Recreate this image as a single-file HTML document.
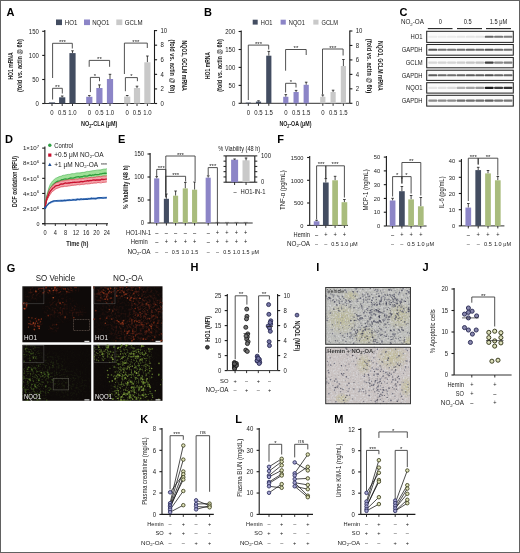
<!DOCTYPE html>
<html><head><meta charset="utf-8"><style>
html,body{margin:0;padding:0;background:#fff;}
body{width:520px;height:553px;overflow:hidden;}
svg{display:block;font-family:"Liberation Sans", sans-serif;will-change:transform;}
</style></head><body>
<svg width="520" height="553" viewBox="0 0 520 553" font-family='"Liberation Sans", sans-serif' fill="#1a1a1a">
<defs><filter id="bl1" x="-20%" y="-100%" width="140%" height="300%"><feGaussianBlur stdDeviation="0.35"/></filter><radialGradient id="rg"><stop offset="0" stop-color="#fff"/><stop offset="0.5" stop-color="#fff" stop-opacity="0.7"/><stop offset="1" stop-color="#fff" stop-opacity="0"/></radialGradient><filter id="f_tl" x="0" y="0" width="100%" height="100%" filterUnits="objectBoundingBox" color-interpolation-filters="sRGB"><feTurbulence type="fractalNoise" baseFrequency="0.5" numOctaves="2" seed="3"/><feColorMatrix type="matrix" values="0 0 0 0 0.55  0 0 0 0 0.17  0 0 0 0 0.1  3.4 0 0 0 -1.55"/></filter><mask id="m_tl" maskUnits="userSpaceOnUse" x="22.4" y="286.3" width="68.8" height="56"><rect x="22.4" y="286.3" width="68.8" height="56" fill="rgb(0,0,0)"/><ellipse cx="53.36" cy="289.66" rx="28.9" ry="5.6" fill="url(#rg)" opacity="0.8"/><ellipse cx="24.46" cy="305.9" rx="4.13" ry="4.48" fill="url(#rg)" opacity="1"/><ellipse cx="34.78" cy="323.26" rx="8.26" ry="6.72" fill="url(#rg)" opacity="1"/><ellipse cx="60.24" cy="308.7" rx="19.26" ry="15.68" fill="url(#rg)" opacity="0.35"/><ellipse cx="32.72" cy="294.7" rx="10.32" ry="8.4" fill="url(#rg)" opacity="0.3"/><ellipse cx="53.36" cy="328.3" rx="6.88" ry="5.6" fill="url(#rg)" opacity="0.4"/><ellipse cx="77.44" cy="311.5" rx="10.32" ry="8.4" fill="url(#rg)" opacity="0.3"/></mask><filter id="f_tr" x="0" y="0" width="100%" height="100%" filterUnits="objectBoundingBox" color-interpolation-filters="sRGB"><feTurbulence type="fractalNoise" baseFrequency="0.45" numOctaves="2" seed="5"/><feColorMatrix type="matrix" values="0 0 0 0 0.42  0 0 0 0 0.15  0 0 0 0 0.1  3.0 0 0 0 -1.3"/></filter><mask id="m_tr" maskUnits="userSpaceOnUse" x="93.5" y="286.3" width="69" height="56"><rect x="93.5" y="286.3" width="69" height="56" fill="rgb(30,30,30)"/><ellipse cx="103.85" cy="294.7" rx="11.73" ry="9.52" fill="url(#rg)" opacity="0.9"/><ellipse cx="128" cy="291.9" rx="20.7" ry="8.4" fill="url(#rg)" opacity="0.8"/><ellipse cx="145.25" cy="314.3" rx="20.7" ry="30.8" fill="url(#rg)" opacity="0.75"/><ellipse cx="128" cy="331.1" rx="20.7" ry="14" fill="url(#rg)" opacity="0.6"/><ellipse cx="159.05" cy="305.9" rx="5.52" ry="8.4" fill="url(#rg)" opacity="1"/><ellipse cx="114.2" cy="314.3" rx="13.8" ry="16.8" fill="url(#rg)" opacity="0.25"/></mask><filter id="f_bl" x="0" y="0" width="100%" height="100%" filterUnits="objectBoundingBox" color-interpolation-filters="sRGB"><feTurbulence type="fractalNoise" baseFrequency="0.55" numOctaves="2" seed="8"/><feColorMatrix type="matrix" values="0 0 0 0 0.26  0 0 0 0 0.37  0 0 0 0 0.13  3.4 0 0 0 -1.6"/></filter><mask id="m_bl" maskUnits="userSpaceOnUse" x="22.4" y="344.8" width="68.8" height="56"><rect x="22.4" y="344.8" width="68.8" height="56" fill="rgb(12,12,12)"/><ellipse cx="32.72" cy="384" rx="19.26" ry="25.2" fill="url(#rg)" opacity="0.9"/><ellipse cx="32.03" cy="352.64" rx="11.01" ry="8.96" fill="url(#rg)" opacity="0.7"/><ellipse cx="49.92" cy="372.8" rx="20.64" ry="22.4" fill="url(#rg)" opacity="0.35"/><ellipse cx="70.56" cy="384" rx="20.64" ry="16.8" fill="url(#rg)" opacity="0.2"/></mask><filter id="f_br" x="0" y="0" width="100%" height="100%" filterUnits="objectBoundingBox" color-interpolation-filters="sRGB"><feTurbulence type="fractalNoise" baseFrequency="0.55" numOctaves="2" seed="17"/><feColorMatrix type="matrix" values="0 0 0 0 0.4  0 0 0 0 0.52  0 0 0 0 0.19  3.3 0 0 0 -1.6"/></filter><mask id="m_br" maskUnits="userSpaceOnUse" x="93.5" y="344.8" width="69" height="56"><rect x="93.5" y="344.8" width="69" height="56" fill="rgb(10,10,10)"/><ellipse cx="132.83" cy="372.8" rx="20.7" ry="39.2" fill="url(#rg)" opacity="0.9"/><ellipse cx="124.55" cy="392.4" rx="17.25" ry="14" fill="url(#rg)" opacity="0.8"/><ellipse cx="102.47" cy="352.64" rx="12.42" ry="10.08" fill="url(#rg)" opacity="1"/><ellipse cx="141.8" cy="356" rx="12.42" ry="14" fill="url(#rg)" opacity="0.7"/><ellipse cx="121.1" cy="361.6" rx="10.35" ry="16.8" fill="url(#rg)" opacity="0.6"/></mask><radialGradient id="yg"><stop offset="0" stop-color="#bdb98a" stop-opacity="0.7"/><stop offset="0.6" stop-color="#bdb98a" stop-opacity="0.35"/><stop offset="1" stop-color="#c9c08a" stop-opacity="0"/></radialGradient><clipPath id="clip_a"><rect x="325.2" y="287" width="85.8" height="57.8"/></clipPath><filter id="fl_a" x="0" y="0" width="100%" height="100%" filterUnits="objectBoundingBox" color-interpolation-filters="sRGB"><feTurbulence type="fractalNoise" baseFrequency="0.6" numOctaves="1" seed="4"/><feColorMatrix type="matrix" values="0 0 0 0 0.86  0 0 0 0 0.86  0 0 0 0 0.87  2.6 0 0 0 -1.2"/></filter><filter id="fd_a" x="0" y="0" width="100%" height="100%" filterUnits="objectBoundingBox" color-interpolation-filters="sRGB"><feTurbulence type="fractalNoise" baseFrequency="0.6" numOctaves="2" seed="11"/><feColorMatrix type="matrix" values="0 0 0 0 0.56  0 0 0 0 0.56  0 0 0 0 0.58  2.2 0 0 0 -1.3"/></filter><clipPath id="clip_b"><rect x="325.2" y="346.8" width="85.8" height="57.4"/></clipPath><filter id="fl_b" x="0" y="0" width="100%" height="100%" filterUnits="objectBoundingBox" color-interpolation-filters="sRGB"><feTurbulence type="fractalNoise" baseFrequency="0.6" numOctaves="1" seed="12"/><feColorMatrix type="matrix" values="0 0 0 0 0.86  0 0 0 0 0.86  0 0 0 0 0.87  2.6 0 0 0 -1.2"/></filter><filter id="fd_b" x="0" y="0" width="100%" height="100%" filterUnits="objectBoundingBox" color-interpolation-filters="sRGB"><feTurbulence type="fractalNoise" baseFrequency="0.6" numOctaves="2" seed="13"/><feColorMatrix type="matrix" values="0 0 0 0 0.56  0 0 0 0 0.56  0 0 0 0 0.58  2.2 0 0 0 -1.35"/></filter></defs>
<rect x="0.5" y="0.5" width="519" height="552" fill="none" stroke="#616161" stroke-width="1"/>
<text x="6.6" y="16.2" font-size="11" font-weight="bold" fill="#000">A</text>
<rect x="56" y="19.5" width="6" height="5.6" fill="#434d61"/>
<text x="64.8" y="25" font-size="6.8" textLength="12.58" lengthAdjust="spacingAndGlyphs">HO1</text>
<rect x="84" y="19.5" width="6" height="5.6" fill="#8c85c7"/>
<text x="92.2" y="25" font-size="6.8" textLength="17.34" lengthAdjust="spacingAndGlyphs">NQO1</text>
<rect x="116.3" y="19.5" width="6" height="5.6" fill="#c9c9c9"/>
<text x="124.8" y="25" font-size="6.8" textLength="17.68" lengthAdjust="spacingAndGlyphs">GCLM</text>
<line x1="44.8" y1="30" x2="44.8" y2="103.5" stroke="#1a1a1a" stroke-width="1.1"/>
<line x1="42.2" y1="31.3" x2="44.8" y2="31.3" stroke="#1a1a1a" stroke-width="1.1"/>
<text x="38.9" y="33.5" font-size="6.4" text-anchor="end" textLength="10.04" lengthAdjust="spacingAndGlyphs">150</text>
<line x1="42.2" y1="55.4" x2="44.8" y2="55.4" stroke="#1a1a1a" stroke-width="1.1"/>
<text x="38.9" y="57.6" font-size="6.4" text-anchor="end" textLength="10.04" lengthAdjust="spacingAndGlyphs">100</text>
<line x1="42.2" y1="79.5" x2="44.8" y2="79.5" stroke="#1a1a1a" stroke-width="1.1"/>
<text x="38.9" y="81.7" font-size="6.4" text-anchor="end" textLength="6.69" lengthAdjust="spacingAndGlyphs">50</text>
<line x1="42.2" y1="103.5" x2="44.8" y2="103.5" stroke="#1a1a1a" stroke-width="1.1"/>
<text x="38.9" y="105.7" font-size="6.4" text-anchor="end" textLength="3.35" lengthAdjust="spacingAndGlyphs">0</text>
<line x1="154.5" y1="30" x2="154.5" y2="103.5" stroke="#1a1a1a" stroke-width="1.1"/>
<line x1="154.5" y1="30.6" x2="157.1" y2="30.6" stroke="#1a1a1a" stroke-width="1.1"/>
<text x="160.4" y="32.8" font-size="6.4" textLength="6.69" lengthAdjust="spacingAndGlyphs">10</text>
<line x1="154.5" y1="45.18" x2="157.1" y2="45.18" stroke="#1a1a1a" stroke-width="1.1"/>
<text x="160.4" y="47.38" font-size="6.4" textLength="3.35" lengthAdjust="spacingAndGlyphs">8</text>
<line x1="154.5" y1="59.76" x2="157.1" y2="59.76" stroke="#1a1a1a" stroke-width="1.1"/>
<text x="160.4" y="61.96" font-size="6.4" textLength="3.35" lengthAdjust="spacingAndGlyphs">6</text>
<line x1="154.5" y1="74.34" x2="157.1" y2="74.34" stroke="#1a1a1a" stroke-width="1.1"/>
<text x="160.4" y="76.54" font-size="6.4" textLength="3.35" lengthAdjust="spacingAndGlyphs">4</text>
<line x1="154.5" y1="88.92" x2="157.1" y2="88.92" stroke="#1a1a1a" stroke-width="1.1"/>
<text x="160.4" y="91.12" font-size="6.4" textLength="3.35" lengthAdjust="spacingAndGlyphs">2</text>
<line x1="154.5" y1="103.5" x2="157.1" y2="103.5" stroke="#1a1a1a" stroke-width="1.1"/>
<text x="160.4" y="105.7" font-size="6.4" textLength="3.35" lengthAdjust="spacingAndGlyphs">0</text>
<line x1="44.8" y1="103.5" x2="154.5" y2="103.5" stroke="#1a1a1a" stroke-width="0.9"/>
<line x1="52" y1="103.5" x2="52" y2="106" stroke="#1a1a1a" stroke-width="0.9"/>
<line x1="62.2" y1="103.5" x2="62.2" y2="106" stroke="#1a1a1a" stroke-width="0.9"/>
<line x1="72.5" y1="103.5" x2="72.5" y2="106" stroke="#1a1a1a" stroke-width="0.9"/>
<line x1="89.3" y1="103.5" x2="89.3" y2="106" stroke="#1a1a1a" stroke-width="0.9"/>
<line x1="99.4" y1="103.5" x2="99.4" y2="106" stroke="#1a1a1a" stroke-width="0.9"/>
<line x1="110" y1="103.5" x2="110" y2="106" stroke="#1a1a1a" stroke-width="0.9"/>
<line x1="127.2" y1="103.5" x2="127.2" y2="106" stroke="#1a1a1a" stroke-width="0.9"/>
<line x1="137" y1="103.5" x2="137" y2="106" stroke="#1a1a1a" stroke-width="0.9"/>
<line x1="147.4" y1="103.5" x2="147.4" y2="106" stroke="#1a1a1a" stroke-width="0.9"/>
<rect x="48.9" y="102.4" width="6.2" height="1.1" fill="#434d61"/>
<line x1="62.2" y1="96" x2="62.2" y2="97.3" stroke="#1a1a1a" stroke-width="0.8"/>
<line x1="60.9" y1="96" x2="63.5" y2="96" stroke="#1a1a1a" stroke-width="0.8"/>
<rect x="59.1" y="97.3" width="6.2" height="6.2" fill="#434d61"/>
<line x1="72.5" y1="50.8" x2="72.5" y2="53.1" stroke="#1a1a1a" stroke-width="0.8"/>
<line x1="71.2" y1="50.8" x2="73.8" y2="50.8" stroke="#1a1a1a" stroke-width="0.8"/>
<rect x="69.4" y="53.1" width="6.2" height="50.4" fill="#434d61"/>
<line x1="89.3" y1="95.6" x2="89.3" y2="96.8" stroke="#1a1a1a" stroke-width="0.8"/>
<line x1="88" y1="95.6" x2="90.6" y2="95.6" stroke="#1a1a1a" stroke-width="0.8"/>
<rect x="86.2" y="96.8" width="6.2" height="6.7" fill="#8c85c7"/>
<line x1="99.4" y1="84.9" x2="99.4" y2="88" stroke="#1a1a1a" stroke-width="0.8"/>
<line x1="98.1" y1="84.9" x2="100.7" y2="84.9" stroke="#1a1a1a" stroke-width="0.8"/>
<rect x="96.3" y="88" width="6.2" height="15.5" fill="#8c85c7"/>
<line x1="110" y1="74.3" x2="110" y2="79" stroke="#1a1a1a" stroke-width="0.8"/>
<line x1="108.7" y1="74.3" x2="111.3" y2="74.3" stroke="#1a1a1a" stroke-width="0.8"/>
<rect x="106.9" y="79" width="6.2" height="24.5" fill="#8c85c7"/>
<line x1="127.2" y1="95.5" x2="127.2" y2="96.6" stroke="#1a1a1a" stroke-width="0.8"/>
<line x1="125.9" y1="95.5" x2="128.5" y2="95.5" stroke="#1a1a1a" stroke-width="0.8"/>
<rect x="124.1" y="96.6" width="6.2" height="6.9" fill="#c9c9c9"/>
<line x1="137" y1="86.2" x2="137" y2="88" stroke="#1a1a1a" stroke-width="0.8"/>
<line x1="135.7" y1="86.2" x2="138.3" y2="86.2" stroke="#1a1a1a" stroke-width="0.8"/>
<rect x="133.9" y="88" width="6.2" height="15.5" fill="#c9c9c9"/>
<line x1="147.4" y1="56" x2="147.4" y2="62.3" stroke="#1a1a1a" stroke-width="0.8"/>
<line x1="146.1" y1="56" x2="148.7" y2="56" stroke="#1a1a1a" stroke-width="0.8"/>
<rect x="144.3" y="62.3" width="6.2" height="41.2" fill="#c9c9c9"/>
<polyline points="52.6,99.5 52.6,88.3 62.3,88.3 62.3,93.5" fill="none" stroke="#333" stroke-width="0.85"/>
<text x="57.45" y="88.9" font-size="6" text-anchor="middle">**</text>
<polyline points="52.6,78 52.6,43.3 72.3,43.3 72.3,48.5" fill="none" stroke="#333" stroke-width="0.85"/>
<text x="62.45" y="43.9" font-size="6" text-anchor="middle">***</text>
<polyline points="89.2,66.8 89.2,60.4 109.6,60.4 109.6,66.8" fill="none" stroke="#333" stroke-width="0.85"/>
<text x="99.4" y="61" font-size="6" text-anchor="middle">**</text>
<polyline points="90.4,92.1 90.4,77.4 99.5,77.4 99.5,81.2" fill="none" stroke="#333" stroke-width="0.85"/>
<text x="94.95" y="78" font-size="6" text-anchor="middle">*</text>
<polyline points="125.4,91.2 125.4,77.6 137.4,77.6 137.4,81.2" fill="none" stroke="#333" stroke-width="0.85"/>
<text x="131.4" y="78.2" font-size="6" text-anchor="middle">*</text>
<polyline points="124.4,74 124.4,43.1 147.3,43.1 147.3,48" fill="none" stroke="#333" stroke-width="0.85"/>
<text x="135.85" y="43.7" font-size="6" text-anchor="middle">***</text>
<text x="52" y="114.8" font-size="6.4" text-anchor="middle" textLength="3.35" lengthAdjust="spacingAndGlyphs">0</text>
<text x="62.2" y="114.8" font-size="6.4" text-anchor="middle" textLength="8.36" lengthAdjust="spacingAndGlyphs">0.5</text>
<text x="72.5" y="114.8" font-size="6.4" text-anchor="middle" textLength="8.36" lengthAdjust="spacingAndGlyphs">1.0</text>
<text x="89.3" y="114.8" font-size="6.4" text-anchor="middle" textLength="3.35" lengthAdjust="spacingAndGlyphs">0</text>
<text x="99.4" y="114.8" font-size="6.4" text-anchor="middle" textLength="8.36" lengthAdjust="spacingAndGlyphs">0.5</text>
<text x="110" y="114.8" font-size="6.4" text-anchor="middle" textLength="8.36" lengthAdjust="spacingAndGlyphs">1.0</text>
<text x="127.2" y="114.8" font-size="6.4" text-anchor="middle" textLength="3.35" lengthAdjust="spacingAndGlyphs">0</text>
<text x="137" y="114.8" font-size="6.4" text-anchor="middle" textLength="8.36" lengthAdjust="spacingAndGlyphs">0.5</text>
<text x="147.4" y="114.8" font-size="6.4" text-anchor="middle" textLength="8.36" lengthAdjust="spacingAndGlyphs">1.0</text>
<text x="99.2" y="126.3" font-size="7.3" text-anchor="middle" font-weight="bold" textLength="36.3" lengthAdjust="spacingAndGlyphs">NO<tspan font-size="5" dy="1.3">2</tspan><tspan dy="-1.3">-CLA (μM)</tspan></text>
<text x="13.2" y="66" font-size="7.3" text-anchor="middle" font-weight="bold" textLength="27.2" lengthAdjust="spacingAndGlyphs" transform="rotate(-90 13.2 66)">HO1 mRNA</text>
<text x="22.2" y="65.6" font-size="7.3" text-anchor="middle" font-weight="bold" textLength="52.7" lengthAdjust="spacingAndGlyphs" transform="rotate(-90 22.2 65.6)">(fold vs. actin @ 6h)</text>
<text x="182.3" y="65.6" font-size="7.3" text-anchor="middle" font-weight="bold" textLength="50.4" lengthAdjust="spacingAndGlyphs" transform="rotate(90 182.3 65.6)">NQO1, GCLM mRNA</text>
<text x="170.2" y="66.4" font-size="7.3" text-anchor="middle" font-weight="bold" textLength="53.8" lengthAdjust="spacingAndGlyphs" transform="rotate(90 170.2 66.4)">(fold vs. actin @ 6h)</text>
<text x="204" y="16.3" font-size="11" font-weight="bold" fill="#000">B</text>
<rect x="252.7" y="19.7" width="5" height="4.9" fill="#434d61"/>
<text x="260.8" y="24.6" font-size="6.3" textLength="11.66" lengthAdjust="spacingAndGlyphs">HO1</text>
<rect x="280.6" y="19.7" width="5.2" height="4.9" fill="#8c85c7"/>
<text x="288.8" y="24.6" font-size="6.3" textLength="16.07" lengthAdjust="spacingAndGlyphs">NQO1</text>
<rect x="313.3" y="19.7" width="5.2" height="4.9" fill="#c9c9c9"/>
<text x="321.5" y="24.6" font-size="6.3" textLength="16.38" lengthAdjust="spacingAndGlyphs">GCLM</text>
<line x1="241.2" y1="30.5" x2="241.2" y2="103.3" stroke="#1a1a1a" stroke-width="1.1"/>
<line x1="238.6" y1="31.5" x2="241.2" y2="31.5" stroke="#1a1a1a" stroke-width="1.1"/>
<text x="235.3" y="33.7" font-size="6.4" text-anchor="end" textLength="10.04" lengthAdjust="spacingAndGlyphs">200</text>
<line x1="238.6" y1="49.5" x2="241.2" y2="49.5" stroke="#1a1a1a" stroke-width="1.1"/>
<text x="235.3" y="51.7" font-size="6.4" text-anchor="end" textLength="10.04" lengthAdjust="spacingAndGlyphs">150</text>
<line x1="238.6" y1="67.4" x2="241.2" y2="67.4" stroke="#1a1a1a" stroke-width="1.1"/>
<text x="235.3" y="69.6" font-size="6.4" text-anchor="end" textLength="10.04" lengthAdjust="spacingAndGlyphs">100</text>
<line x1="238.6" y1="85.4" x2="241.2" y2="85.4" stroke="#1a1a1a" stroke-width="1.1"/>
<text x="235.3" y="87.6" font-size="6.4" text-anchor="end" textLength="6.69" lengthAdjust="spacingAndGlyphs">50</text>
<line x1="238.6" y1="103.3" x2="241.2" y2="103.3" stroke="#1a1a1a" stroke-width="1.1"/>
<text x="235.3" y="105.5" font-size="6.4" text-anchor="end" textLength="3.35" lengthAdjust="spacingAndGlyphs">0</text>
<line x1="349.8" y1="30.5" x2="349.8" y2="103.3" stroke="#1a1a1a" stroke-width="1.1"/>
<line x1="349.8" y1="31" x2="352.4" y2="31" stroke="#1a1a1a" stroke-width="1.1"/>
<text x="355.7" y="33.2" font-size="6.4" textLength="6.69" lengthAdjust="spacingAndGlyphs">10</text>
<line x1="349.8" y1="45.46" x2="352.4" y2="45.46" stroke="#1a1a1a" stroke-width="1.1"/>
<text x="355.7" y="47.66" font-size="6.4" textLength="3.35" lengthAdjust="spacingAndGlyphs">8</text>
<line x1="349.8" y1="59.92" x2="352.4" y2="59.92" stroke="#1a1a1a" stroke-width="1.1"/>
<text x="355.7" y="62.12" font-size="6.4" textLength="3.35" lengthAdjust="spacingAndGlyphs">6</text>
<line x1="349.8" y1="74.38" x2="352.4" y2="74.38" stroke="#1a1a1a" stroke-width="1.1"/>
<text x="355.7" y="76.58" font-size="6.4" textLength="3.35" lengthAdjust="spacingAndGlyphs">4</text>
<line x1="349.8" y1="88.84" x2="352.4" y2="88.84" stroke="#1a1a1a" stroke-width="1.1"/>
<text x="355.7" y="91.04" font-size="6.4" textLength="3.35" lengthAdjust="spacingAndGlyphs">2</text>
<line x1="349.8" y1="103.3" x2="352.4" y2="103.3" stroke="#1a1a1a" stroke-width="1.1"/>
<text x="355.7" y="105.5" font-size="6.4" textLength="3.35" lengthAdjust="spacingAndGlyphs">0</text>
<line x1="241.2" y1="103.3" x2="349.8" y2="103.3" stroke="#1a1a1a" stroke-width="0.9"/>
<line x1="248.3" y1="103.3" x2="248.3" y2="105.8" stroke="#1a1a1a" stroke-width="0.9"/>
<line x1="258.5" y1="103.3" x2="258.5" y2="105.8" stroke="#1a1a1a" stroke-width="0.9"/>
<line x1="268.8" y1="103.3" x2="268.8" y2="105.8" stroke="#1a1a1a" stroke-width="0.9"/>
<line x1="285.8" y1="103.3" x2="285.8" y2="105.8" stroke="#1a1a1a" stroke-width="0.9"/>
<line x1="296.1" y1="103.3" x2="296.1" y2="105.8" stroke="#1a1a1a" stroke-width="0.9"/>
<line x1="306.2" y1="103.3" x2="306.2" y2="105.8" stroke="#1a1a1a" stroke-width="0.9"/>
<line x1="322.8" y1="103.3" x2="322.8" y2="105.8" stroke="#1a1a1a" stroke-width="0.9"/>
<line x1="333.1" y1="103.3" x2="333.1" y2="105.8" stroke="#1a1a1a" stroke-width="0.9"/>
<line x1="343.4" y1="103.3" x2="343.4" y2="105.8" stroke="#1a1a1a" stroke-width="0.9"/>
<rect x="245.7" y="102.6" width="5.2" height="0.7" fill="#434d61"/>
<line x1="258.5" y1="100.8" x2="258.5" y2="101.6" stroke="#1a1a1a" stroke-width="0.8"/>
<line x1="257.2" y1="100.8" x2="259.8" y2="100.8" stroke="#1a1a1a" stroke-width="0.8"/>
<rect x="255.9" y="101.6" width="5.2" height="1.7" fill="#434d61"/>
<line x1="268.8" y1="51.4" x2="268.8" y2="55.7" stroke="#1a1a1a" stroke-width="0.8"/>
<line x1="267.5" y1="51.4" x2="270.1" y2="51.4" stroke="#1a1a1a" stroke-width="0.8"/>
<rect x="266.2" y="55.7" width="5.2" height="47.6" fill="#434d61"/>
<line x1="285.8" y1="94.6" x2="285.8" y2="96.8" stroke="#1a1a1a" stroke-width="0.8"/>
<line x1="284.5" y1="94.6" x2="287.1" y2="94.6" stroke="#1a1a1a" stroke-width="0.8"/>
<rect x="283.2" y="96.8" width="5.2" height="6.5" fill="#8c85c7"/>
<line x1="296.1" y1="90.4" x2="296.1" y2="92" stroke="#1a1a1a" stroke-width="0.8"/>
<line x1="294.8" y1="90.4" x2="297.4" y2="90.4" stroke="#1a1a1a" stroke-width="0.8"/>
<rect x="293.5" y="92" width="5.2" height="11.3" fill="#8c85c7"/>
<line x1="306.2" y1="82.2" x2="306.2" y2="84.8" stroke="#1a1a1a" stroke-width="0.8"/>
<line x1="304.9" y1="82.2" x2="307.5" y2="82.2" stroke="#1a1a1a" stroke-width="0.8"/>
<rect x="303.6" y="84.8" width="5.2" height="18.5" fill="#8c85c7"/>
<line x1="322.8" y1="95" x2="322.8" y2="96.8" stroke="#1a1a1a" stroke-width="0.8"/>
<line x1="321.5" y1="95" x2="324.1" y2="95" stroke="#1a1a1a" stroke-width="0.8"/>
<rect x="320.2" y="96.8" width="5.2" height="6.5" fill="#c9c9c9"/>
<line x1="333.1" y1="90.2" x2="333.1" y2="92" stroke="#1a1a1a" stroke-width="0.8"/>
<line x1="331.8" y1="90.2" x2="334.4" y2="90.2" stroke="#1a1a1a" stroke-width="0.8"/>
<rect x="330.5" y="92" width="5.2" height="11.3" fill="#c9c9c9"/>
<line x1="343.4" y1="59.5" x2="343.4" y2="66" stroke="#1a1a1a" stroke-width="0.8"/>
<line x1="342.1" y1="59.5" x2="344.7" y2="59.5" stroke="#1a1a1a" stroke-width="0.8"/>
<rect x="340.8" y="66" width="5.2" height="37.3" fill="#c9c9c9"/>
<polyline points="248.3,100 248.3,45.1 268.7,45.1 268.7,49.5" fill="none" stroke="#333" stroke-width="0.85"/>
<text x="258.5" y="45.7" font-size="6" text-anchor="middle">***</text>
<polyline points="285.6,70.7 285.6,49.5 306.2,49.5 306.2,55" fill="none" stroke="#333" stroke-width="0.85"/>
<text x="295.9" y="50.1" font-size="6" text-anchor="middle">**</text>
<polyline points="285.6,92.5 285.6,83.3 296,83.3 296,87.5" fill="none" stroke="#333" stroke-width="0.85"/>
<text x="290.8" y="83.9" font-size="6" text-anchor="middle">*</text>
<polyline points="322.5,94.6 322.5,49 343.1,49 343.1,55.5" fill="none" stroke="#333" stroke-width="0.85"/>
<text x="332.8" y="49.6" font-size="6" text-anchor="middle">***</text>
<text x="248.3" y="115.2" font-size="6.4" text-anchor="middle" textLength="3.35" lengthAdjust="spacingAndGlyphs">0</text>
<text x="258.5" y="115.2" font-size="6.4" text-anchor="middle" textLength="8.36" lengthAdjust="spacingAndGlyphs">0.5</text>
<text x="268.8" y="115.2" font-size="6.4" text-anchor="middle" textLength="8.36" lengthAdjust="spacingAndGlyphs">1.5</text>
<text x="285.8" y="115.2" font-size="6.4" text-anchor="middle" textLength="3.35" lengthAdjust="spacingAndGlyphs">0</text>
<text x="296.1" y="115.2" font-size="6.4" text-anchor="middle" textLength="8.36" lengthAdjust="spacingAndGlyphs">0.5</text>
<text x="306.2" y="115.2" font-size="6.4" text-anchor="middle" textLength="8.36" lengthAdjust="spacingAndGlyphs">1.5</text>
<text x="322.8" y="115.2" font-size="6.4" text-anchor="middle" textLength="3.35" lengthAdjust="spacingAndGlyphs">0</text>
<text x="333.1" y="115.2" font-size="6.4" text-anchor="middle" textLength="8.36" lengthAdjust="spacingAndGlyphs">0.5</text>
<text x="343.4" y="115.2" font-size="6.4" text-anchor="middle" textLength="8.36" lengthAdjust="spacingAndGlyphs">1.5</text>
<text x="295.4" y="126.3" font-size="7.3" text-anchor="middle" font-weight="bold" textLength="32" lengthAdjust="spacingAndGlyphs">NO<tspan font-size="5" dy="1.3">2</tspan><tspan dy="-1.3">-OA (μM)</tspan></text>
<text x="210.2" y="65.5" font-size="7.3" text-anchor="middle" font-weight="bold" textLength="27" lengthAdjust="spacingAndGlyphs" transform="rotate(-90 210.2 65.5)">HO1 mRNA</text>
<text x="222.2" y="65.5" font-size="7.3" text-anchor="middle" font-weight="bold" textLength="52.5" lengthAdjust="spacingAndGlyphs" transform="rotate(-90 222.2 65.5)">(fold vs. actin @ 6h)</text>
<text x="377.9" y="65.8" font-size="7.3" text-anchor="middle" font-weight="bold" textLength="49.7" lengthAdjust="spacingAndGlyphs" transform="rotate(90 377.9 65.8)">NQO1, GCLM mRNA</text>
<text x="367.4" y="66" font-size="7.3" text-anchor="middle" font-weight="bold" textLength="54.5" lengthAdjust="spacingAndGlyphs" transform="rotate(90 367.4 66)">(fold vs. actin @ 6h)</text>
<text x="399.5" y="15.8" font-size="11" font-weight="bold" fill="#000">C</text>
<text x="400.9" y="24.4" font-size="6.3">NO<tspan font-size="4.3" dy="1.2">2</tspan><tspan dy="-1.2">-OA</tspan></text>
<text x="440.2" y="24.4" font-size="6.3" text-anchor="middle" textLength="3.15" lengthAdjust="spacingAndGlyphs">0</text>
<text x="467.7" y="24.4" font-size="6.3" text-anchor="middle" textLength="7.88" lengthAdjust="spacingAndGlyphs">0.5</text>
<text x="498.5" y="24.4" font-size="6.3" text-anchor="middle" textLength="17.45" lengthAdjust="spacingAndGlyphs">1.5 μM</text>
<line x1="427.8" y1="28.6" x2="452.5" y2="28.6" stroke="#222" stroke-width="1.1"/>
<line x1="457" y1="28.6" x2="482" y2="28.6" stroke="#222" stroke-width="1.1"/>
<line x1="486" y1="28.6" x2="511" y2="28.6" stroke="#222" stroke-width="1.1"/>
<rect x="426.7" y="31.3" width="86.6" height="11.1" fill="#fbfbfb" stroke="#262626" stroke-width="1.05"/>
<text x="422.6" y="39.15" font-size="6.5" text-anchor="end" textLength="12.03" lengthAdjust="spacingAndGlyphs">HO1</text>
<rect x="428.3" y="35.75" width="9.0" height="2.1" rx="0.9" fill="rgb(237,237,237)" filter="url(#bl1)"/>
<rect x="437.7" y="35.75" width="9.0" height="2.1" rx="0.9" fill="rgb(237,237,237)" filter="url(#bl1)"/>
<rect x="447.1" y="35.75" width="9.0" height="2.1" rx="0.9" fill="rgb(235,235,235)" filter="url(#bl1)"/>
<rect x="456.5" y="35.75" width="9.0" height="2.1" rx="0.9" fill="rgb(230,230,230)" filter="url(#bl1)"/>
<rect x="465.9" y="35.75" width="9.0" height="2.1" rx="0.9" fill="rgb(228,228,228)" filter="url(#bl1)"/>
<rect x="475.3" y="35.75" width="9.0" height="2.1" rx="0.9" fill="rgb(226,226,226)" filter="url(#bl1)"/>
<rect x="484.7" y="35.75" width="9.0" height="2.1" rx="0.9" fill="rgb(102,102,102)" filter="url(#bl1)"/>
<rect x="494.1" y="35.75" width="9.0" height="2.1" rx="0.9" fill="rgb(118,118,118)" filter="url(#bl1)"/>
<rect x="503.5" y="35.75" width="9.0" height="2.1" rx="0.9" fill="rgb(125,125,125)" filter="url(#bl1)"/>
<rect x="426.7" y="44.5" width="86.6" height="10.7" fill="#fbfbfb" stroke="#262626" stroke-width="1.05"/>
<text x="422.6" y="52.15" font-size="6.5" text-anchor="end" textLength="20.8" lengthAdjust="spacingAndGlyphs">GAPDH</text>
<rect x="428.3" y="48.75" width="9.0" height="2.1" rx="0.9" fill="rgb(89,89,89)" filter="url(#bl1)"/>
<rect x="437.7" y="48.75" width="9.0" height="2.1" rx="0.9" fill="rgb(118,118,118)" filter="url(#bl1)"/>
<rect x="447.1" y="48.75" width="9.0" height="2.1" rx="0.9" fill="rgb(118,118,118)" filter="url(#bl1)"/>
<rect x="456.5" y="48.75" width="9.0" height="2.1" rx="0.9" fill="rgb(111,111,111)" filter="url(#bl1)"/>
<rect x="465.9" y="48.75" width="9.0" height="2.1" rx="0.9" fill="rgb(102,102,102)" filter="url(#bl1)"/>
<rect x="475.3" y="48.75" width="9.0" height="2.1" rx="0.9" fill="rgb(107,107,107)" filter="url(#bl1)"/>
<rect x="484.7" y="48.75" width="9.0" height="2.1" rx="0.9" fill="rgb(84,84,84)" filter="url(#bl1)"/>
<rect x="494.1" y="48.75" width="9.0" height="2.1" rx="0.9" fill="rgb(107,107,107)" filter="url(#bl1)"/>
<rect x="503.5" y="48.75" width="9.0" height="2.1" rx="0.9" fill="rgb(111,111,111)" filter="url(#bl1)"/>
<rect x="426.7" y="57.5" width="86.6" height="10.3" fill="#fbfbfb" stroke="#262626" stroke-width="1.05"/>
<text x="422.6" y="64.95" font-size="6.5" text-anchor="end" textLength="16.9" lengthAdjust="spacingAndGlyphs">GCLM</text>
<rect x="428.3" y="61.55" width="9.0" height="2.1" rx="0.9" fill="rgb(215,215,215)" filter="url(#bl1)"/>
<rect x="437.7" y="61.55" width="9.0" height="2.1" rx="0.9" fill="rgb(212,212,212)" filter="url(#bl1)"/>
<rect x="447.1" y="61.55" width="9.0" height="2.1" rx="0.9" fill="rgb(212,212,212)" filter="url(#bl1)"/>
<rect x="456.5" y="61.55" width="9.0" height="2.1" rx="0.9" fill="rgb(206,206,206)" filter="url(#bl1)"/>
<rect x="465.9" y="61.55" width="9.0" height="2.1" rx="0.9" fill="rgb(197,197,197)" filter="url(#bl1)"/>
<rect x="475.3" y="61.55" width="9.0" height="2.1" rx="0.9" fill="rgb(192,192,192)" filter="url(#bl1)"/>
<rect x="484.7" y="61.55" width="9.0" height="2.1" rx="0.9" fill="rgb(66,66,66)" filter="url(#bl1)"/>
<rect x="494.1" y="61.55" width="9.0" height="2.1" rx="0.9" fill="rgb(140,140,140)" filter="url(#bl1)"/>
<rect x="503.5" y="61.55" width="9.0" height="2.1" rx="0.9" fill="rgb(129,129,129)" filter="url(#bl1)"/>
<rect x="426.7" y="70.2" width="86.6" height="10.2" fill="#fbfbfb" stroke="#262626" stroke-width="1.05"/>
<text x="422.6" y="77.6" font-size="6.5" text-anchor="end" textLength="20.8" lengthAdjust="spacingAndGlyphs">GAPDH</text>
<rect x="428.3" y="74.2" width="9.0" height="2.1" rx="0.9" fill="rgb(93,93,93)" filter="url(#bl1)"/>
<rect x="437.7" y="74.2" width="9.0" height="2.1" rx="0.9" fill="rgb(107,107,107)" filter="url(#bl1)"/>
<rect x="447.1" y="74.2" width="9.0" height="2.1" rx="0.9" fill="rgb(111,111,111)" filter="url(#bl1)"/>
<rect x="456.5" y="74.2" width="9.0" height="2.1" rx="0.9" fill="rgb(102,102,102)" filter="url(#bl1)"/>
<rect x="465.9" y="74.2" width="9.0" height="2.1" rx="0.9" fill="rgb(93,93,93)" filter="url(#bl1)"/>
<rect x="475.3" y="74.2" width="9.0" height="2.1" rx="0.9" fill="rgb(95,95,95)" filter="url(#bl1)"/>
<rect x="484.7" y="74.2" width="9.0" height="2.1" rx="0.9" fill="rgb(80,80,80)" filter="url(#bl1)"/>
<rect x="494.1" y="74.2" width="9.0" height="2.1" rx="0.9" fill="rgb(102,102,102)" filter="url(#bl1)"/>
<rect x="503.5" y="74.2" width="9.0" height="2.1" rx="0.9" fill="rgb(102,102,102)" filter="url(#bl1)"/>
<rect x="426.7" y="82.7" width="86.6" height="10.4" fill="#fbfbfb" stroke="#262626" stroke-width="1.05"/>
<text x="422.6" y="90.2" font-size="6.5" text-anchor="end" textLength="16.58" lengthAdjust="spacingAndGlyphs">NQO1</text>
<rect x="428.3" y="86.8" width="9.0" height="2.1" rx="0.9" fill="rgb(228,228,228)" filter="url(#bl1)"/>
<rect x="437.7" y="86.8" width="9.0" height="2.1" rx="0.9" fill="rgb(224,224,224)" filter="url(#bl1)"/>
<rect x="447.1" y="86.8" width="9.0" height="2.1" rx="0.9" fill="rgb(219,219,219)" filter="url(#bl1)"/>
<rect x="456.5" y="86.8" width="9.0" height="2.1" rx="0.9" fill="rgb(174,174,174)" filter="url(#bl1)"/>
<rect x="465.9" y="86.8" width="9.0" height="2.1" rx="0.9" fill="rgb(163,163,163)" filter="url(#bl1)"/>
<rect x="475.3" y="86.8" width="9.0" height="2.1" rx="0.9" fill="rgb(152,152,152)" filter="url(#bl1)"/>
<rect x="484.7" y="86.8" width="9.0" height="2.1" rx="0.9" fill="rgb(28,28,28)" filter="url(#bl1)"/>
<rect x="494.1" y="86.8" width="9.0" height="2.1" rx="0.9" fill="rgb(62,62,62)" filter="url(#bl1)"/>
<rect x="503.5" y="86.8" width="9.0" height="2.1" rx="0.9" fill="rgb(50,50,50)" filter="url(#bl1)"/>
<rect x="426.7" y="95.3" width="86.6" height="10.8" fill="#fbfbfb" stroke="#262626" stroke-width="1.05"/>
<text x="422.6" y="103" font-size="6.5" text-anchor="end" textLength="20.8" lengthAdjust="spacingAndGlyphs">GAPDH</text>
<rect x="428.3" y="99.6" width="9.0" height="2.1" rx="0.9" fill="rgb(140,140,140)" filter="url(#bl1)"/>
<rect x="437.7" y="99.6" width="9.0" height="2.1" rx="0.9" fill="rgb(140,140,140)" filter="url(#bl1)"/>
<rect x="447.1" y="99.6" width="9.0" height="2.1" rx="0.9" fill="rgb(140,140,140)" filter="url(#bl1)"/>
<rect x="456.5" y="99.6" width="9.0" height="2.1" rx="0.9" fill="rgb(111,111,111)" filter="url(#bl1)"/>
<rect x="465.9" y="99.6" width="9.0" height="2.1" rx="0.9" fill="rgb(111,111,111)" filter="url(#bl1)"/>
<rect x="475.3" y="99.6" width="9.0" height="2.1" rx="0.9" fill="rgb(111,111,111)" filter="url(#bl1)"/>
<rect x="484.7" y="99.6" width="9.0" height="2.1" rx="0.9" fill="rgb(95,95,95)" filter="url(#bl1)"/>
<rect x="494.1" y="99.6" width="9.0" height="2.1" rx="0.9" fill="rgb(118,118,118)" filter="url(#bl1)"/>
<rect x="503.5" y="99.6" width="9.0" height="2.1" rx="0.9" fill="rgb(118,118,118)" filter="url(#bl1)"/>
<text x="5" y="143" font-size="11" font-weight="bold" fill="#000">D</text>
<line x1="44.9" y1="146.5" x2="44.9" y2="223.7" stroke="#1a1a1a" stroke-width="1.1"/>
<line x1="42.2" y1="148.1" x2="44.9" y2="148.1" stroke="#1a1a1a" stroke-width="1.1"/>
<text x="39.2" y="150.3" font-size="5.7" text-anchor="end" textLength="16.3" lengthAdjust="spacingAndGlyphs">1×10<tspan font-size="4" dy="-2.2">7</tspan></text>
<line x1="42.2" y1="163.22" x2="44.9" y2="163.22" stroke="#1a1a1a" stroke-width="1.1"/>
<text x="39.2" y="165.42" font-size="5.7" text-anchor="end" textLength="16.3" lengthAdjust="spacingAndGlyphs">8×10<tspan font-size="4" dy="-2.2">6</tspan></text>
<line x1="42.2" y1="178.34" x2="44.9" y2="178.34" stroke="#1a1a1a" stroke-width="1.1"/>
<text x="39.2" y="180.54" font-size="5.7" text-anchor="end" textLength="16.3" lengthAdjust="spacingAndGlyphs">6×10<tspan font-size="4" dy="-2.2">6</tspan></text>
<line x1="42.2" y1="193.46" x2="44.9" y2="193.46" stroke="#1a1a1a" stroke-width="1.1"/>
<text x="39.2" y="195.66" font-size="5.7" text-anchor="end" textLength="16.3" lengthAdjust="spacingAndGlyphs">4×10<tspan font-size="4" dy="-2.2">6</tspan></text>
<line x1="42.2" y1="208.58" x2="44.9" y2="208.58" stroke="#1a1a1a" stroke-width="1.1"/>
<text x="39.2" y="210.78" font-size="5.7" text-anchor="end" textLength="16.3" lengthAdjust="spacingAndGlyphs">2×10<tspan font-size="4" dy="-2.2">6</tspan></text>
<line x1="42.2" y1="223.7" x2="44.9" y2="223.7" stroke="#1a1a1a" stroke-width="1.1"/>
<text x="39.4" y="225.9" font-size="6" text-anchor="end" textLength="3" lengthAdjust="spacingAndGlyphs">0</text>
<line x1="42" y1="223.7" x2="108" y2="223.7" stroke="#1a1a1a" stroke-width="1.1"/>
<line x1="45" y1="223.7" x2="45" y2="226" stroke="#1a1a1a" stroke-width="0.9"/>
<text x="45" y="235" font-size="6.3" text-anchor="middle" textLength="3.15" lengthAdjust="spacingAndGlyphs">0</text>
<line x1="55.3" y1="223.7" x2="55.3" y2="226" stroke="#1a1a1a" stroke-width="0.9"/>
<text x="55.3" y="235" font-size="6.3" text-anchor="middle" textLength="3.15" lengthAdjust="spacingAndGlyphs">4</text>
<line x1="65.6" y1="223.7" x2="65.6" y2="226" stroke="#1a1a1a" stroke-width="0.9"/>
<text x="65.6" y="235" font-size="6.3" text-anchor="middle" textLength="3.15" lengthAdjust="spacingAndGlyphs">8</text>
<line x1="75.9" y1="223.7" x2="75.9" y2="226" stroke="#1a1a1a" stroke-width="0.9"/>
<text x="75.9" y="235" font-size="6.3" text-anchor="middle" textLength="6.31" lengthAdjust="spacingAndGlyphs">12</text>
<line x1="86.2" y1="223.7" x2="86.2" y2="226" stroke="#1a1a1a" stroke-width="0.9"/>
<text x="86.2" y="235" font-size="6.3" text-anchor="middle" textLength="6.31" lengthAdjust="spacingAndGlyphs">16</text>
<line x1="96.5" y1="223.7" x2="96.5" y2="226" stroke="#1a1a1a" stroke-width="0.9"/>
<text x="96.5" y="235" font-size="6.3" text-anchor="middle" textLength="6.31" lengthAdjust="spacingAndGlyphs">20</text>
<line x1="106.8" y1="223.7" x2="106.8" y2="226" stroke="#1a1a1a" stroke-width="0.9"/>
<text x="106.8" y="235" font-size="6.3" text-anchor="middle" textLength="6.31" lengthAdjust="spacingAndGlyphs">24</text>
<text x="77.3" y="245.6" font-size="7.5" text-anchor="middle" font-weight="bold" textLength="22" lengthAdjust="spacingAndGlyphs">Time (h)</text>
<text x="17.2" y="181.5" font-size="6.8" text-anchor="middle" font-weight="bold" textLength="51" lengthAdjust="spacingAndGlyphs" transform="rotate(-90 17.2 181.5)">DCF oxidation (RFU)</text>
<path d="M45,207.75 L45.64,202.5 L46.29,197.93 L46.93,194.95 L47.58,192.28 L48.86,187.71 L50.15,184.78 L51.44,182.68 L52.73,181.04 L54.01,179.76 L55.3,178.74 L56.59,177.93 L57.88,177.27 L59.16,176.72 L60.45,176.27 L61.74,175.88 L63.03,175.54 L64.31,175.24 L65.6,174.96 L66.89,174.71 L68.17,174.48 L69.46,174.26 L70.75,174.05 L72.04,173.84 L73.33,173.65 L74.61,173.45 L75.9,173.26 L77.19,173.07 L78.47,172.88 L79.76,172.7 L81.05,172.51 L82.34,172.33 L83.62,172.15 L84.91,171.96 L86.2,171.78 L87.49,171.6 L88.78,171.42 L90.06,171.24 L91.35,171.05 L92.64,170.87 L93.93,170.69 L95.21,170.51 L96.5,170.33 L97.79,170.15 L99.08,169.96 L100.36,169.78 L101.65,169.6 L102.94,169.42 L104.22,169.24 L105.51,169.06 L106.8,168.87 L106.8,177.19 L105.51,177.37 L104.22,177.55 L102.94,177.74 L101.65,177.92 L100.36,178.1 L99.08,178.28 L97.79,178.46 L96.5,178.64 L95.21,178.82 L93.93,179.01 L92.64,179.19 L91.35,179.37 L90.06,179.55 L88.78,179.73 L87.49,179.91 L86.2,180.1 L84.91,180.28 L83.62,180.46 L82.34,180.65 L81.05,180.83 L79.76,181.01 L78.47,181.2 L77.19,181.39 L75.9,181.58 L74.61,181.77 L73.33,181.96 L72.04,182.16 L70.75,182.36 L69.46,182.58 L68.17,182.8 L66.89,183.03 L65.6,183.28 L64.31,183.55 L63.03,183.85 L61.74,184.19 L60.45,184.58 L59.16,185.04 L57.88,185.58 L56.59,186.24 L55.3,187.06 L54.01,188.07 L52.73,189.36 L51.44,191 L50.15,193.1 L48.86,195.61 L47.58,198.1 L46.93,199.73 L46.29,201.67 L45.64,205.21 L45,209.41Z" fill="#9fe098"/>
<polyline points="45,207.78 45.64,202.63 46.29,197.8 46.93,194.96 47.58,192.52 48.86,187.95 50.15,184.56 51.44,182.5 52.73,180.77 54.01,179.72 55.3,178.46 56.59,177.9 57.88,177.36 59.16,176.59 60.45,176.37 61.74,175.93 63.03,175.25 64.31,175.27 65.6,174.82 66.89,174.66 68.17,174.35 69.46,174.38 70.75,174.01 72.04,173.64 73.33,173.67 74.61,173.62 75.9,173.14 77.19,172.9 78.47,172.82 79.76,172.96 81.05,172.8 82.34,172.43 83.62,172.39 84.91,172.17 86.2,171.71 87.49,171.35 88.78,171.51 90.06,171.27 91.35,170.97 92.64,170.71 93.93,170.63 95.21,170.49 96.5,170.19 97.79,170.02 99.08,169.94 100.36,170 101.65,169.65 102.94,169.29 104.22,169.1 105.51,169.03 106.8,168.7" fill="none" stroke="#3fb04c" stroke-width="0.6"/>
<polyline points="45,209.23 45.64,205.21 46.29,201.42 46.93,199.72 47.58,198.02 48.86,195.74 50.15,193.25 51.44,191.11 52.73,189.47 54.01,188 55.3,187.16 56.59,186.15 57.88,185.63 59.16,184.93 60.45,184.55 61.74,183.93 63.03,183.7 64.31,183.83 65.6,183.12 66.89,183.14 68.17,182.89 69.46,182.71 70.75,182.35 72.04,182.22 73.33,181.7 74.61,181.51 75.9,181.4 77.19,181.18 78.47,180.96 79.76,180.79 81.05,180.86 82.34,180.46 83.62,180.73 84.91,180.39 86.2,180.12 87.49,180.04 88.78,179.59 90.06,179.81 91.35,179.57 92.64,179.32 93.93,178.99 95.21,179.03 96.5,178.79 97.79,178.56 99.08,178.53 100.36,178.18 101.65,177.84 102.94,177.77 104.22,177.37 105.51,177.19 106.8,177.33" fill="none" stroke="#3fb04c" stroke-width="0.6"/>
<polyline points="45,208.81 45.64,204.23 46.29,200.08 46.93,197.38 47.58,194.86 48.86,191.65 50.15,189.28 51.44,187.07 52.73,185.19 54.01,183.88 55.3,182.67 56.59,181.83 57.88,181.08 59.16,181.19 60.45,180.54 61.74,179.75 63.03,179.63 64.31,179.03 65.6,178.89 66.89,179.06 68.17,178.76 69.46,178.4 70.75,178.03 72.04,178.12 73.33,178.17 74.61,177.56 75.9,177.07 77.19,176.88 78.47,176.71 79.76,177.22 81.05,176.7 82.34,176.76 83.62,176.04 84.91,175.93 86.2,176.09 87.49,176.07 88.78,175.45 90.06,175.04 91.35,175.5 92.64,174.86 93.93,175.04 95.21,174.39 96.5,174.64 97.79,174.58 99.08,174.3 100.36,173.83 101.65,173.94 102.94,173.29 104.22,173.25 105.51,173.15 106.8,173.33" fill="none" stroke="#2c9e3c" stroke-width="1.3"/>
<path d="M45,207.98 L45.64,203.34 L46.29,199.39 L46.93,196.91 L47.58,194.69 L48.86,190.91 L50.15,188.44 L51.44,186.66 L52.73,185.27 L54.01,184.19 L55.3,183.34 L56.59,182.67 L57.88,182.13 L59.16,181.68 L60.45,181.32 L61.74,181.01 L63.03,180.75 L64.31,180.51 L65.6,180.31 L66.89,180.12 L68.17,179.95 L69.46,179.78 L70.75,179.63 L72.04,179.48 L73.33,179.34 L74.61,179.2 L75.9,179.06 L77.19,178.93 L78.47,178.79 L79.76,178.66 L81.05,178.53 L82.34,178.4 L83.62,178.27 L84.91,178.14 L86.2,178.01 L87.49,177.88 L88.78,177.75 L90.06,177.62 L91.35,177.49 L92.64,177.37 L93.93,177.24 L95.21,177.11 L96.5,176.98 L97.79,176.85 L99.08,176.72 L100.36,176.59 L101.65,176.47 L102.94,176.34 L104.22,176.21 L105.51,176.08 L106.8,175.95 L106.8,182 L105.51,182.13 L104.22,182.26 L102.94,182.38 L101.65,182.51 L100.36,182.64 L99.08,182.77 L97.79,182.9 L96.5,183.03 L95.21,183.16 L93.93,183.28 L92.64,183.41 L91.35,183.54 L90.06,183.67 L88.78,183.8 L87.49,183.93 L86.2,184.06 L84.91,184.19 L83.62,184.32 L82.34,184.45 L81.05,184.58 L79.76,184.71 L78.47,184.84 L77.19,184.98 L75.9,185.11 L74.61,185.25 L73.33,185.39 L72.04,185.53 L70.75,185.68 L69.46,185.83 L68.17,185.99 L66.89,186.17 L65.6,186.36 L64.31,186.56 L63.03,186.79 L61.74,187.06 L60.45,187.37 L59.16,187.73 L57.88,188.17 L56.59,188.72 L55.3,189.39 L54.01,190.24 L52.73,191.32 L51.44,192.7 L50.15,194.49 L48.86,196.66 L47.58,198.92 L46.93,200.38 L46.29,202.11 L45.64,205.31 L45,209.18Z" fill="#f3a2aa"/>
<polyline points="45,207.77 45.64,203.57 46.29,199.57 46.93,197.19 47.58,194.61 48.86,190.74 50.15,188.29 51.44,186.85 52.73,185.55 54.01,184.31 55.3,183.33 56.59,182.54 57.88,182.33 59.16,181.91 60.45,181.07 61.74,180.84 63.03,180.94 64.31,180.72 65.6,180.2 66.89,179.99 68.17,179.91 69.46,179.81 70.75,179.39 72.04,179.68 73.33,179.36 74.61,179.36 75.9,178.9 77.19,179.21 78.47,178.94 79.76,178.57 81.05,178.8 82.34,178.52 83.62,178.47 84.91,177.87 86.2,177.74 87.49,178.03 88.78,177.63 90.06,177.63 91.35,177.29 92.64,177.65 93.93,177.24 95.21,177.31 96.5,176.72 97.79,176.84 99.08,176.46 100.36,176.82 101.65,176.43 102.94,176.08 104.22,175.95 105.51,176.1 106.8,175.7" fill="none" stroke="#d42a3a" stroke-width="0.6"/>
<polyline points="45,209 45.64,205.27 46.29,202.11 46.93,200.43 47.58,198.99 48.86,196.58 50.15,194.56 51.44,192.5 52.73,191.19 54.01,190.42 55.3,189.18 56.59,188.55 57.88,188.02 59.16,187.72 60.45,187.07 61.74,186.78 63.03,186.77 64.31,186.36 65.6,186.46 66.89,186.35 68.17,186.04 69.46,185.95 70.75,185.61 72.04,185.26 73.33,185.35 74.61,185.17 75.9,185.17 77.19,184.76 78.47,184.68 79.76,184.9 81.05,184.44 82.34,184.39 83.62,184.58 84.91,184.05 86.2,183.85 87.49,184.05 88.78,183.84 90.06,183.74 91.35,183.27 92.64,183.36 93.93,182.99 95.21,183 96.5,183.15 97.79,182.64 99.08,182.65 100.36,182.93 101.65,182.8 102.94,182.37 104.22,182.4 105.51,182.21 106.8,181.98" fill="none" stroke="#d42a3a" stroke-width="0.6"/>
<polyline points="45,208.87 45.64,204.07 46.29,201.01 46.93,198.28 47.58,197.1 48.86,193.93 50.15,191.42 51.44,189.82 52.73,188.26 54.01,187.44 55.3,186.06 56.59,185.7 57.88,185.45 59.16,185.05 60.45,184.12 61.74,183.84 63.03,184.09 64.31,183.41 65.6,182.98 66.89,183.32 68.17,182.9 69.46,183 70.75,182.64 72.04,182.51 73.33,182.3 74.61,182.06 75.9,182.41 77.19,182.09 78.47,182.05 79.76,182 81.05,181.35 82.34,181.76 83.62,181.58 84.91,181.17 86.2,181.09 87.49,180.6 88.78,180.99 90.06,180.39 91.35,180.55 92.64,180.09 93.93,179.92 95.21,180.22 96.5,180 97.79,180.01 99.08,179.98 100.36,180 101.65,179.16 102.94,179.47 104.22,179.29 105.51,179.22 106.8,179.01" fill="none" stroke="#c8102e" stroke-width="1.3"/>
<path d="M45,208.37 L45.64,207.04 L46.29,205.89 L46.93,204.89 L47.58,204.01 L48.86,202.56 L50.15,201.65 L51.44,201.01 L52.73,200.55 L54.01,200.21 L55.3,199.96 L56.59,199.88 L57.88,199.79 L59.16,199.71 L60.45,199.62 L61.74,199.54 L63.03,199.45 L64.31,199.37 L65.6,199.28 L66.89,199.2 L68.17,199.11 L69.46,199.03 L70.75,198.94 L72.04,198.86 L73.33,198.77 L74.61,198.69 L75.9,198.6 L77.19,198.52 L78.47,198.43 L79.76,198.35 L81.05,198.26 L82.34,198.18 L83.62,198.09 L84.91,198.01 L86.2,197.92 L87.49,197.84 L88.78,197.75 L90.06,197.67 L91.35,197.58 L92.64,197.5 L93.93,197.41 L95.21,197.33 L96.5,197.24 L97.79,197.15 L99.08,197.07 L100.36,196.98 L101.65,196.9 L102.94,196.81 L104.22,196.73 L105.51,196.64 L106.8,196.56 L106.8,198.68 L105.51,198.76 L104.22,198.85 L102.94,198.93 L101.65,199.02 L100.36,199.1 L99.08,199.19 L97.79,199.27 L96.5,199.36 L95.21,199.44 L93.93,199.53 L92.64,199.61 L91.35,199.7 L90.06,199.78 L88.78,199.87 L87.49,199.95 L86.2,200.04 L84.91,200.12 L83.62,200.21 L82.34,200.29 L81.05,200.38 L79.76,200.46 L78.47,200.55 L77.19,200.63 L75.9,200.72 L74.61,200.8 L73.33,200.89 L72.04,200.97 L70.75,201.06 L69.46,201.14 L68.17,201.23 L66.89,201.31 L65.6,201.4 L64.31,201.48 L63.03,201.57 L61.74,201.65 L60.45,201.74 L59.16,201.82 L57.88,201.91 L56.59,201.99 L55.3,202.08 L54.01,202.33 L52.73,202.67 L51.44,203.13 L50.15,203.76 L48.86,204.57 L47.58,205.49 L46.93,206.11 L46.29,206.85 L45.64,207.73 L45,208.79Z" fill="#8db0e0"/>
<polyline points="45,208.63 45.64,207.68 46.29,206.33 46.93,205.53 47.58,204.91 48.86,203.24 50.15,202.65 51.44,201.75 52.73,201.32 54.01,200.87 55.3,200.79 56.59,200.71 57.88,200.86 59.16,200.82 60.45,200.94 61.74,200.58 63.03,200.82 64.31,200.34 65.6,200.54 66.89,200.3 68.17,200.27 69.46,199.9 70.75,200.35 72.04,200.13 73.33,199.55 74.61,199.77 75.9,200.06 77.19,199.21 78.47,199.33 79.76,199.6 81.05,198.95 82.34,199.43 83.62,199.21 84.91,199.25 86.2,199.02 87.49,199.25 88.78,198.69 90.06,198.78 91.35,198.28 92.64,198.6 93.93,198.4 95.21,198.77 96.5,198.65 97.79,197.92 99.08,197.76 100.36,197.74 101.65,197.71 102.94,198.05 104.22,197.82 105.51,197.73 106.8,197.59" fill="none" stroke="#1f55a0" stroke-width="1.3"/>
<circle cx="45.1" cy="207.8" r="1.2" fill="#1f55a0"/>
<circle cx="49.8" cy="145.3" r="1.7" fill="#2ea043"/>
<text x="54.3" y="147.5" font-size="6.5" textLength="18.86" lengthAdjust="spacingAndGlyphs">Control</text>
<rect x="48.2" y="153.5" width="3.2" height="3.2" fill="#c8102e"/>
<text x="54.3" y="157.2" font-size="6.5">+0.5 μM NO<tspan font-size="4.3" dy="1.2">2</tspan><tspan dy="-1.2">-OA</tspan></text>
<path d="M48,166 L49.8,162.8 L51.6,166 Z" fill="#1f4f96"/>
<text x="54.3" y="166.8" font-size="6.5">+1 μM NO<tspan font-size="4.3" dy="1.2">2</tspan><tspan dy="-1.2">-OA</tspan></text>
<text x="104" y="166.8" font-size="5.5" text-anchor="middle" textLength="5.78" lengthAdjust="spacingAndGlyphs">***</text>
<text x="118" y="142.5" font-size="11" font-weight="bold" fill="#000">E</text>
<line x1="150.1" y1="153" x2="150.1" y2="223" stroke="#1a1a1a" stroke-width="1.1"/>
<line x1="147.5" y1="154" x2="150.1" y2="154" stroke="#1a1a1a" stroke-width="1.1"/>
<text x="144.2" y="156.2" font-size="6.4" text-anchor="end" textLength="10.04" lengthAdjust="spacingAndGlyphs">150</text>
<line x1="147.5" y1="177" x2="150.1" y2="177" stroke="#1a1a1a" stroke-width="1.1"/>
<text x="144.2" y="179.2" font-size="6.4" text-anchor="end" textLength="10.04" lengthAdjust="spacingAndGlyphs">100</text>
<line x1="147.5" y1="200" x2="150.1" y2="200" stroke="#1a1a1a" stroke-width="1.1"/>
<text x="144.2" y="202.2" font-size="6.4" text-anchor="end" textLength="6.69" lengthAdjust="spacingAndGlyphs">50</text>
<line x1="147.5" y1="223" x2="150.1" y2="223" stroke="#1a1a1a" stroke-width="1.1"/>
<text x="144.2" y="225.2" font-size="6.4" text-anchor="end" textLength="3.35" lengthAdjust="spacingAndGlyphs">0</text>
<line x1="150.1" y1="223" x2="252.7" y2="223" stroke="#1a1a1a" stroke-width="0.9"/>
<line x1="156.7" y1="223" x2="156.7" y2="225.5" stroke="#1a1a1a" stroke-width="0.9"/>
<line x1="166.4" y1="223" x2="166.4" y2="225.5" stroke="#1a1a1a" stroke-width="0.9"/>
<line x1="175.6" y1="223" x2="175.6" y2="225.5" stroke="#1a1a1a" stroke-width="0.9"/>
<line x1="185.3" y1="223" x2="185.3" y2="225.5" stroke="#1a1a1a" stroke-width="0.9"/>
<line x1="194.6" y1="223" x2="194.6" y2="225.5" stroke="#1a1a1a" stroke-width="0.9"/>
<line x1="208.2" y1="223" x2="208.2" y2="225.5" stroke="#1a1a1a" stroke-width="0.9"/>
<line x1="217.5" y1="223" x2="217.5" y2="225.5" stroke="#1a1a1a" stroke-width="0.9"/>
<line x1="227" y1="223" x2="227" y2="225.5" stroke="#1a1a1a" stroke-width="0.9"/>
<line x1="236.5" y1="223" x2="236.5" y2="225.5" stroke="#1a1a1a" stroke-width="0.9"/>
<line x1="245.7" y1="223" x2="245.7" y2="225.5" stroke="#1a1a1a" stroke-width="0.9"/>
<line x1="156.7" y1="176.6" x2="156.7" y2="178.4" stroke="#1a1a1a" stroke-width="0.8"/>
<line x1="155.4" y1="176.6" x2="158" y2="176.6" stroke="#1a1a1a" stroke-width="0.8"/>
<rect x="154.15" y="178.4" width="5.1" height="44.6" fill="#8c85c7"/>
<line x1="166.4" y1="194" x2="166.4" y2="198.8" stroke="#1a1a1a" stroke-width="0.8"/>
<line x1="165.1" y1="194" x2="167.7" y2="194" stroke="#1a1a1a" stroke-width="0.8"/>
<rect x="163.85" y="198.8" width="5.1" height="24.2" fill="#434d61"/>
<line x1="175.6" y1="191" x2="175.6" y2="195.7" stroke="#1a1a1a" stroke-width="0.8"/>
<line x1="174.3" y1="191" x2="176.9" y2="191" stroke="#1a1a1a" stroke-width="0.8"/>
<rect x="173.05" y="195.7" width="5.1" height="27.3" fill="#a9bc7d"/>
<line x1="185.3" y1="182.4" x2="185.3" y2="188.4" stroke="#1a1a1a" stroke-width="0.8"/>
<line x1="184" y1="182.4" x2="186.6" y2="182.4" stroke="#1a1a1a" stroke-width="0.8"/>
<rect x="182.75" y="188.4" width="5.1" height="34.6" fill="#a9bc7d"/>
<line x1="194.6" y1="182" x2="194.6" y2="189.7" stroke="#1a1a1a" stroke-width="0.8"/>
<line x1="193.3" y1="182" x2="195.9" y2="182" stroke="#1a1a1a" stroke-width="0.8"/>
<rect x="192.05" y="189.7" width="5.1" height="33.3" fill="#a9bc7d"/>
<line x1="208.2" y1="175.8" x2="208.2" y2="177.7" stroke="#1a1a1a" stroke-width="0.8"/>
<line x1="206.9" y1="175.8" x2="209.5" y2="175.8" stroke="#1a1a1a" stroke-width="0.8"/>
<rect x="205.65" y="177.7" width="5.1" height="45.3" fill="#8c85c7"/>
<line x1="215.5" y1="222.4" x2="219.5" y2="222.4" stroke="#555" stroke-width="0.6"/>
<line x1="225" y1="222.4" x2="229" y2="222.4" stroke="#555" stroke-width="0.6"/>
<line x1="234.5" y1="222.4" x2="238.5" y2="222.4" stroke="#555" stroke-width="0.6"/>
<line x1="243.7" y1="222.4" x2="247.7" y2="222.4" stroke="#555" stroke-width="0.6"/>
<polyline points="156.7,176 156.7,169.4 165.8,169.4 165.8,197.5" fill="none" stroke="#333" stroke-width="0.85"/>
<text x="161.25" y="170" font-size="6" text-anchor="middle">***</text>
<polyline points="165.8,197 165.8,176.3 185.6,176.3 185.6,181.5" fill="none" stroke="#333" stroke-width="0.85"/>
<text x="175.7" y="176.9" font-size="6" text-anchor="middle">***</text>
<polyline points="165.8,192.5 165.8,156 195.1,156 195.1,181" fill="none" stroke="#333" stroke-width="0.85"/>
<text x="180.45" y="156.6" font-size="6" text-anchor="middle">***</text>
<polyline points="208.2,175 208.2,167.6 217.4,167.6 217.4,223" fill="none" stroke="#333" stroke-width="0.85"/>
<text x="212.8" y="168.2" font-size="6" text-anchor="middle">***</text>
<text x="138.6" y="234.5" font-size="6.3" text-anchor="middle" textLength="25.07" lengthAdjust="spacingAndGlyphs">HO1-IN-1</text>
<text x="139.3" y="244.1" font-size="6.3" text-anchor="middle" textLength="16.93" lengthAdjust="spacingAndGlyphs">Hemin</text>
<text x="139" y="253.7" font-size="6.3" text-anchor="middle">NO<tspan font-size="4.3" dy="1.2">2</tspan><tspan dy="-1.2">-OA</tspan></text>
<text x="156.7" y="234.5" font-size="6.3" text-anchor="middle" textLength="3.15" lengthAdjust="spacingAndGlyphs">–</text>
<text x="156.7" y="244.1" font-size="6.3" text-anchor="middle" textLength="3.15" lengthAdjust="spacingAndGlyphs">–</text>
<text x="156.7" y="253.7" font-size="6.0" text-anchor="middle" textLength="3" lengthAdjust="spacingAndGlyphs">–</text>
<text x="166.4" y="234.5" font-size="6.3" text-anchor="middle" textLength="3.15" lengthAdjust="spacingAndGlyphs">–</text>
<text x="166.4" y="244.1" font-size="6.3" text-anchor="middle" textLength="3.31" lengthAdjust="spacingAndGlyphs">+</text>
<text x="166.4" y="253.7" font-size="6.0" text-anchor="middle" textLength="3" lengthAdjust="spacingAndGlyphs">–</text>
<text x="175.6" y="234.5" font-size="6.3" text-anchor="middle" textLength="3.15" lengthAdjust="spacingAndGlyphs">–</text>
<text x="175.6" y="244.1" font-size="6.3" text-anchor="middle" textLength="3.31" lengthAdjust="spacingAndGlyphs">+</text>
<text x="175.6" y="253.7" font-size="6.0" text-anchor="middle" textLength="7.51" lengthAdjust="spacingAndGlyphs">0.5</text>
<text x="185.3" y="234.5" font-size="6.3" text-anchor="middle" textLength="3.15" lengthAdjust="spacingAndGlyphs">–</text>
<text x="185.3" y="244.1" font-size="6.3" text-anchor="middle" textLength="3.31" lengthAdjust="spacingAndGlyphs">+</text>
<text x="185.3" y="253.7" font-size="6.0" text-anchor="middle" textLength="7.51" lengthAdjust="spacingAndGlyphs">1.0</text>
<text x="194.6" y="234.5" font-size="6.3" text-anchor="middle" textLength="3.15" lengthAdjust="spacingAndGlyphs">–</text>
<text x="194.6" y="244.1" font-size="6.3" text-anchor="middle" textLength="3.31" lengthAdjust="spacingAndGlyphs">+</text>
<text x="194.6" y="253.7" font-size="6.0" text-anchor="middle" textLength="7.51" lengthAdjust="spacingAndGlyphs">1.5</text>
<text x="208.2" y="234.5" font-size="6.3" text-anchor="middle" textLength="3.15" lengthAdjust="spacingAndGlyphs">–</text>
<text x="208.2" y="244.1" font-size="6.3" text-anchor="middle" textLength="3.15" lengthAdjust="spacingAndGlyphs">–</text>
<text x="208.2" y="253.7" font-size="6.0" text-anchor="middle" textLength="3" lengthAdjust="spacingAndGlyphs">–</text>
<text x="217.5" y="234.5" font-size="6.3" text-anchor="middle" textLength="3.31" lengthAdjust="spacingAndGlyphs">+</text>
<text x="217.5" y="244.1" font-size="6.3" text-anchor="middle" textLength="3.31" lengthAdjust="spacingAndGlyphs">+</text>
<text x="217.5" y="253.7" font-size="6.0" text-anchor="middle" textLength="3" lengthAdjust="spacingAndGlyphs">–</text>
<text x="227" y="234.5" font-size="6.3" text-anchor="middle" textLength="3.31" lengthAdjust="spacingAndGlyphs">+</text>
<text x="227" y="244.1" font-size="6.3" text-anchor="middle" textLength="3.31" lengthAdjust="spacingAndGlyphs">+</text>
<text x="227" y="253.7" font-size="6.0" text-anchor="middle" textLength="7.51" lengthAdjust="spacingAndGlyphs">0.5</text>
<text x="236.5" y="234.5" font-size="6.3" text-anchor="middle" textLength="3.31" lengthAdjust="spacingAndGlyphs">+</text>
<text x="236.5" y="244.1" font-size="6.3" text-anchor="middle" textLength="3.31" lengthAdjust="spacingAndGlyphs">+</text>
<text x="236.5" y="253.7" font-size="6.0" text-anchor="middle" textLength="7.51" lengthAdjust="spacingAndGlyphs">1.0</text>
<text x="245.7" y="234.5" font-size="6.3" text-anchor="middle" textLength="3.31" lengthAdjust="spacingAndGlyphs">+</text>
<text x="245.7" y="244.1" font-size="6.3" text-anchor="middle" textLength="3.31" lengthAdjust="spacingAndGlyphs">+</text>
<text x="245.7" y="253.7" font-size="6.0" text-anchor="middle" textLength="7.51" lengthAdjust="spacingAndGlyphs">1.5</text>
<text x="251.5" y="253.7" font-size="6.0" textLength="7.61" lengthAdjust="spacingAndGlyphs">μM</text>
<text x="128.3" y="187.3" font-size="7.2" text-anchor="middle" font-weight="bold" textLength="44" lengthAdjust="spacingAndGlyphs" transform="rotate(-90 128.3 187.3)">% Viability (48 h)</text>
<line x1="226" y1="155.9" x2="254.8" y2="155.9" stroke="#1a1a1a" stroke-width="1.1"/>
<line x1="226" y1="155.9" x2="226" y2="182.2" stroke="#1a1a1a" stroke-width="1.1"/>
<line x1="254.8" y1="155.9" x2="254.8" y2="182.2" stroke="#1a1a1a" stroke-width="1.1"/>
<line x1="226" y1="182.2" x2="254.8" y2="182.2" stroke="#1a1a1a" stroke-width="1.1"/>
<line x1="223.5" y1="155.9" x2="226" y2="155.9" stroke="#1a1a1a" stroke-width="1.0"/>
<line x1="254.8" y1="155.9" x2="257.3" y2="155.9" stroke="#1a1a1a" stroke-width="1.0"/>
<line x1="223.5" y1="161.16" x2="226" y2="161.16" stroke="#1a1a1a" stroke-width="1.0"/>
<line x1="254.8" y1="161.16" x2="257.3" y2="161.16" stroke="#1a1a1a" stroke-width="1.0"/>
<line x1="223.5" y1="166.42" x2="226" y2="166.42" stroke="#1a1a1a" stroke-width="1.0"/>
<line x1="254.8" y1="166.42" x2="257.3" y2="166.42" stroke="#1a1a1a" stroke-width="1.0"/>
<line x1="223.5" y1="171.68" x2="226" y2="171.68" stroke="#1a1a1a" stroke-width="1.0"/>
<line x1="254.8" y1="171.68" x2="257.3" y2="171.68" stroke="#1a1a1a" stroke-width="1.0"/>
<line x1="223.5" y1="176.94" x2="226" y2="176.94" stroke="#1a1a1a" stroke-width="1.0"/>
<line x1="254.8" y1="176.94" x2="257.3" y2="176.94" stroke="#1a1a1a" stroke-width="1.0"/>
<line x1="223.5" y1="182.2" x2="226" y2="182.2" stroke="#1a1a1a" stroke-width="1.0"/>
<line x1="254.8" y1="182.2" x2="257.3" y2="182.2" stroke="#1a1a1a" stroke-width="1.0"/>
<rect x="231.1" y="159.7" width="7" height="22.5" fill="#8c85c7"/>
<line x1="234.6" y1="159" x2="234.6" y2="159.7" stroke="#1a1a1a" stroke-width="0.9"/>
<line x1="233.4" y1="159" x2="235.8" y2="159" stroke="#1a1a1a" stroke-width="0.9"/>
<rect x="242.5" y="160.3" width="7.1" height="21.9" fill="#c9c9c9"/>
<line x1="246.05" y1="158" x2="246.05" y2="160.3" stroke="#1a1a1a" stroke-width="0.9"/>
<line x1="244.8" y1="158" x2="247.3" y2="158" stroke="#1a1a1a" stroke-width="0.9"/>
<line x1="234.6" y1="182.2" x2="234.6" y2="185" stroke="#1a1a1a" stroke-width="0.9"/>
<line x1="246.05" y1="182.2" x2="246.05" y2="185" stroke="#1a1a1a" stroke-width="0.9"/>
<text x="261" y="158.1" font-size="6.4" textLength="10.04" lengthAdjust="spacingAndGlyphs">100</text>
<text x="261" y="184.4" font-size="6.4" textLength="3.2" lengthAdjust="spacingAndGlyphs">0</text>
<text x="239.2" y="151.2" font-size="6.3" text-anchor="middle" textLength="42" lengthAdjust="spacingAndGlyphs">% Viability (48 h)</text>
<text x="233.6" y="194" font-size="6.3" textLength="3.15" lengthAdjust="spacingAndGlyphs">–</text>
<text x="240.5" y="194" font-size="6.5" textLength="25" lengthAdjust="spacingAndGlyphs">HO1-IN-1</text>
<text x="277.3" y="143" font-size="11" font-weight="bold" fill="#000">F</text>
<line x1="309.7" y1="156" x2="309.7" y2="225.4" stroke="#1a1a1a" stroke-width="1.1"/>
<line x1="307.1" y1="157.5" x2="309.7" y2="157.5" stroke="#1a1a1a" stroke-width="1.1"/>
<text x="303.5" y="159.7" font-size="5.7" text-anchor="end">1500</text>
<line x1="307.1" y1="180.3" x2="309.7" y2="180.3" stroke="#1a1a1a" stroke-width="1.1"/>
<text x="303.5" y="182.5" font-size="5.7" text-anchor="end">1000</text>
<line x1="307.1" y1="203" x2="309.7" y2="203" stroke="#1a1a1a" stroke-width="1.1"/>
<text x="303.5" y="205.2" font-size="5.7" text-anchor="end">500</text>
<line x1="307.1" y1="225.4" x2="309.7" y2="225.4" stroke="#1a1a1a" stroke-width="1.1"/>
<text x="303.5" y="227.6" font-size="5.7" text-anchor="end">0</text>
<line x1="309.7" y1="225.4" x2="348" y2="225.4" stroke="#1a1a1a" stroke-width="0.9"/>
<line x1="316.6" y1="225.4" x2="316.6" y2="227.9" stroke="#1a1a1a" stroke-width="0.9"/>
<line x1="325.8" y1="225.4" x2="325.8" y2="227.9" stroke="#1a1a1a" stroke-width="0.9"/>
<line x1="335.1" y1="225.4" x2="335.1" y2="227.9" stroke="#1a1a1a" stroke-width="0.9"/>
<line x1="344.4" y1="225.4" x2="344.4" y2="227.9" stroke="#1a1a1a" stroke-width="0.9"/>
<line x1="316.6" y1="220.3" x2="316.6" y2="221.3" stroke="#1a1a1a" stroke-width="0.8"/>
<line x1="315.3" y1="220.3" x2="317.9" y2="220.3" stroke="#1a1a1a" stroke-width="0.8"/>
<rect x="313.75" y="221.3" width="5.7" height="4.1" fill="#8c85c7"/>
<line x1="325.8" y1="178.6" x2="325.8" y2="182.5" stroke="#1a1a1a" stroke-width="0.8"/>
<line x1="324.5" y1="178.6" x2="327.1" y2="178.6" stroke="#1a1a1a" stroke-width="0.8"/>
<rect x="322.95" y="182.5" width="5.7" height="42.9" fill="#434d61"/>
<line x1="335.1" y1="176.3" x2="335.1" y2="180.3" stroke="#1a1a1a" stroke-width="0.8"/>
<line x1="333.8" y1="176.3" x2="336.4" y2="176.3" stroke="#1a1a1a" stroke-width="0.8"/>
<rect x="332.25" y="180.3" width="5.7" height="45.1" fill="#a9bc7d"/>
<line x1="344.4" y1="199.5" x2="344.4" y2="202.2" stroke="#1a1a1a" stroke-width="0.8"/>
<line x1="343.1" y1="199.5" x2="345.7" y2="199.5" stroke="#1a1a1a" stroke-width="0.8"/>
<rect x="341.55" y="202.2" width="5.7" height="23.2" fill="#a9bc7d"/>
<polyline points="316.6,219.5 316.6,165.8 325.8,165.8 325.8,179" fill="none" stroke="#333" stroke-width="0.85"/>
<text x="321.2" y="166.4" font-size="6" text-anchor="middle">***</text>
<polyline points="325.8,168.5 325.8,165.8 344.4,165.8 344.4,197.5" fill="none" stroke="#333" stroke-width="0.85"/>
<text x="335.1" y="166.4" font-size="6" text-anchor="middle">***</text>
<text x="316.6" y="236.6" font-size="6.3" text-anchor="middle" textLength="3.15" lengthAdjust="spacingAndGlyphs">–</text>
<text x="325.8" y="236.6" font-size="6.3" text-anchor="middle" textLength="3.31" lengthAdjust="spacingAndGlyphs">+</text>
<text x="335.1" y="236.6" font-size="6.3" text-anchor="middle" textLength="3.31" lengthAdjust="spacingAndGlyphs">+</text>
<text x="344.4" y="236.6" font-size="6.3" text-anchor="middle" textLength="3.31" lengthAdjust="spacingAndGlyphs">+</text>
<text x="316.6" y="246.2" font-size="6.2" text-anchor="middle" textLength="3.1" lengthAdjust="spacingAndGlyphs">–</text>
<text x="325.8" y="246.2" font-size="6.2" text-anchor="middle" textLength="3.1" lengthAdjust="spacingAndGlyphs">–</text>
<text x="335.1" y="246.2" font-size="6.2" text-anchor="middle" textLength="7.76" lengthAdjust="spacingAndGlyphs">0.5</text>
<text x="344.4" y="246.2" font-size="6.2" text-anchor="middle" textLength="7.76" lengthAdjust="spacingAndGlyphs">1.0</text>
<text x="349.9" y="246.2" font-size="6.2" textLength="7.86" lengthAdjust="spacingAndGlyphs">μM</text>
<text x="285.2" y="190.2" font-size="7" text-anchor="middle" textLength="39.7" lengthAdjust="spacingAndGlyphs" transform="rotate(-90 285.2 190.2)">TNF-α (pg/mL)</text>
<line x1="325.8" y1="168.5" x2="325.8" y2="178.6" stroke="#333" stroke-width="0.8"/>
<text x="310" y="236.6" font-size="6.3" text-anchor="end" textLength="16.38" lengthAdjust="spacingAndGlyphs">Hemin</text>
<text x="310" y="246.2" font-size="6.3" text-anchor="end">NO<tspan font-size="4.3" dy="1.2">2</tspan><tspan dy="-1.2">-OA</tspan></text>
<line x1="386.4" y1="156" x2="386.4" y2="226" stroke="#1a1a1a" stroke-width="1.1"/>
<line x1="383.8" y1="157.1" x2="386.4" y2="157.1" stroke="#1a1a1a" stroke-width="1.1"/>
<text x="380.2" y="159.3" font-size="5.7" text-anchor="end">50</text>
<line x1="383.8" y1="170.88" x2="386.4" y2="170.88" stroke="#1a1a1a" stroke-width="1.1"/>
<text x="380.2" y="173.08" font-size="5.7" text-anchor="end">40</text>
<line x1="383.8" y1="184.66" x2="386.4" y2="184.66" stroke="#1a1a1a" stroke-width="1.1"/>
<text x="380.2" y="186.86" font-size="5.7" text-anchor="end">30</text>
<line x1="383.8" y1="198.44" x2="386.4" y2="198.44" stroke="#1a1a1a" stroke-width="1.1"/>
<text x="380.2" y="200.64" font-size="5.7" text-anchor="end">20</text>
<line x1="383.8" y1="212.22" x2="386.4" y2="212.22" stroke="#1a1a1a" stroke-width="1.1"/>
<text x="380.2" y="214.42" font-size="5.7" text-anchor="end">10</text>
<line x1="383.8" y1="226" x2="386.4" y2="226" stroke="#1a1a1a" stroke-width="1.1"/>
<text x="380.2" y="228.2" font-size="5.7" text-anchor="end">0</text>
<line x1="386.4" y1="226" x2="426.6" y2="226" stroke="#1a1a1a" stroke-width="0.9"/>
<line x1="392.6" y1="226" x2="392.6" y2="228.5" stroke="#1a1a1a" stroke-width="0.9"/>
<line x1="401.9" y1="226" x2="401.9" y2="228.5" stroke="#1a1a1a" stroke-width="0.9"/>
<line x1="411.1" y1="226" x2="411.1" y2="228.5" stroke="#1a1a1a" stroke-width="0.9"/>
<line x1="420.8" y1="226" x2="420.8" y2="228.5" stroke="#1a1a1a" stroke-width="0.9"/>
<line x1="392.6" y1="198.3" x2="392.6" y2="200.5" stroke="#1a1a1a" stroke-width="0.8"/>
<line x1="391.3" y1="198.3" x2="393.9" y2="198.3" stroke="#1a1a1a" stroke-width="0.8"/>
<rect x="389.75" y="200.5" width="5.7" height="25.5" fill="#8c85c7"/>
<line x1="401.9" y1="186.5" x2="401.9" y2="191.2" stroke="#1a1a1a" stroke-width="0.8"/>
<line x1="400.6" y1="186.5" x2="403.2" y2="186.5" stroke="#1a1a1a" stroke-width="0.8"/>
<rect x="399.05" y="191.2" width="5.7" height="34.8" fill="#434d61"/>
<line x1="411.1" y1="195.5" x2="411.1" y2="199.4" stroke="#1a1a1a" stroke-width="0.8"/>
<line x1="409.8" y1="195.5" x2="412.4" y2="195.5" stroke="#1a1a1a" stroke-width="0.8"/>
<rect x="408.25" y="199.4" width="5.7" height="26.6" fill="#a9bc7d"/>
<line x1="420.8" y1="197.5" x2="420.8" y2="206.3" stroke="#1a1a1a" stroke-width="0.8"/>
<line x1="419.5" y1="197.5" x2="422.1" y2="197.5" stroke="#1a1a1a" stroke-width="0.8"/>
<rect x="417.95" y="206.3" width="5.7" height="19.7" fill="#a9bc7d"/>
<polyline points="392.6,196.5 392.6,176.6 401.9,176.6 401.9,183.5" fill="none" stroke="#333" stroke-width="0.85"/>
<text x="397.25" y="177.2" font-size="6" text-anchor="middle">*</text>
<polyline points="401.9,183.5 401.9,176.6 411.1,176.6 411.1,193.5" fill="none" stroke="#333" stroke-width="0.85"/>
<text x="406.5" y="177.2" font-size="6" text-anchor="middle">*</text>
<polyline points="401.9,179 401.9,162.5 420.8,162.5 420.8,195.5" fill="none" stroke="#333" stroke-width="0.85"/>
<text x="411.35" y="163.1" font-size="6" text-anchor="middle">**</text>
<text x="392.6" y="236.6" font-size="6.3" text-anchor="middle" textLength="3.15" lengthAdjust="spacingAndGlyphs">–</text>
<text x="401.9" y="236.6" font-size="6.3" text-anchor="middle" textLength="3.31" lengthAdjust="spacingAndGlyphs">+</text>
<text x="411.1" y="236.6" font-size="6.3" text-anchor="middle" textLength="3.31" lengthAdjust="spacingAndGlyphs">+</text>
<text x="420.8" y="236.6" font-size="6.3" text-anchor="middle" textLength="3.31" lengthAdjust="spacingAndGlyphs">+</text>
<text x="392.6" y="246.2" font-size="6.2" text-anchor="middle" textLength="3.1" lengthAdjust="spacingAndGlyphs">–</text>
<text x="401.9" y="246.2" font-size="6.2" text-anchor="middle" textLength="3.1" lengthAdjust="spacingAndGlyphs">–</text>
<text x="411.1" y="246.2" font-size="6.2" text-anchor="middle" textLength="7.76" lengthAdjust="spacingAndGlyphs">0.5</text>
<text x="420.8" y="246.2" font-size="6.2" text-anchor="middle" textLength="7.76" lengthAdjust="spacingAndGlyphs">1.0</text>
<text x="426.3" y="246.2" font-size="6.2" textLength="7.86" lengthAdjust="spacingAndGlyphs">μM</text>
<text x="368.2" y="189.9" font-size="7" text-anchor="middle" textLength="41.3" lengthAdjust="spacingAndGlyphs" transform="rotate(-90 368.2 189.9)">MCP-1 (ng/mL)</text>
<line x1="461.4" y1="159" x2="461.4" y2="225.9" stroke="#1a1a1a" stroke-width="1.1"/>
<line x1="458.8" y1="161.1" x2="461.4" y2="161.1" stroke="#1a1a1a" stroke-width="1.1"/>
<text x="455.2" y="163.3" font-size="5.7" text-anchor="end">40</text>
<line x1="458.8" y1="177.3" x2="461.4" y2="177.3" stroke="#1a1a1a" stroke-width="1.1"/>
<text x="455.2" y="179.5" font-size="5.7" text-anchor="end">30</text>
<line x1="458.8" y1="193.5" x2="461.4" y2="193.5" stroke="#1a1a1a" stroke-width="1.1"/>
<text x="455.2" y="195.7" font-size="5.7" text-anchor="end">20</text>
<line x1="458.8" y1="209.7" x2="461.4" y2="209.7" stroke="#1a1a1a" stroke-width="1.1"/>
<text x="455.2" y="211.9" font-size="5.7" text-anchor="end">10</text>
<line x1="458.8" y1="225.9" x2="461.4" y2="225.9" stroke="#1a1a1a" stroke-width="1.1"/>
<text x="455.2" y="228.1" font-size="5.7" text-anchor="end">0</text>
<line x1="461.4" y1="225.9" x2="504.4" y2="225.9" stroke="#1a1a1a" stroke-width="0.9"/>
<line x1="468.3" y1="225.9" x2="468.3" y2="228.4" stroke="#1a1a1a" stroke-width="0.9"/>
<line x1="478.2" y1="225.9" x2="478.2" y2="228.4" stroke="#1a1a1a" stroke-width="0.9"/>
<line x1="488" y1="225.9" x2="488" y2="228.4" stroke="#1a1a1a" stroke-width="0.9"/>
<line x1="497.8" y1="225.9" x2="497.8" y2="228.4" stroke="#1a1a1a" stroke-width="0.9"/>
<line x1="468.3" y1="203.5" x2="468.3" y2="207.6" stroke="#1a1a1a" stroke-width="0.8"/>
<line x1="467" y1="203.5" x2="469.6" y2="203.5" stroke="#1a1a1a" stroke-width="0.8"/>
<rect x="465.45" y="207.6" width="5.7" height="18.3" fill="#8c85c7"/>
<line x1="478.2" y1="167.3" x2="478.2" y2="170.1" stroke="#1a1a1a" stroke-width="0.8"/>
<line x1="476.9" y1="167.3" x2="479.5" y2="167.3" stroke="#1a1a1a" stroke-width="0.8"/>
<rect x="475.35" y="170.1" width="5.7" height="55.8" fill="#434d61"/>
<line x1="488" y1="170.5" x2="488" y2="173.4" stroke="#1a1a1a" stroke-width="0.8"/>
<line x1="486.7" y1="170.5" x2="489.3" y2="170.5" stroke="#1a1a1a" stroke-width="0.8"/>
<rect x="485.15" y="173.4" width="5.7" height="52.5" fill="#a9bc7d"/>
<line x1="497.8" y1="176.5" x2="497.8" y2="180.3" stroke="#1a1a1a" stroke-width="0.8"/>
<line x1="496.5" y1="176.5" x2="499.1" y2="176.5" stroke="#1a1a1a" stroke-width="0.8"/>
<rect x="494.95" y="180.3" width="5.7" height="45.6" fill="#a9bc7d"/>
<polyline points="468.3,201 468.3,158.2 478.2,158.2 478.2,164.5" fill="none" stroke="#333" stroke-width="0.85"/>
<text x="473.25" y="158.8" font-size="6" text-anchor="middle">***</text>
<polyline points="478.2,164.5 478.2,158.2 497.8,158.2 497.8,175.5" fill="none" stroke="#333" stroke-width="0.85"/>
<text x="488" y="158.8" font-size="6" text-anchor="middle">**</text>
<text x="468.3" y="236.6" font-size="6.3" text-anchor="middle" textLength="3.15" lengthAdjust="spacingAndGlyphs">–</text>
<text x="478.2" y="236.6" font-size="6.3" text-anchor="middle" textLength="3.31" lengthAdjust="spacingAndGlyphs">+</text>
<text x="488" y="236.6" font-size="6.3" text-anchor="middle" textLength="3.31" lengthAdjust="spacingAndGlyphs">+</text>
<text x="497.8" y="236.6" font-size="6.3" text-anchor="middle" textLength="3.31" lengthAdjust="spacingAndGlyphs">+</text>
<text x="468.3" y="246.2" font-size="6.2" text-anchor="middle" textLength="3.1" lengthAdjust="spacingAndGlyphs">–</text>
<text x="478.2" y="246.2" font-size="6.2" text-anchor="middle" textLength="3.1" lengthAdjust="spacingAndGlyphs">–</text>
<text x="488" y="246.2" font-size="6.2" text-anchor="middle" textLength="7.76" lengthAdjust="spacingAndGlyphs">0.5</text>
<text x="497.8" y="246.2" font-size="6.2" text-anchor="middle" textLength="7.76" lengthAdjust="spacingAndGlyphs">1.0</text>
<text x="503.3" y="246.2" font-size="6.2" textLength="7.86" lengthAdjust="spacingAndGlyphs">μM</text>
<text x="443.8" y="192.4" font-size="7" text-anchor="middle" textLength="32" lengthAdjust="spacingAndGlyphs" transform="rotate(-90 443.8 192.4)">IL-6 (pg/mL)</text>
<text x="6.8" y="271.5" font-size="11" font-weight="bold" fill="#000">G</text>
<text x="55.4" y="281.2" font-size="8.2" text-anchor="middle" textLength="39.35" lengthAdjust="spacingAndGlyphs">SO Vehicle</text>
<text x="128.1" y="281.2" font-size="8.2" text-anchor="middle">NO<tspan font-size="5.6" dy="1.6">2</tspan><tspan dy="-1.6">-OA</tspan></text>
<rect x="22.4" y="286.3" width="68.8" height="56" fill="#0e0a09"/>
<rect x="22.4" y="286.3" width="68.8" height="56" filter="url(#f_tl)" mask="url(#m_tl)"/>
<circle cx="43.06" cy="292.74" r="0.86" fill="#7a2814" opacity="0.86"/><circle cx="45.89" cy="287.78" r="0.92" fill="#7a2814" opacity="0.63"/><circle cx="55.46" cy="286.9" r="0.7" fill="#a03a1c" opacity="0.7"/><circle cx="35.84" cy="291.15" r="0.95" fill="#c05028" opacity="0.63"/><circle cx="43.61" cy="292.64" r="0.66" fill="#7a2814" opacity="0.85"/><circle cx="54.97" cy="287.87" r="0.87" fill="#a03a1c" opacity="0.74"/><circle cx="76.21" cy="287.54" r="0.65" fill="#8a3018" opacity="0.74"/><circle cx="53.33" cy="290.54" r="0.81" fill="#c05028" opacity="0.69"/><circle cx="54.44" cy="286.76" r="0.59" fill="#a03a1c" opacity="0.65"/><circle cx="66.87" cy="291.39" r="0.65" fill="#a03a1c" opacity="0.79"/><circle cx="71.05" cy="288.18" r="0.58" fill="#7a2814" opacity="0.77"/><circle cx="65.19" cy="288.65" r="0.59" fill="#7a2814" opacity="0.83"/><circle cx="63.87" cy="289.04" r="0.62" fill="#7a2814" opacity="0.84"/><circle cx="56.29" cy="289.71" r="0.61" fill="#7a2814" opacity="0.95"/><circle cx="65.38" cy="288.97" r="0.72" fill="#7a2814" opacity="0.78"/><circle cx="60.01" cy="286.49" r="0.71" fill="#8a3018" opacity="0.73"/><circle cx="49.53" cy="290.74" r="0.8" fill="#a03a1c" opacity="0.96"/><circle cx="74.96" cy="287.73" r="0.64" fill="#8a3018" opacity="0.67"/><circle cx="24.62" cy="308.45" r="0.73" fill="#c05028" opacity="0.83"/><circle cx="24.82" cy="309.31" r="0.66" fill="#7a2814" opacity="0.85"/><circle cx="23.67" cy="303.17" r="0.7" fill="#c05028" opacity="0.92"/><circle cx="24.81" cy="302.62" r="0.6" fill="#7a2814" opacity="0.96"/><circle cx="26.65" cy="304.76" r="0.94" fill="#a03a1c" opacity="0.7"/><circle cx="26.83" cy="302.58" r="0.59" fill="#a03a1c" opacity="0.63"/><circle cx="31.95" cy="317.89" r="0.67" fill="#a03a1c" opacity="0.84"/><circle cx="28.85" cy="317.51" r="0.65" fill="#a03a1c" opacity="0.79"/><circle cx="34.36" cy="329.8" r="0.67" fill="#8a3018" opacity="0.63"/><circle cx="39.2" cy="328.33" r="0.84" fill="#a03a1c" opacity="0.99"/><circle cx="41.39" cy="319.01" r="0.66" fill="#a03a1c" opacity="0.88"/><circle cx="37.68" cy="325.86" r="0.91" fill="#8a3018" opacity="0.61"/><circle cx="37.66" cy="323.35" r="0.77" fill="#a03a1c" opacity="0.67"/><circle cx="28.47" cy="327.05" r="0.63" fill="#c05028" opacity="0.7"/><circle cx="38.72" cy="319.65" r="0.85" fill="#7a2814" opacity="0.95"/><circle cx="33.55" cy="323.16" r="0.89" fill="#c05028" opacity="0.74"/><circle cx="35.36" cy="323.11" r="0.58" fill="#c05028" opacity="0.91"/><circle cx="35.33" cy="318.6" r="0.68" fill="#8a3018" opacity="0.92"/><circle cx="34.29" cy="329.28" r="0.87" fill="#c05028" opacity="0.61"/><circle cx="39.1" cy="326.21" r="0.82" fill="#a03a1c" opacity="0.97"/><circle cx="29" cy="323.45" r="0.56" fill="#c05028" opacity="0.9"/><circle cx="40.59" cy="321.76" r="0.69" fill="#a03a1c" opacity="0.61"/><circle cx="60.04" cy="303.2" r="0.93" fill="#a03a1c" opacity="0.64"/><circle cx="73.79" cy="317.84" r="0.76" fill="#a03a1c" opacity="0.71"/><circle cx="60.27" cy="312.88" r="0.62" fill="#7a2814" opacity="0.93"/><circle cx="48.25" cy="315.53" r="0.87" fill="#7a2814" opacity="0.79"/><circle cx="62.87" cy="302.59" r="0.73" fill="#8a3018" opacity="0.74"/><circle cx="65.13" cy="317.12" r="0.77" fill="#c05028" opacity="0.75"/><circle cx="56.54" cy="324.62" r="0.83" fill="#7a2814" opacity="0.69"/><circle cx="53.23" cy="297.7" r="0.79" fill="#c05028" opacity="0.97"/>
<rect x="93.5" y="286.3" width="69" height="56" fill="#0e0a09"/>
<rect x="93.5" y="286.3" width="69" height="56" filter="url(#f_tr)" mask="url(#m_tr)"/>
<circle cx="111.28" cy="292.56" r="0.77" fill="#7a2a16" opacity="0.9"/><circle cx="108.65" cy="292.24" r="0.73" fill="#94341a" opacity="0.84"/><circle cx="105.85" cy="287.84" r="0.69" fill="#6a2412" opacity="0.96"/><circle cx="111.06" cy="298.22" r="0.86" fill="#94341a" opacity="0.62"/><circle cx="105.13" cy="299.17" r="0.91" fill="#7a2a16" opacity="0.99"/><circle cx="102.86" cy="292.61" r="0.55" fill="#7a2a16" opacity="0.66"/><circle cx="108.18" cy="289" r="0.87" fill="#a84222" opacity="0.97"/><circle cx="103.22" cy="290.07" r="0.75" fill="#a84222" opacity="0.7"/><circle cx="107.47" cy="299.44" r="0.83" fill="#7a2a16" opacity="0.93"/><circle cx="107.05" cy="294.71" r="0.81" fill="#6a2412" opacity="0.99"/><circle cx="103.87" cy="292.99" r="0.84" fill="#a84222" opacity="0.74"/><circle cx="110.68" cy="288.4" r="0.74" fill="#a84222" opacity="0.6"/><circle cx="102.18" cy="291.86" r="0.79" fill="#7a2a16" opacity="0.66"/><circle cx="106.72" cy="302.87" r="0.73" fill="#94341a" opacity="0.74"/><circle cx="93.81" cy="287.92" r="0.86" fill="#6a2412" opacity="0.78"/><circle cx="112.25" cy="302.28" r="0.83" fill="#6a2412" opacity="0.65"/><circle cx="103.29" cy="292.86" r="0.71" fill="#7a2a16" opacity="0.85"/><circle cx="110.72" cy="288.03" r="0.61" fill="#a84222" opacity="0.88"/><circle cx="109.57" cy="291.14" r="0.63" fill="#a84222" opacity="0.9"/><circle cx="93.75" cy="286.92" r="0.81" fill="#6a2412" opacity="0.69"/><circle cx="106.45" cy="296.96" r="0.76" fill="#94341a" opacity="0.8"/><circle cx="100.15" cy="292.73" r="0.71" fill="#7a2a16" opacity="0.83"/><circle cx="132.3" cy="290.37" r="0.71" fill="#94341a" opacity="0.61"/><circle cx="121.29" cy="290.7" r="0.59" fill="#6a2412" opacity="0.98"/><circle cx="116.8" cy="288.09" r="0.71" fill="#7a2a16" opacity="0.79"/><circle cx="129.84" cy="299.96" r="0.75" fill="#94341a" opacity="0.75"/><circle cx="122.02" cy="296.15" r="0.65" fill="#a84222" opacity="0.64"/><circle cx="125.91" cy="294.25" r="0.81" fill="#a84222" opacity="0.9"/><circle cx="130.72" cy="300.23" r="0.61" fill="#7a2a16" opacity="0.94"/><circle cx="119.74" cy="292.43" r="0.65" fill="#6a2412" opacity="0.83"/><circle cx="140.48" cy="298.44" r="0.63" fill="#a84222" opacity="0.67"/><circle cx="116.72" cy="295.9" r="0.87" fill="#a84222" opacity="0.8"/><circle cx="124.93" cy="294.4" r="0.61" fill="#7a2a16" opacity="0.82"/><circle cx="134.02" cy="298.57" r="0.63" fill="#a84222" opacity="0.99"/><circle cx="114.44" cy="288.26" r="0.64" fill="#7a2a16" opacity="0.8"/><circle cx="124.29" cy="294.82" r="0.86" fill="#6a2412" opacity="0.88"/><circle cx="131.36" cy="297.35" r="0.58" fill="#a84222" opacity="0.87"/><circle cx="133.89" cy="293.61" r="0.87" fill="#94341a" opacity="0.68"/><circle cx="139.55" cy="288.95" r="0.64" fill="#7a2a16" opacity="0.67"/><circle cx="139.55" cy="298.33" r="0.78" fill="#a84222" opacity="0.67"/><circle cx="127.42" cy="298.12" r="0.77" fill="#a84222" opacity="0.99"/><circle cx="117.98" cy="290.59" r="0.74" fill="#94341a" opacity="0.89"/><circle cx="123.92" cy="292.29" r="0.88" fill="#a84222" opacity="0.71"/><circle cx="120.23" cy="287.32" r="0.93" fill="#6a2412" opacity="0.68"/><circle cx="139.52" cy="287.47" r="0.75" fill="#7a2a16" opacity="0.95"/><circle cx="126.66" cy="287.15" r="0.73" fill="#7a2a16" opacity="0.9"/><circle cx="130.72" cy="298.14" r="0.89" fill="#7a2a16" opacity="0.91"/><circle cx="159.19" cy="334.86" r="0.7" fill="#7a2a16" opacity="0.72"/><circle cx="135.3" cy="308.44" r="0.78" fill="#7a2a16" opacity="0.95"/><circle cx="145.8" cy="339.45" r="0.63" fill="#7a2a16" opacity="0.88"/><circle cx="153.74" cy="322.8" r="0.93" fill="#6a2412" opacity="0.89"/><circle cx="139.03" cy="322.36" r="0.64" fill="#a84222" opacity="0.99"/><circle cx="157.69" cy="323.2" r="0.88" fill="#6a2412" opacity="0.8"/><circle cx="136.86" cy="321.3" r="0.87" fill="#a84222" opacity="0.73"/><circle cx="151.25" cy="332.6" r="0.86" fill="#6a2412" opacity="0.81"/><circle cx="140.23" cy="312.38" r="0.66" fill="#7a2a16" opacity="0.65"/><circle cx="146.58" cy="324.03" r="0.75" fill="#6a2412" opacity="0.83"/><circle cx="133.29" cy="336.95" r="0.66" fill="#94341a" opacity="0.98"/><circle cx="151.14" cy="326.54" r="0.89" fill="#a84222" opacity="0.84"/><circle cx="134.35" cy="303.69" r="0.62" fill="#94341a" opacity="0.7"/><circle cx="135.21" cy="315.34" r="0.74" fill="#7a2a16" opacity="0.66"/><circle cx="143.6" cy="339" r="0.71" fill="#6a2412" opacity="0.62"/><circle cx="142.71" cy="324.61" r="0.81" fill="#7a2a16" opacity="0.73"/><circle cx="158.39" cy="311.8" r="0.81" fill="#7a2a16" opacity="0.67"/><circle cx="151.38" cy="328.38" r="0.76" fill="#7a2a16" opacity="0.66"/><circle cx="157.23" cy="317.21" r="0.75" fill="#7a2a16" opacity="0.76"/><circle cx="155.73" cy="304.61" r="0.8" fill="#94341a" opacity="0.76"/><circle cx="136.55" cy="321.31" r="0.64" fill="#6a2412" opacity="0.93"/><circle cx="146.27" cy="303.95" r="0.89" fill="#a84222" opacity="0.64"/><circle cx="156.97" cy="327.24" r="0.75" fill="#6a2412" opacity="0.79"/><circle cx="134.39" cy="321.7" r="0.74" fill="#94341a" opacity="0.7"/><circle cx="148.22" cy="304.95" r="0.65" fill="#a84222" opacity="0.91"/><circle cx="143.65" cy="317.82" r="0.57" fill="#7a2a16" opacity="0.69"/><circle cx="138.22" cy="315.27" r="0.85" fill="#6a2412" opacity="0.92"/><circle cx="141.61" cy="324.49" r="0.91" fill="#7a2a16" opacity="0.84"/><circle cx="133.41" cy="301.14" r="0.7" fill="#7a2a16" opacity="0.73"/><circle cx="146.61" cy="332.86" r="0.7" fill="#7a2a16" opacity="0.67"/><circle cx="139.07" cy="320.58" r="0.68" fill="#7a2a16" opacity="0.64"/><circle cx="149.06" cy="329.99" r="0.89" fill="#7a2a16" opacity="0.91"/><circle cx="132.85" cy="331.06" r="0.89" fill="#7a2a16" opacity="0.97"/><circle cx="161.89" cy="340.36" r="0.92" fill="#7a2a16" opacity="0.67"/><circle cx="152.55" cy="339.72" r="0.8" fill="#6a2412" opacity="0.92"/><circle cx="131.85" cy="319.96" r="0.9" fill="#94341a" opacity="0.68"/><circle cx="139.83" cy="312.24" r="0.73" fill="#7a2a16" opacity="0.6"/><circle cx="146.11" cy="315.04" r="0.56" fill="#6a2412" opacity="0.79"/><circle cx="148.65" cy="329.15" r="0.78" fill="#6a2412" opacity="0.78"/><circle cx="151.44" cy="316.87" r="0.57" fill="#7a2a16" opacity="0.83"/><circle cx="149.78" cy="325.32" r="0.63" fill="#a84222" opacity="0.87"/><circle cx="153.61" cy="315.67" r="0.94" fill="#6a2412" opacity="0.84"/><circle cx="149.43" cy="318.77" r="0.61" fill="#a84222" opacity="0.94"/><circle cx="160.81" cy="340.89" r="0.93" fill="#a84222" opacity="0.69"/><circle cx="161.27" cy="323.08" r="0.55" fill="#94341a" opacity="0.73"/><circle cx="146.39" cy="331.08" r="0.81" fill="#7a2a16" opacity="0.65"/><circle cx="161.48" cy="333.78" r="0.87" fill="#7a2a16" opacity="0.71"/><circle cx="143.2" cy="338.98" r="0.84" fill="#a84222" opacity="0.87"/><circle cx="135.57" cy="335.74" r="0.67" fill="#7a2a16" opacity="0.83"/><circle cx="154.79" cy="336.92" r="0.78" fill="#94341a" opacity="0.85"/><circle cx="119.42" cy="322.1" r="0.83" fill="#6a2412" opacity="0.83"/><circle cx="123.11" cy="323.99" r="0.75" fill="#a84222" opacity="0.89"/><circle cx="132.98" cy="333.21" r="0.82" fill="#6a2412" opacity="0.78"/><circle cx="128.06" cy="331.64" r="0.58" fill="#a84222" opacity="0.96"/><circle cx="127.39" cy="333.24" r="0.86" fill="#94341a" opacity="0.93"/><circle cx="131.91" cy="340.85" r="0.79" fill="#a84222" opacity="0.81"/><circle cx="120.03" cy="323.27" r="0.64" fill="#6a2412" opacity="0.72"/><circle cx="118.42" cy="321.67" r="0.7" fill="#a84222" opacity="0.97"/><circle cx="129.61" cy="321.48" r="0.69" fill="#6a2412" opacity="0.61"/><circle cx="120.99" cy="323.82" r="0.87" fill="#7a2a16" opacity="0.99"/><circle cx="124.47" cy="330.95" r="0.57" fill="#94341a" opacity="0.97"/><circle cx="122.42" cy="322.69" r="0.93" fill="#94341a" opacity="0.97"/><circle cx="115.91" cy="340.97" r="0.63" fill="#7a2a16" opacity="0.67"/><circle cx="128.88" cy="330.66" r="0.67" fill="#6a2412" opacity="0.94"/><circle cx="132.92" cy="329.37" r="0.55" fill="#6a2412" opacity="0.68"/><circle cx="134.89" cy="320.56" r="0.66" fill="#a84222" opacity="0.65"/><circle cx="133.76" cy="326.2" r="0.65" fill="#6a2412" opacity="0.66"/><circle cx="133.82" cy="339.28" r="0.94" fill="#7a2a16" opacity="0.96"/><circle cx="123.5" cy="320.71" r="0.84" fill="#a84222" opacity="0.69"/><circle cx="117.2" cy="320.6" r="0.89" fill="#7a2a16" opacity="0.86"/><circle cx="94.11" cy="319.23" r="0.95" fill="#7a2a16" opacity="0.67"/><circle cx="95.79" cy="310.62" r="0.93" fill="#6a2412" opacity="0.89"/><circle cx="111.78" cy="319.1" r="0.61" fill="#a84222" opacity="0.95"/><circle cx="112.89" cy="310.88" r="0.75" fill="#a84222" opacity="0.71"/><circle cx="105.31" cy="323.23" r="0.74" fill="#a84222" opacity="0.84"/><circle cx="109.28" cy="309.61" r="0.66" fill="#a84222" opacity="0.88"/><circle cx="106.6" cy="318.16" r="0.92" fill="#6a2412" opacity="0.96"/><circle cx="100.11" cy="318.54" r="0.86" fill="#6a2412" opacity="0.67"/>
<rect x="22.4" y="344.8" width="68.8" height="56" fill="#0e0a09"/>
<rect x="22.4" y="344.8" width="68.8" height="56" filter="url(#f_bl)" mask="url(#m_bl)"/>
<circle cx="30.09" cy="380.78" r="0.71" fill="#5a7a2c" opacity="0.64"/><circle cx="45.65" cy="386.71" r="0.89" fill="#5a7a2c" opacity="0.61"/><circle cx="47.71" cy="372.46" r="0.94" fill="#4a6a24" opacity="0.74"/><circle cx="27.47" cy="400.19" r="0.9" fill="#5a7a2c" opacity="0.75"/><circle cx="48.12" cy="392.57" r="0.63" fill="#4a6a24" opacity="0.66"/><circle cx="28.63" cy="367.36" r="0.93" fill="#4a6a24" opacity="0.97"/><circle cx="42.91" cy="375.84" r="0.8" fill="#4a6a24" opacity="0.87"/><circle cx="38.63" cy="366.03" r="0.74" fill="#3c5a1e" opacity="0.72"/><circle cx="48.43" cy="377.6" r="0.69" fill="#4a6a24" opacity="0.63"/><circle cx="33.86" cy="368.59" r="0.61" fill="#3c5a1e" opacity="0.7"/><circle cx="31.88" cy="369.37" r="0.79" fill="#5a7a2c" opacity="0.99"/><circle cx="27.54" cy="369.22" r="0.85" fill="#4a6a24" opacity="0.77"/><circle cx="25.15" cy="391.07" r="0.71" fill="#4a6a24" opacity="0.96"/><circle cx="37.9" cy="395.33" r="0.84" fill="#3c5a1e" opacity="0.66"/><circle cx="48.54" cy="374.41" r="0.86" fill="#4a6a24" opacity="0.96"/><circle cx="52.49" cy="380.02" r="0.82" fill="#3c5a1e" opacity="0.93"/><circle cx="46.81" cy="400.24" r="0.71" fill="#5a7a2c" opacity="0.83"/><circle cx="28.09" cy="383.28" r="0.72" fill="#3c5a1e" opacity="0.77"/><circle cx="39.98" cy="399.62" r="0.77" fill="#4a6a24" opacity="0.64"/><circle cx="41.43" cy="372.67" r="0.81" fill="#5a7a2c" opacity="0.89"/><circle cx="38.82" cy="380.17" r="0.9" fill="#4a6a24" opacity="0.92"/><circle cx="48.01" cy="376.05" r="0.9" fill="#4a6a24" opacity="0.78"/><circle cx="52.83" cy="365.52" r="0.64" fill="#4a6a24" opacity="0.71"/><circle cx="32.26" cy="370.22" r="0.88" fill="#3c5a1e" opacity="0.65"/><circle cx="49.27" cy="390.21" r="0.82" fill="#3c5a1e" opacity="0.83"/><circle cx="30.57" cy="373.93" r="0.63" fill="#5a7a2c" opacity="0.88"/><circle cx="35.78" cy="368.84" r="0.8" fill="#3c5a1e" opacity="0.64"/><circle cx="29.15" cy="379.54" r="0.8" fill="#4a6a24" opacity="0.96"/><circle cx="50.8" cy="389.04" r="0.78" fill="#3c5a1e" opacity="0.79"/><circle cx="35.47" cy="386.53" r="0.84" fill="#5a7a2c" opacity="0.91"/><circle cx="35.46" cy="384.69" r="0.89" fill="#3c5a1e" opacity="0.61"/><circle cx="44.8" cy="374.19" r="0.9" fill="#3c5a1e" opacity="0.99"/><circle cx="33.67" cy="388.92" r="0.82" fill="#4a6a24" opacity="0.68"/><circle cx="30" cy="379.18" r="0.88" fill="#5a7a2c" opacity="0.73"/><circle cx="37.72" cy="400.02" r="0.81" fill="#4a6a24" opacity="0.88"/><circle cx="26.89" cy="348.58" r="0.69" fill="#4a6a24" opacity="0.76"/><circle cx="29.33" cy="351.98" r="0.89" fill="#4a6a24" opacity="0.66"/><circle cx="35.79" cy="358.11" r="0.6" fill="#5a7a2c" opacity="0.9"/><circle cx="24.24" cy="354.4" r="0.75" fill="#3c5a1e" opacity="0.66"/><circle cx="26.62" cy="345.63" r="0.6" fill="#3c5a1e" opacity="0.83"/><circle cx="25.41" cy="348.92" r="0.64" fill="#5a7a2c" opacity="0.96"/><circle cx="31.23" cy="353.66" r="0.88" fill="#3c5a1e" opacity="0.76"/><circle cx="24.13" cy="361.27" r="0.75" fill="#5a7a2c" opacity="0.67"/><circle cx="30.19" cy="360.55" r="0.79" fill="#3c5a1e" opacity="0.97"/><circle cx="33.36" cy="357.93" r="0.81" fill="#5a7a2c" opacity="0.91"/>
<rect x="93.5" y="344.8" width="69" height="56" fill="#0e0a09"/>
<rect x="93.5" y="344.8" width="69" height="56" filter="url(#f_br)" mask="url(#m_br)"/>
<circle cx="117.68" cy="388.49" r="0.59" fill="#52702a" opacity="0.78"/><circle cx="119.98" cy="387.42" r="0.69" fill="#80a03a" opacity="0.68"/><circle cx="131.44" cy="345.55" r="0.81" fill="#52702a" opacity="0.76"/><circle cx="130.55" cy="397.17" r="0.87" fill="#5e7c2a" opacity="0.71"/><circle cx="121.33" cy="384.82" r="0.74" fill="#5e7c2a" opacity="0.75"/><circle cx="150.69" cy="349.35" r="0.92" fill="#6e8c32" opacity="0.6"/><circle cx="136.11" cy="356.28" r="0.89" fill="#6e8c32" opacity="0.96"/><circle cx="150.05" cy="391.61" r="0.75" fill="#52702a" opacity="0.97"/><circle cx="145.34" cy="370.65" r="0.69" fill="#6e8c32" opacity="0.94"/><circle cx="121.26" cy="370.64" r="0.56" fill="#80a03a" opacity="0.63"/><circle cx="138.97" cy="390.01" r="0.85" fill="#52702a" opacity="0.83"/><circle cx="121.74" cy="358.31" r="0.56" fill="#90ae44" opacity="0.94"/><circle cx="123.57" cy="389.99" r="0.58" fill="#80a03a" opacity="0.72"/><circle cx="133.67" cy="354.55" r="0.93" fill="#80a03a" opacity="0.69"/><circle cx="130.78" cy="381.43" r="0.92" fill="#6e8c32" opacity="0.99"/><circle cx="120.37" cy="347.29" r="0.85" fill="#80a03a" opacity="0.78"/><circle cx="126.54" cy="345.82" r="0.93" fill="#5e7c2a" opacity="0.98"/><circle cx="122.26" cy="379.45" r="0.56" fill="#6e8c32" opacity="0.78"/><circle cx="125.18" cy="378.13" r="0.84" fill="#52702a" opacity="0.91"/><circle cx="140.29" cy="359.53" r="0.75" fill="#80a03a" opacity="0.96"/><circle cx="128.92" cy="393.08" r="0.77" fill="#6e8c32" opacity="0.97"/><circle cx="130.7" cy="395.37" r="0.81" fill="#6e8c32" opacity="0.75"/><circle cx="143.41" cy="382.28" r="0.92" fill="#90ae44" opacity="0.95"/><circle cx="152.68" cy="397.2" r="0.72" fill="#80a03a" opacity="0.78"/><circle cx="134.57" cy="392.42" r="0.94" fill="#80a03a" opacity="0.83"/><circle cx="117.34" cy="398.45" r="0.58" fill="#90ae44" opacity="0.85"/><circle cx="149.05" cy="351.18" r="0.73" fill="#5e7c2a" opacity="0.63"/><circle cx="133.43" cy="356.34" r="0.65" fill="#80a03a" opacity="0.68"/><circle cx="132.06" cy="382.48" r="0.72" fill="#80a03a" opacity="0.61"/><circle cx="122.08" cy="345.5" r="0.86" fill="#52702a" opacity="0.73"/><circle cx="117.69" cy="374.86" r="0.9" fill="#6e8c32" opacity="0.93"/><circle cx="132.65" cy="399.16" r="0.66" fill="#80a03a" opacity="1"/><circle cx="122.92" cy="369.1" r="0.8" fill="#6e8c32" opacity="0.71"/><circle cx="118.68" cy="394.73" r="0.93" fill="#6e8c32" opacity="0.86"/><circle cx="125.62" cy="345.15" r="0.57" fill="#5e7c2a" opacity="0.86"/><circle cx="125.65" cy="347.53" r="0.66" fill="#52702a" opacity="0.8"/><circle cx="123.05" cy="375.67" r="0.64" fill="#80a03a" opacity="0.62"/><circle cx="121.48" cy="382.16" r="0.6" fill="#6e8c32" opacity="0.86"/><circle cx="143.33" cy="346.15" r="0.88" fill="#5e7c2a" opacity="0.77"/><circle cx="133.07" cy="386.92" r="0.59" fill="#80a03a" opacity="0.95"/><circle cx="118.24" cy="390.79" r="0.83" fill="#6e8c32" opacity="0.98"/><circle cx="144.03" cy="355.02" r="0.75" fill="#52702a" opacity="0.78"/><circle cx="150.27" cy="387.5" r="0.86" fill="#6e8c32" opacity="0.89"/><circle cx="129.56" cy="396.82" r="0.73" fill="#5e7c2a" opacity="0.64"/><circle cx="128.75" cy="384.07" r="0.57" fill="#52702a" opacity="0.74"/><circle cx="121.9" cy="384.08" r="0.91" fill="#52702a" opacity="0.77"/><circle cx="125.4" cy="372.73" r="0.6" fill="#5e7c2a" opacity="0.85"/><circle cx="131.11" cy="390.79" r="0.73" fill="#90ae44" opacity="0.64"/><circle cx="146.41" cy="380.05" r="0.76" fill="#5e7c2a" opacity="0.95"/><circle cx="129.47" cy="394.92" r="0.9" fill="#52702a" opacity="0.91"/><circle cx="132" cy="347.52" r="0.63" fill="#52702a" opacity="0.96"/><circle cx="135.6" cy="379.29" r="0.76" fill="#52702a" opacity="0.64"/><circle cx="139.26" cy="374.97" r="0.68" fill="#80a03a" opacity="0.84"/><circle cx="142.56" cy="379.51" r="0.94" fill="#80a03a" opacity="0.95"/><circle cx="133.26" cy="353.34" r="0.62" fill="#90ae44" opacity="0.82"/><circle cx="139.9" cy="360.74" r="0.76" fill="#6e8c32" opacity="0.78"/><circle cx="123.24" cy="362.67" r="0.64" fill="#6e8c32" opacity="0.75"/><circle cx="142.19" cy="352.84" r="0.69" fill="#52702a" opacity="0.78"/><circle cx="127.19" cy="385.37" r="0.72" fill="#52702a" opacity="0.87"/><circle cx="141.53" cy="386.71" r="0.84" fill="#80a03a" opacity="0.89"/><circle cx="138.36" cy="397.7" r="0.6" fill="#80a03a" opacity="0.67"/><circle cx="129.08" cy="391.83" r="0.85" fill="#80a03a" opacity="0.99"/><circle cx="125.89" cy="378.4" r="0.76" fill="#6e8c32" opacity="0.65"/><circle cx="147.86" cy="386.3" r="0.77" fill="#6e8c32" opacity="0.83"/><circle cx="132.92" cy="356.38" r="0.62" fill="#6e8c32" opacity="0.79"/><circle cx="133.87" cy="390.12" r="0.89" fill="#5e7c2a" opacity="0.67"/><circle cx="136.51" cy="352.21" r="0.75" fill="#6e8c32" opacity="0.7"/><circle cx="127.14" cy="394.19" r="0.59" fill="#90ae44" opacity="0.86"/><circle cx="143.52" cy="390.4" r="0.79" fill="#90ae44" opacity="0.68"/><circle cx="117.78" cy="377.28" r="0.9" fill="#52702a" opacity="0.63"/><circle cx="132.6" cy="383.18" r="0.55" fill="#5e7c2a" opacity="0.97"/><circle cx="121.14" cy="346.2" r="0.74" fill="#6e8c32" opacity="0.72"/><circle cx="143.22" cy="354.16" r="0.55" fill="#5e7c2a" opacity="0.67"/><circle cx="129.62" cy="353.55" r="0.71" fill="#5e7c2a" opacity="0.78"/><circle cx="131.99" cy="381.82" r="0.67" fill="#52702a" opacity="0.89"/><circle cx="122.27" cy="378.63" r="0.81" fill="#6e8c32" opacity="0.61"/><circle cx="149.8" cy="386.13" r="0.79" fill="#90ae44" opacity="0.95"/><circle cx="130.73" cy="397.12" r="0.85" fill="#5e7c2a" opacity="0.77"/><circle cx="145.78" cy="394.39" r="0.68" fill="#80a03a" opacity="0.92"/><circle cx="152.38" cy="348.84" r="0.81" fill="#52702a" opacity="0.83"/><circle cx="117.82" cy="359.96" r="0.57" fill="#52702a" opacity="0.93"/><circle cx="143.32" cy="383.39" r="0.89" fill="#5e7c2a" opacity="0.93"/><circle cx="127.67" cy="376.23" r="0.72" fill="#90ae44" opacity="0.8"/><circle cx="145.84" cy="366.68" r="0.56" fill="#6e8c32" opacity="0.98"/><circle cx="145.35" cy="394.43" r="0.84" fill="#52702a" opacity="0.92"/><circle cx="126.49" cy="345.26" r="0.85" fill="#90ae44" opacity="0.75"/><circle cx="131.49" cy="377.35" r="0.56" fill="#52702a" opacity="0.88"/><circle cx="133.33" cy="383.86" r="0.88" fill="#6e8c32" opacity="0.91"/><circle cx="118.08" cy="364.13" r="0.82" fill="#52702a" opacity="0.64"/><circle cx="119.43" cy="372.18" r="0.56" fill="#5e7c2a" opacity="0.97"/><circle cx="131.72" cy="387.18" r="0.9" fill="#80a03a" opacity="0.76"/><circle cx="151.65" cy="368.45" r="0.74" fill="#90ae44" opacity="0.83"/><circle cx="144.73" cy="386.11" r="0.8" fill="#90ae44" opacity="0.77"/><circle cx="125.59" cy="374.33" r="0.94" fill="#6e8c32" opacity="0.83"/><circle cx="143.44" cy="395.14" r="0.71" fill="#80a03a" opacity="0.75"/><circle cx="139.62" cy="388.87" r="0.78" fill="#80a03a" opacity="0.68"/><circle cx="130.9" cy="354.04" r="0.79" fill="#90ae44" opacity="0.82"/><circle cx="125.41" cy="393.6" r="0.9" fill="#5e7c2a" opacity="0.65"/><circle cx="140.93" cy="359.54" r="0.89" fill="#5e7c2a" opacity="0.67"/><circle cx="125.89" cy="390.28" r="0.68" fill="#80a03a" opacity="0.66"/><circle cx="119.33" cy="375.26" r="0.92" fill="#80a03a" opacity="0.99"/><circle cx="139.09" cy="365.39" r="0.91" fill="#52702a" opacity="0.98"/><circle cx="151.85" cy="393.66" r="0.75" fill="#52702a" opacity="0.86"/><circle cx="138.89" cy="395.15" r="0.7" fill="#6e8c32" opacity="0.77"/><circle cx="148.08" cy="400.3" r="0.71" fill="#80a03a" opacity="0.68"/><circle cx="141.38" cy="378.13" r="0.92" fill="#90ae44" opacity="0.61"/><circle cx="129.39" cy="397.02" r="0.95" fill="#80a03a" opacity="0.66"/><circle cx="120.53" cy="354.03" r="0.66" fill="#80a03a" opacity="0.86"/><circle cx="124.26" cy="353.04" r="0.63" fill="#6e8c32" opacity="0.67"/><circle cx="123.88" cy="375.47" r="0.66" fill="#52702a" opacity="0.8"/><circle cx="145.21" cy="364.69" r="0.61" fill="#5e7c2a" opacity="0.94"/><circle cx="124.03" cy="400.08" r="0.81" fill="#80a03a" opacity="1"/><circle cx="142.87" cy="382.23" r="0.55" fill="#6e8c32" opacity="0.71"/><circle cx="134.13" cy="351.42" r="0.57" fill="#80a03a" opacity="0.94"/><circle cx="122.95" cy="364.24" r="0.89" fill="#5e7c2a" opacity="0.72"/><circle cx="140.37" cy="354.09" r="0.6" fill="#80a03a" opacity="0.78"/><circle cx="120.96" cy="369.3" r="0.73" fill="#52702a" opacity="0.62"/><circle cx="117.82" cy="348.58" r="0.75" fill="#90ae44" opacity="0.94"/><circle cx="138.22" cy="349.42" r="0.89" fill="#52702a" opacity="0.84"/><circle cx="140.61" cy="398.43" r="0.88" fill="#80a03a" opacity="0.8"/><circle cx="152.39" cy="395.35" r="0.67" fill="#80a03a" opacity="0.83"/><circle cx="136.11" cy="397.7" r="0.69" fill="#80a03a" opacity="0.87"/><circle cx="132.07" cy="374.62" r="0.63" fill="#5e7c2a" opacity="0.78"/><circle cx="118.8" cy="367.96" r="0.74" fill="#6e8c32" opacity="0.8"/><circle cx="120.39" cy="375.62" r="0.77" fill="#6e8c32" opacity="0.63"/><circle cx="116.45" cy="393.03" r="0.91" fill="#80a03a" opacity="0.64"/><circle cx="130.54" cy="366.4" r="0.72" fill="#6e8c32" opacity="0.64"/><circle cx="138.63" cy="379.9" r="0.7" fill="#52702a" opacity="0.7"/><circle cx="124.45" cy="363.14" r="0.86" fill="#80a03a" opacity="0.75"/><circle cx="152.33" cy="374.3" r="0.76" fill="#90ae44" opacity="0.62"/><circle cx="133.32" cy="395.49" r="0.76" fill="#5e7c2a" opacity="0.95"/><circle cx="125.3" cy="377.65" r="0.94" fill="#6e8c32" opacity="0.91"/><circle cx="138.25" cy="387.15" r="0.66" fill="#6e8c32" opacity="0.93"/><circle cx="141.77" cy="346.02" r="0.93" fill="#80a03a" opacity="0.9"/><circle cx="145.75" cy="353.2" r="0.62" fill="#90ae44" opacity="0.8"/><circle cx="134.53" cy="397.02" r="0.68" fill="#80a03a" opacity="0.69"/><circle cx="120.28" cy="364.22" r="0.61" fill="#5e7c2a" opacity="0.68"/><circle cx="142.04" cy="390.13" r="0.92" fill="#90ae44" opacity="0.78"/><circle cx="138.6" cy="351.66" r="0.81" fill="#90ae44" opacity="0.72"/><circle cx="148.73" cy="348.96" r="0.86" fill="#80a03a" opacity="0.68"/><circle cx="149.75" cy="370.77" r="0.9" fill="#5e7c2a" opacity="0.79"/><circle cx="147.46" cy="365.24" r="0.85" fill="#6e8c32" opacity="0.68"/><circle cx="140.66" cy="363.1" r="0.83" fill="#52702a" opacity="0.66"/><circle cx="120.78" cy="397.8" r="0.84" fill="#5e7c2a" opacity="0.76"/><circle cx="127.22" cy="368.76" r="0.69" fill="#6e8c32" opacity="0.99"/><circle cx="135.35" cy="377.82" r="0.85" fill="#6e8c32" opacity="0.83"/><circle cx="125.2" cy="368.13" r="0.61" fill="#5e7c2a" opacity="0.65"/><circle cx="143.45" cy="388.46" r="0.78" fill="#52702a" opacity="1"/><circle cx="138.02" cy="356.18" r="0.91" fill="#80a03a" opacity="0.97"/><circle cx="138.02" cy="375.63" r="0.69" fill="#80a03a" opacity="0.83"/><circle cx="123.54" cy="372.11" r="0.73" fill="#90ae44" opacity="0.92"/><circle cx="152.11" cy="395.86" r="0.59" fill="#52702a" opacity="0.68"/><circle cx="151.62" cy="377.37" r="0.86" fill="#52702a" opacity="0.79"/><circle cx="130.97" cy="398.74" r="0.61" fill="#5e7c2a" opacity="0.72"/><circle cx="150" cy="363.25" r="0.75" fill="#90ae44" opacity="0.71"/><circle cx="126.85" cy="349.55" r="0.55" fill="#6e8c32" opacity="0.74"/><circle cx="126.16" cy="394.61" r="0.74" fill="#52702a" opacity="0.73"/><circle cx="134.12" cy="348.29" r="0.81" fill="#6e8c32" opacity="0.61"/><circle cx="127.82" cy="382.5" r="0.91" fill="#80a03a" opacity="0.98"/><circle cx="139.73" cy="369.54" r="0.91" fill="#52702a" opacity="0.91"/><circle cx="130.82" cy="356.66" r="0.68" fill="#80a03a" opacity="0.72"/><circle cx="136.45" cy="372.97" r="0.93" fill="#90ae44" opacity="0.89"/><circle cx="148.41" cy="394.4" r="0.56" fill="#52702a" opacity="0.77"/><circle cx="122.84" cy="353.67" r="0.57" fill="#5e7c2a" opacity="0.89"/><circle cx="133.72" cy="387.91" r="0.92" fill="#5e7c2a" opacity="0.93"/><circle cx="117.2" cy="373.08" r="0.64" fill="#52702a" opacity="0.63"/><circle cx="135.97" cy="399.2" r="0.65" fill="#52702a" opacity="0.92"/><circle cx="132.24" cy="366.34" r="0.57" fill="#90ae44" opacity="0.84"/><circle cx="150.14" cy="393.47" r="0.66" fill="#5e7c2a" opacity="0.67"/><circle cx="121.52" cy="396.75" r="0.87" fill="#90ae44" opacity="0.97"/><circle cx="128.59" cy="356.03" r="0.6" fill="#6e8c32" opacity="0.88"/><circle cx="139.49" cy="400.28" r="0.7" fill="#52702a" opacity="0.89"/><circle cx="145.3" cy="397.18" r="0.57" fill="#80a03a" opacity="0.85"/><circle cx="129.43" cy="367.61" r="0.57" fill="#90ae44" opacity="0.82"/><circle cx="127.96" cy="366.94" r="0.86" fill="#90ae44" opacity="0.69"/><circle cx="127.36" cy="383.92" r="0.72" fill="#80a03a" opacity="0.88"/><circle cx="116.91" cy="390.52" r="0.67" fill="#5e7c2a" opacity="0.85"/><circle cx="129.46" cy="398.28" r="0.81" fill="#6e8c32" opacity="0.74"/><circle cx="147.15" cy="378.76" r="0.84" fill="#90ae44" opacity="0.84"/><circle cx="120.98" cy="373.32" r="0.62" fill="#52702a" opacity="0.91"/><circle cx="151.71" cy="399.68" r="0.56" fill="#52702a" opacity="0.79"/><circle cx="127.83" cy="345" r="0.63" fill="#5e7c2a" opacity="0.97"/><circle cx="135.32" cy="350.88" r="0.94" fill="#52702a" opacity="0.65"/><circle cx="121.49" cy="344.85" r="0.75" fill="#6e8c32" opacity="0.72"/><circle cx="118.25" cy="398.17" r="0.64" fill="#90ae44" opacity="0.98"/><circle cx="141.68" cy="381.66" r="0.68" fill="#90ae44" opacity="0.64"/><circle cx="149.51" cy="368.34" r="0.68" fill="#6e8c32" opacity="0.79"/><circle cx="145.25" cy="382.73" r="0.81" fill="#80a03a" opacity="0.61"/><circle cx="144.71" cy="354.54" r="0.78" fill="#6e8c32" opacity="0.71"/><circle cx="132.71" cy="389.88" r="0.72" fill="#52702a" opacity="0.81"/><circle cx="143.3" cy="395.93" r="0.66" fill="#80a03a" opacity="0.72"/><circle cx="147.84" cy="384.8" r="0.89" fill="#52702a" opacity="0.61"/><circle cx="143.43" cy="389.14" r="0.95" fill="#80a03a" opacity="0.7"/><circle cx="148.02" cy="383.03" r="0.83" fill="#90ae44" opacity="0.62"/><circle cx="119.97" cy="349.68" r="0.65" fill="#6e8c32" opacity="0.62"/><circle cx="146.5" cy="374.88" r="0.67" fill="#80a03a" opacity="0.72"/><circle cx="125.72" cy="363" r="0.93" fill="#6e8c32" opacity="0.77"/><circle cx="148.79" cy="372.72" r="0.61" fill="#52702a" opacity="0.77"/><circle cx="149.24" cy="356.81" r="0.63" fill="#52702a" opacity="0.82"/><circle cx="143.57" cy="383.52" r="0.93" fill="#5e7c2a" opacity="0.77"/><circle cx="134.92" cy="367.6" r="0.91" fill="#6e8c32" opacity="0.9"/><circle cx="149.19" cy="366.8" r="0.57" fill="#6e8c32" opacity="0.84"/><circle cx="140.23" cy="369.08" r="0.84" fill="#52702a" opacity="0.71"/><circle cx="136.65" cy="398.9" r="0.79" fill="#6e8c32" opacity="0.86"/><circle cx="123.9" cy="394.14" r="0.86" fill="#90ae44" opacity="0.96"/><circle cx="135.73" cy="366.55" r="0.85" fill="#52702a" opacity="0.67"/><circle cx="138" cy="357.57" r="0.65" fill="#6e8c32" opacity="0.83"/><circle cx="139.76" cy="387.28" r="0.66" fill="#6e8c32" opacity="0.94"/><circle cx="123.07" cy="357.22" r="0.89" fill="#6e8c32" opacity="0.88"/><circle cx="146.78" cy="381.66" r="0.9" fill="#5e7c2a" opacity="0.72"/><circle cx="120.99" cy="351.24" r="0.78" fill="#6e8c32" opacity="0.84"/><circle cx="142.58" cy="394.9" r="0.86" fill="#80a03a" opacity="0.86"/><circle cx="118.43" cy="356.38" r="0.84" fill="#5e7c2a" opacity="0.67"/><circle cx="129.67" cy="392.82" r="0.6" fill="#6e8c32" opacity="0.74"/><circle cx="121.55" cy="396.53" r="0.59" fill="#5e7c2a" opacity="0.7"/><circle cx="118.2" cy="347.51" r="0.7" fill="#90ae44" opacity="0.93"/><circle cx="149.21" cy="384.51" r="0.88" fill="#80a03a" opacity="0.72"/><circle cx="146.73" cy="396.47" r="0.73" fill="#6e8c32" opacity="0.8"/><circle cx="135.62" cy="358.17" r="0.89" fill="#6e8c32" opacity="0.68"/><circle cx="121.03" cy="399.91" r="0.91" fill="#90ae44" opacity="0.9"/><circle cx="96.69" cy="360" r="0.8" fill="#5e7c2a" opacity="0.74"/><circle cx="108.23" cy="346.08" r="0.78" fill="#52702a" opacity="0.7"/><circle cx="102.3" cy="354.07" r="0.89" fill="#6e8c32" opacity="0.95"/><circle cx="99.08" cy="345.66" r="0.77" fill="#52702a" opacity="0.73"/><circle cx="113.25" cy="352.31" r="0.83" fill="#6e8c32" opacity="0.67"/><circle cx="112.3" cy="357.93" r="0.7" fill="#90ae44" opacity="0.82"/><circle cx="108" cy="347.45" r="0.94" fill="#80a03a" opacity="0.91"/><circle cx="99.65" cy="352.07" r="0.77" fill="#5e7c2a" opacity="0.72"/><circle cx="94.06" cy="356.77" r="0.7" fill="#90ae44" opacity="0.88"/><circle cx="103.36" cy="360.21" r="0.67" fill="#80a03a" opacity="0.71"/><circle cx="108.37" cy="351.96" r="0.62" fill="#52702a" opacity="0.74"/><circle cx="106.15" cy="345.72" r="0.74" fill="#6e8c32" opacity="0.61"/><circle cx="113.98" cy="347.01" r="0.9" fill="#5e7c2a" opacity="0.95"/><circle cx="112.91" cy="359.29" r="0.89" fill="#90ae44" opacity="0.88"/><circle cx="107.5" cy="356.94" r="0.69" fill="#5e7c2a" opacity="0.73"/><circle cx="102.77" cy="355.99" r="0.75" fill="#52702a" opacity="0.61"/><circle cx="98.13" cy="345.29" r="0.9" fill="#80a03a" opacity="0.71"/><circle cx="98.6" cy="360.7" r="0.68" fill="#80a03a" opacity="0.61"/><circle cx="111.27" cy="357.23" r="0.89" fill="#80a03a" opacity="0.66"/><circle cx="105.45" cy="349.62" r="0.56" fill="#6e8c32" opacity="0.89"/><circle cx="102.1" cy="352.14" r="0.63" fill="#80a03a" opacity="0.91"/><circle cx="108.03" cy="345.47" r="0.66" fill="#52702a" opacity="0.94"/><circle cx="94.08" cy="347.25" r="0.61" fill="#52702a" opacity="0.7"/><circle cx="104.09" cy="351.28" r="0.81" fill="#80a03a" opacity="0.67"/><circle cx="94.57" cy="359.11" r="0.63" fill="#6e8c32" opacity="0.98"/><circle cx="101.24" cy="350.82" r="0.66" fill="#90ae44" opacity="0.8"/><circle cx="112.22" cy="355.04" r="0.65" fill="#90ae44" opacity="0.95"/><circle cx="98.72" cy="347.27" r="0.79" fill="#90ae44" opacity="0.82"/><circle cx="106.64" cy="347.4" r="0.9" fill="#52702a" opacity="0.88"/><circle cx="109.14" cy="353.89" r="0.66" fill="#80a03a" opacity="0.98"/><circle cx="99.24" cy="349.51" r="0.57" fill="#5e7c2a" opacity="0.97"/><circle cx="102.98" cy="353.61" r="0.59" fill="#80a03a" opacity="0.96"/><circle cx="108.55" cy="345.66" r="0.87" fill="#90ae44" opacity="0.88"/><circle cx="110.42" cy="351.72" r="0.88" fill="#52702a" opacity="0.88"/><circle cx="107.38" cy="345.12" r="0.91" fill="#6e8c32" opacity="0.63"/><circle cx="158.74" cy="375.03" r="0.67" fill="#90ae44" opacity="0.9"/><circle cx="158.86" cy="399.08" r="0.71" fill="#80a03a" opacity="0.66"/><circle cx="158.89" cy="374.41" r="0.83" fill="#52702a" opacity="0.95"/><circle cx="155.33" cy="390.65" r="0.73" fill="#6e8c32" opacity="0.95"/><circle cx="160.61" cy="384.71" r="0.61" fill="#6e8c32" opacity="0.67"/><circle cx="158.28" cy="399.87" r="0.57" fill="#80a03a" opacity="0.63"/><circle cx="162.11" cy="379.75" r="0.72" fill="#5e7c2a" opacity="0.65"/><circle cx="159.01" cy="363.31" r="0.93" fill="#90ae44" opacity="0.64"/><circle cx="114.16" cy="367.02" r="0.94" fill="#52702a" opacity="0.72"/><circle cx="113.06" cy="399.05" r="0.78" fill="#5e7c2a" opacity="0.93"/><circle cx="116.24" cy="375.98" r="0.85" fill="#80a03a" opacity="0.67"/><circle cx="108.29" cy="394.51" r="0.62" fill="#6e8c32" opacity="0.69"/><circle cx="114.27" cy="375.25" r="0.56" fill="#5e7c2a" opacity="0.84"/><circle cx="111.75" cy="393.71" r="0.64" fill="#5e7c2a" opacity="0.72"/><circle cx="115.15" cy="371.91" r="0.67" fill="#6e8c32" opacity="0.82"/><circle cx="109.55" cy="396.1" r="0.69" fill="#90ae44" opacity="0.96"/><circle cx="109.43" cy="381.73" r="0.66" fill="#6e8c32" opacity="0.73"/><circle cx="111.51" cy="374.93" r="0.84" fill="#5e7c2a" opacity="0.68"/><circle cx="114.43" cy="386.58" r="0.85" fill="#5e7c2a" opacity="0.64"/><circle cx="115.58" cy="382.32" r="0.63" fill="#6e8c32" opacity="0.76"/><circle cx="108.16" cy="374.86" r="0.85" fill="#6e8c32" opacity="0.82"/><circle cx="113.74" cy="376.59" r="0.66" fill="#52702a" opacity="0.95"/><circle cx="116.02" cy="396.61" r="0.6" fill="#6e8c32" opacity="0.9"/><circle cx="112.71" cy="361.81" r="0.8" fill="#52702a" opacity="0.72"/><circle cx="109.96" cy="368.45" r="0.63" fill="#52702a" opacity="0.82"/><circle cx="112.31" cy="380.96" r="0.84" fill="#80a03a" opacity="0.76"/><circle cx="115.02" cy="390.99" r="0.73" fill="#52702a" opacity="0.67"/><circle cx="115" cy="379.08" r="0.95" fill="#6e8c32" opacity="0.68"/><circle cx="115.34" cy="378.33" r="0.89" fill="#90ae44" opacity="0.69"/><circle cx="107.73" cy="377.44" r="0.8" fill="#80a03a" opacity="0.61"/><circle cx="107.46" cy="370.47" r="0.7" fill="#6e8c32" opacity="0.89"/><circle cx="112.67" cy="399.09" r="0.94" fill="#5e7c2a" opacity="0.92"/><circle cx="109.8" cy="362.26" r="0.63" fill="#80a03a" opacity="0.88"/>
<rect x="22.9" y="286.8" width="21" height="17" fill="none" stroke="#5a5a5a" stroke-width="0.5"/>
<rect x="84.4" y="340.8" width="5" height="1.2" fill="#e0e0e0"/>
<rect x="94" y="286.8" width="21" height="17" fill="none" stroke="#5a5a5a" stroke-width="0.5"/>
<rect x="155.5" y="340.8" width="5" height="1.2" fill="#e0e0e0"/>
<rect x="22.9" y="345.3" width="21" height="17" fill="none" stroke="#5a5a5a" stroke-width="0.5"/>
<rect x="84.4" y="399.3" width="5" height="1.2" fill="#e0e0e0"/>
<rect x="94" y="345.3" width="21" height="17" fill="none" stroke="#5a5a5a" stroke-width="0.5"/>
<rect x="155.5" y="399.3" width="5" height="1.2" fill="#e0e0e0"/>
<rect x="73.5" y="319.5" width="16" height="11" fill="none" stroke="#7a6a60" stroke-width="0.6" stroke-dasharray="1,0.6"/>
<rect x="53.2" y="378.5" width="15.5" height="11.4" fill="none" stroke="#5a5a50" stroke-width="0.6"/>
<text x="24" y="340" font-size="7" fill="#f0f0f0" textLength="12.95" lengthAdjust="spacingAndGlyphs">HO1</text>
<text x="95" y="340" font-size="7" fill="#f0f0f0" textLength="12.95" lengthAdjust="spacingAndGlyphs">HO1</text>
<text x="24" y="398.8" font-size="7" fill="#f0f0f0" textLength="17" lengthAdjust="spacingAndGlyphs">NQO1</text>
<text x="95" y="398.8" font-size="7" fill="#f0f0f0" textLength="17" lengthAdjust="spacingAndGlyphs">NQO1</text>
<text x="190.5" y="271.3" font-size="11" font-weight="bold" fill="#000">H</text>
<line x1="227.3" y1="294" x2="227.3" y2="370.6" stroke="#1a1a1a" stroke-width="1.1"/>
<line x1="224.7" y1="295.6" x2="227.3" y2="295.6" stroke="#1a1a1a" stroke-width="1.1"/>
<text x="221.4" y="297.8" font-size="6.4" text-anchor="end" textLength="6.69" lengthAdjust="spacingAndGlyphs">25</text>
<line x1="224.7" y1="310.6" x2="227.3" y2="310.6" stroke="#1a1a1a" stroke-width="1.1"/>
<text x="221.4" y="312.8" font-size="6.4" text-anchor="end" textLength="6.69" lengthAdjust="spacingAndGlyphs">20</text>
<line x1="224.7" y1="325.6" x2="227.3" y2="325.6" stroke="#1a1a1a" stroke-width="1.1"/>
<text x="221.4" y="327.8" font-size="6.4" text-anchor="end" textLength="6.69" lengthAdjust="spacingAndGlyphs">15</text>
<line x1="224.7" y1="340.6" x2="227.3" y2="340.6" stroke="#1a1a1a" stroke-width="1.1"/>
<text x="221.4" y="342.8" font-size="6.4" text-anchor="end" textLength="6.69" lengthAdjust="spacingAndGlyphs">10</text>
<line x1="224.7" y1="355.6" x2="227.3" y2="355.6" stroke="#1a1a1a" stroke-width="1.1"/>
<text x="221.4" y="357.8" font-size="6.4" text-anchor="end" textLength="3.35" lengthAdjust="spacingAndGlyphs">5</text>
<line x1="224.7" y1="370.6" x2="227.3" y2="370.6" stroke="#1a1a1a" stroke-width="1.1"/>
<text x="221.4" y="372.8" font-size="6.4" text-anchor="end" textLength="3.35" lengthAdjust="spacingAndGlyphs">0</text>
<line x1="277.6" y1="294" x2="277.6" y2="370.6" stroke="#1a1a1a" stroke-width="1.1"/>
<line x1="277.6" y1="295.6" x2="280.2" y2="295.6" stroke="#1a1a1a" stroke-width="1.1"/>
<text x="283.5" y="297.8" font-size="6.4" textLength="6.69" lengthAdjust="spacingAndGlyphs">10</text>
<line x1="277.6" y1="310.6" x2="280.2" y2="310.6" stroke="#1a1a1a" stroke-width="1.1"/>
<text x="283.5" y="312.8" font-size="6.4" textLength="3.35" lengthAdjust="spacingAndGlyphs">8</text>
<line x1="277.6" y1="325.6" x2="280.2" y2="325.6" stroke="#1a1a1a" stroke-width="1.1"/>
<text x="283.5" y="327.8" font-size="6.4" textLength="3.35" lengthAdjust="spacingAndGlyphs">6</text>
<line x1="277.6" y1="340.6" x2="280.2" y2="340.6" stroke="#1a1a1a" stroke-width="1.1"/>
<text x="283.5" y="342.8" font-size="6.4" textLength="3.35" lengthAdjust="spacingAndGlyphs">4</text>
<line x1="277.6" y1="355.6" x2="280.2" y2="355.6" stroke="#1a1a1a" stroke-width="1.1"/>
<text x="283.5" y="357.8" font-size="6.4" textLength="3.35" lengthAdjust="spacingAndGlyphs">2</text>
<line x1="277.6" y1="370.6" x2="280.2" y2="370.6" stroke="#1a1a1a" stroke-width="1.1"/>
<text x="283.5" y="372.8" font-size="6.4" textLength="3.35" lengthAdjust="spacingAndGlyphs">0</text>
<line x1="227.3" y1="370.6" x2="277.6" y2="370.6" stroke="#1a1a1a" stroke-width="0.9"/>
<line x1="235.1" y1="370.6" x2="235.1" y2="373.1" stroke="#1a1a1a" stroke-width="0.9"/>
<line x1="246.6" y1="370.6" x2="246.6" y2="373.1" stroke="#1a1a1a" stroke-width="0.9"/>
<line x1="258.3" y1="370.6" x2="258.3" y2="373.1" stroke="#1a1a1a" stroke-width="0.9"/>
<line x1="269.6" y1="370.6" x2="269.6" y2="373.1" stroke="#1a1a1a" stroke-width="0.9"/>
<polyline points="235.2,359.2 235.2,295.8 246.9,295.8 246.9,304.6" fill="none" stroke="#333" stroke-width="0.85"/>
<text x="241.05" y="296.4" font-size="6" text-anchor="middle">**</text>
<polyline points="258.6,352.7 258.6,295.8 269.4,295.8 269.4,299.5" fill="none" stroke="#333" stroke-width="0.85"/>
<text x="264" y="296.4" font-size="6" text-anchor="middle">**</text>
<circle cx="234.42" cy="362.5" r="2.0" fill="#5a5a5a" stroke="#151515" stroke-width="0.85"/>
<circle cx="236.36" cy="363.5" r="2.0" fill="#5a5a5a" stroke="#151515" stroke-width="0.85"/>
<circle cx="234.38" cy="364.8" r="2.0" fill="#5a5a5a" stroke="#151515" stroke-width="0.85"/>
<circle cx="235.14" cy="366" r="2.0" fill="#5a5a5a" stroke="#151515" stroke-width="0.85"/>
<circle cx="234.49" cy="367" r="2.0" fill="#5a5a5a" stroke="#151515" stroke-width="0.85"/>
<circle cx="234.59" cy="368" r="2.0" fill="#5a5a5a" stroke="#151515" stroke-width="0.85"/>
<circle cx="234.57" cy="368.6" r="2.0" fill="#5a5a5a" stroke="#151515" stroke-width="0.85"/>
<circle cx="236.48" cy="365.5" r="2.0" fill="#5a5a5a" stroke="#151515" stroke-width="0.85"/>
<circle cx="234.48" cy="363.8" r="2.0" fill="#5a5a5a" stroke="#151515" stroke-width="0.85"/>
<circle cx="246.73" cy="309.1" r="2.0" fill="#747474" stroke="#1a1a1a" stroke-width="0.85"/>
<circle cx="246.93" cy="316.3" r="2.0" fill="#747474" stroke="#1a1a1a" stroke-width="0.85"/>
<circle cx="246.49" cy="318.9" r="2.0" fill="#747474" stroke="#1a1a1a" stroke-width="0.85"/>
<circle cx="245.79" cy="327.3" r="2.0" fill="#747474" stroke="#1a1a1a" stroke-width="0.85"/>
<circle cx="247.75" cy="333.9" r="2.0" fill="#747474" stroke="#1a1a1a" stroke-width="0.85"/>
<circle cx="247.3" cy="337.1" r="2.0" fill="#747474" stroke="#1a1a1a" stroke-width="0.85"/>
<circle cx="246.65" cy="339.1" r="2.0" fill="#747474" stroke="#1a1a1a" stroke-width="0.85"/>
<circle cx="248.09" cy="341.7" r="2.0" fill="#747474" stroke="#1a1a1a" stroke-width="0.85"/>
<circle cx="247.42" cy="343.6" r="2.0" fill="#747474" stroke="#1a1a1a" stroke-width="0.85"/>
<circle cx="245.76" cy="350.1" r="2.0" fill="#747474" stroke="#1a1a1a" stroke-width="0.85"/>
<circle cx="247.3" cy="351.4" r="2.0" fill="#747474" stroke="#1a1a1a" stroke-width="0.85"/>
<circle cx="246.07" cy="336" r="2.0" fill="#747474" stroke="#1a1a1a" stroke-width="0.85"/>
<circle cx="257.24" cy="356.2" r="2.0" fill="#7474a4" stroke="#23254d" stroke-width="0.85"/>
<circle cx="257.66" cy="357.8" r="2.0" fill="#7474a4" stroke="#23254d" stroke-width="0.85"/>
<circle cx="259.42" cy="359.5" r="2.0" fill="#7474a4" stroke="#23254d" stroke-width="0.85"/>
<circle cx="257.19" cy="361" r="2.0" fill="#7474a4" stroke="#23254d" stroke-width="0.85"/>
<circle cx="259.72" cy="362.3" r="2.0" fill="#7474a4" stroke="#23254d" stroke-width="0.85"/>
<circle cx="259.19" cy="363.5" r="2.0" fill="#7474a4" stroke="#23254d" stroke-width="0.85"/>
<circle cx="257.12" cy="360.5" r="2.0" fill="#7474a4" stroke="#23254d" stroke-width="0.85"/>
<circle cx="258.35" cy="358.5" r="2.0" fill="#7474a4" stroke="#23254d" stroke-width="0.85"/>
<circle cx="268.58" cy="304.6" r="2.0" fill="#7474a4" stroke="#23254d" stroke-width="0.85"/>
<circle cx="268.85" cy="314.3" r="2.0" fill="#7474a4" stroke="#23254d" stroke-width="0.85"/>
<circle cx="270.77" cy="320.8" r="2.0" fill="#7474a4" stroke="#23254d" stroke-width="0.85"/>
<circle cx="270.71" cy="324.1" r="2.0" fill="#7474a4" stroke="#23254d" stroke-width="0.85"/>
<circle cx="268.19" cy="326" r="2.0" fill="#7474a4" stroke="#23254d" stroke-width="0.85"/>
<circle cx="269.51" cy="328" r="2.0" fill="#7474a4" stroke="#23254d" stroke-width="0.85"/>
<circle cx="270.31" cy="331.3" r="2.0" fill="#7474a4" stroke="#23254d" stroke-width="0.85"/>
<circle cx="269.13" cy="341.7" r="2.0" fill="#7474a4" stroke="#23254d" stroke-width="0.85"/>
<circle cx="269.46" cy="345.6" r="2.0" fill="#7474a4" stroke="#23254d" stroke-width="0.85"/>
<circle cx="270.2" cy="322.5" r="2.0" fill="#7474a4" stroke="#23254d" stroke-width="0.85"/>
<line x1="243.5" y1="333.5" x2="250" y2="333.5" stroke="#222" stroke-width="0.7"/>
<line x1="266.5" y1="326.5" x2="273" y2="326.5" stroke="#222" stroke-width="0.7"/>
<text x="228.5" y="382.6" font-size="6.2" text-anchor="end" textLength="8.51" lengthAdjust="spacingAndGlyphs">SO</text>
<text x="228.5" y="391.8" font-size="6.3" text-anchor="end">NO<tspan font-size="4.3" dy="1.2">2</tspan><tspan dy="-1.2">-OA</tspan></text>
<text x="235.1" y="382.6" font-size="6.2" text-anchor="middle" textLength="3.26" lengthAdjust="spacingAndGlyphs">+</text>
<text x="235.1" y="391.8" font-size="6.2" text-anchor="middle" textLength="3.1" lengthAdjust="spacingAndGlyphs">–</text>
<text x="246.6" y="382.6" font-size="6.2" text-anchor="middle" textLength="3.1" lengthAdjust="spacingAndGlyphs">–</text>
<text x="246.6" y="391.8" font-size="6.2" text-anchor="middle" textLength="3.26" lengthAdjust="spacingAndGlyphs">+</text>
<text x="258.3" y="382.6" font-size="6.2" text-anchor="middle" textLength="3.26" lengthAdjust="spacingAndGlyphs">+</text>
<text x="258.3" y="391.8" font-size="6.2" text-anchor="middle" textLength="3.1" lengthAdjust="spacingAndGlyphs">–</text>
<text x="269.6" y="382.6" font-size="6.2" text-anchor="middle" textLength="3.1" lengthAdjust="spacingAndGlyphs">–</text>
<text x="269.6" y="391.8" font-size="6.2" text-anchor="middle" textLength="3.26" lengthAdjust="spacingAndGlyphs">+</text>
<circle cx="207.4" cy="347.3" r="1.9" fill="#444" stroke="#151515" stroke-width="0.8"/>
<text x="210.3" y="328.8" font-size="7" text-anchor="middle" font-weight="bold" textLength="26" lengthAdjust="spacingAndGlyphs" transform="rotate(-90 210.3 328.8)">HO1 (MFI)</text>
<circle cx="297" cy="315.1" r="1.9" fill="#7474a4" stroke="#23254d" stroke-width="0.8"/>
<text x="295" y="336" font-size="7" text-anchor="middle" font-weight="bold" textLength="31" lengthAdjust="spacingAndGlyphs" transform="rotate(90 295 336)">NQO1 (MFI)</text>
<text x="316.3" y="271.3" font-size="11" font-weight="bold" fill="#000">I</text>
<g clip-path="url(#clip_a)">
<rect x="325.2" y="287" width="85.8" height="57.8" fill="#bcbdb9"/>
<ellipse cx="342.36" cy="318.79" rx="17.16" ry="16.18" fill="url(#yg)"/>
<ellipse cx="365.53" cy="336.13" rx="12.01" ry="10.4" fill="url(#yg)"/>
<ellipse cx="399.85" cy="315.9" rx="12.87" ry="14.45" fill="url(#yg)"/>
<ellipse cx="408.43" cy="341.91" rx="6.86" ry="6.94" fill="url(#yg)"/>
<ellipse cx="350.94" cy="295.67" rx="8.58" ry="5.78" fill="url(#yg)"/>
<rect x="325.2" y="287" width="85.8" height="57.8" filter="url(#fl_a)"/>
<rect x="325.2" y="287" width="85.8" height="57.8" filter="url(#fd_a)"/>
<circle cx="344.25" cy="337.33" r="0.63" fill="#38394c" opacity="0.68"/><circle cx="342.94" cy="340.1" r="0.58" fill="#38394c" opacity="0.79"/><circle cx="367.11" cy="322.36" r="0.73" fill="#606170" opacity="0.77"/><circle cx="390.91" cy="316.96" r="0.65" fill="#606170" opacity="0.54"/><circle cx="350.67" cy="297.85" r="0.56" fill="#606170" opacity="0.59"/><circle cx="332.13" cy="329.68" r="0.77" fill="#55566a" opacity="0.66"/><circle cx="363.06" cy="296.15" r="0.8" fill="#606170" opacity="0.68"/><circle cx="400.7" cy="302.84" r="0.73" fill="#606170" opacity="0.6"/><circle cx="360.74" cy="304.11" r="0.83" fill="#45465a" opacity="0.59"/><circle cx="379.15" cy="320.51" r="0.68" fill="#55566a" opacity="0.79"/><circle cx="376.67" cy="302.36" r="0.64" fill="#55566a" opacity="0.75"/><circle cx="349.63" cy="301.66" r="0.8" fill="#45465a" opacity="0.78"/><circle cx="353.3" cy="295.33" r="0.63" fill="#38394c" opacity="0.47"/><circle cx="339.41" cy="342.72" r="0.59" fill="#55566a" opacity="0.6"/><circle cx="407.59" cy="297.89" r="0.79" fill="#606170" opacity="0.52"/><circle cx="327.29" cy="298.82" r="0.64" fill="#606170" opacity="0.81"/><circle cx="385.25" cy="332.06" r="0.82" fill="#606170" opacity="0.79"/><circle cx="327.17" cy="320.39" r="0.75" fill="#55566a" opacity="0.71"/><circle cx="325.34" cy="316.79" r="0.76" fill="#55566a" opacity="0.63"/><circle cx="380.09" cy="343.97" r="0.8" fill="#55566a" opacity="0.73"/><circle cx="347.43" cy="333.38" r="0.71" fill="#55566a" opacity="0.45"/><circle cx="399.89" cy="340.33" r="0.61" fill="#55566a" opacity="0.83"/><circle cx="325.39" cy="314.14" r="0.67" fill="#38394c" opacity="0.47"/><circle cx="409.41" cy="310.06" r="0.76" fill="#38394c" opacity="0.49"/><circle cx="395.02" cy="318.59" r="0.85" fill="#55566a" opacity="0.67"/><circle cx="391.34" cy="315.03" r="0.78" fill="#606170" opacity="0.82"/><circle cx="327.7" cy="292" r="0.73" fill="#55566a" opacity="0.67"/><circle cx="334.76" cy="301.52" r="0.84" fill="#45465a" opacity="0.73"/><circle cx="407.99" cy="323.52" r="0.6" fill="#38394c" opacity="0.74"/><circle cx="395.27" cy="319.72" r="0.64" fill="#606170" opacity="0.74"/><circle cx="379.71" cy="333.93" r="0.65" fill="#55566a" opacity="0.63"/><circle cx="404.71" cy="339.75" r="0.68" fill="#55566a" opacity="0.82"/><circle cx="395.97" cy="292.44" r="0.59" fill="#606170" opacity="0.72"/><circle cx="356.18" cy="289.05" r="0.81" fill="#38394c" opacity="0.61"/><circle cx="372.08" cy="333.02" r="0.73" fill="#38394c" opacity="0.78"/><circle cx="329.59" cy="297.9" r="0.78" fill="#38394c" opacity="0.54"/><circle cx="356.56" cy="301.12" r="0.55" fill="#606170" opacity="0.65"/><circle cx="393.42" cy="307.35" r="0.57" fill="#606170" opacity="0.45"/><circle cx="380.02" cy="315.52" r="0.75" fill="#38394c" opacity="0.48"/><circle cx="375.26" cy="341.29" r="0.64" fill="#38394c" opacity="0.69"/><circle cx="406.16" cy="293.46" r="0.7" fill="#45465a" opacity="0.65"/><circle cx="397.58" cy="307" r="0.71" fill="#55566a" opacity="0.76"/><circle cx="333.85" cy="309.16" r="0.81" fill="#45465a" opacity="0.78"/><circle cx="368.99" cy="342.55" r="0.69" fill="#45465a" opacity="0.71"/><circle cx="357.08" cy="287.71" r="0.71" fill="#45465a" opacity="0.75"/><circle cx="398.96" cy="293.42" r="0.65" fill="#55566a" opacity="0.59"/><circle cx="366.24" cy="336.13" r="0.75" fill="#45465a" opacity="0.48"/><circle cx="369.36" cy="312.81" r="0.66" fill="#38394c" opacity="0.62"/><circle cx="393.88" cy="288.18" r="0.81" fill="#606170" opacity="0.47"/><circle cx="374.33" cy="310.78" r="0.73" fill="#606170" opacity="0.81"/><circle cx="409.72" cy="333.32" r="0.78" fill="#38394c" opacity="0.54"/><circle cx="329.83" cy="298.01" r="0.56" fill="#38394c" opacity="0.81"/><circle cx="364.02" cy="327.63" r="0.62" fill="#45465a" opacity="0.52"/><circle cx="353.69" cy="307.81" r="0.66" fill="#38394c" opacity="0.68"/><circle cx="404.26" cy="342.12" r="0.62" fill="#606170" opacity="0.51"/><circle cx="360.18" cy="338.94" r="0.8" fill="#606170" opacity="0.6"/><circle cx="353.54" cy="291.78" r="0.7" fill="#55566a" opacity="0.77"/><circle cx="370.39" cy="325.2" r="0.58" fill="#606170" opacity="0.8"/><circle cx="401.82" cy="342.79" r="0.63" fill="#38394c" opacity="0.53"/><circle cx="391.26" cy="330.88" r="0.64" fill="#38394c" opacity="0.54"/><circle cx="386.12" cy="327.55" r="0.81" fill="#55566a" opacity="0.63"/><circle cx="391.04" cy="343.32" r="0.71" fill="#38394c" opacity="0.85"/><circle cx="357.26" cy="291.8" r="0.79" fill="#45465a" opacity="0.82"/><circle cx="345.76" cy="299.8" r="0.8" fill="#55566a" opacity="0.64"/><circle cx="356.4" cy="333.84" r="0.64" fill="#606170" opacity="0.48"/><circle cx="330.36" cy="313" r="0.84" fill="#45465a" opacity="0.76"/><circle cx="394.97" cy="302.27" r="0.63" fill="#45465a" opacity="0.81"/><circle cx="330.64" cy="300.99" r="0.68" fill="#45465a" opacity="0.46"/><circle cx="332.5" cy="333.69" r="0.65" fill="#55566a" opacity="0.76"/><circle cx="339.81" cy="298.29" r="0.62" fill="#38394c" opacity="0.55"/><circle cx="395.1" cy="333.83" r="0.84" fill="#55566a" opacity="0.5"/><circle cx="375.77" cy="339.87" r="0.77" fill="#45465a" opacity="0.8"/><circle cx="330.33" cy="342.78" r="0.55" fill="#38394c" opacity="0.48"/><circle cx="374.19" cy="304.49" r="0.75" fill="#55566a" opacity="0.81"/><circle cx="396.05" cy="325.11" r="0.69" fill="#45465a" opacity="0.69"/><circle cx="409.84" cy="293.21" r="0.69" fill="#55566a" opacity="0.62"/><circle cx="375.04" cy="314.33" r="0.66" fill="#606170" opacity="0.47"/><circle cx="381.16" cy="300.98" r="0.77" fill="#38394c" opacity="0.83"/><circle cx="327.87" cy="318.46" r="0.62" fill="#45465a" opacity="0.53"/><circle cx="356.49" cy="338.58" r="0.74" fill="#45465a" opacity="0.52"/><circle cx="364.61" cy="311.2" r="0.78" fill="#45465a" opacity="0.61"/><circle cx="379.5" cy="317.47" r="0.74" fill="#38394c" opacity="0.8"/><circle cx="407.67" cy="332.6" r="0.72" fill="#55566a" opacity="0.71"/><circle cx="367.82" cy="299.2" r="0.81" fill="#55566a" opacity="0.61"/><circle cx="377.02" cy="330.27" r="0.69" fill="#45465a" opacity="0.45"/><circle cx="390.05" cy="344.42" r="0.77" fill="#45465a" opacity="0.77"/><circle cx="343.95" cy="311.6" r="0.58" fill="#55566a" opacity="0.76"/><circle cx="361.57" cy="305.42" r="0.74" fill="#38394c" opacity="0.57"/><circle cx="356.55" cy="314.63" r="0.67" fill="#45465a" opacity="0.75"/><circle cx="371.71" cy="302.33" r="0.59" fill="#606170" opacity="0.7"/><circle cx="336.73" cy="304.45" r="0.73" fill="#606170" opacity="0.75"/><circle cx="336.91" cy="305.36" r="0.83" fill="#606170" opacity="0.7"/><circle cx="383.47" cy="321.76" r="0.66" fill="#45465a" opacity="0.53"/><circle cx="410.76" cy="319.42" r="0.77" fill="#55566a" opacity="0.68"/><circle cx="372.28" cy="324.13" r="0.74" fill="#606170" opacity="0.69"/><circle cx="387.56" cy="322.59" r="0.76" fill="#38394c" opacity="0.54"/><circle cx="375.69" cy="321.97" r="0.76" fill="#55566a" opacity="0.71"/><circle cx="355.64" cy="331.93" r="0.66" fill="#38394c" opacity="0.83"/><circle cx="377.07" cy="304.87" r="0.72" fill="#606170" opacity="0.84"/><circle cx="346.28" cy="291.12" r="0.62" fill="#606170" opacity="0.61"/><circle cx="355.04" cy="287.74" r="0.65" fill="#45465a" opacity="0.76"/><circle cx="339.41" cy="290.49" r="0.76" fill="#55566a" opacity="0.5"/><circle cx="349.07" cy="307.13" r="0.69" fill="#55566a" opacity="0.67"/><circle cx="375.93" cy="331.8" r="0.59" fill="#606170" opacity="0.56"/><circle cx="378.8" cy="296.23" r="0.84" fill="#45465a" opacity="0.64"/><circle cx="401.88" cy="329.23" r="0.81" fill="#45465a" opacity="0.72"/><circle cx="367.91" cy="324.2" r="0.63" fill="#55566a" opacity="0.53"/><circle cx="368.91" cy="296.72" r="0.84" fill="#38394c" opacity="0.48"/><circle cx="380.24" cy="344.12" r="0.61" fill="#606170" opacity="0.52"/><circle cx="391.29" cy="297.49" r="0.61" fill="#38394c" opacity="0.56"/><circle cx="335.48" cy="340.77" r="0.72" fill="#38394c" opacity="0.62"/><circle cx="403.29" cy="330.3" r="0.55" fill="#38394c" opacity="0.53"/><circle cx="390.45" cy="295.26" r="0.73" fill="#606170" opacity="0.58"/><circle cx="394.86" cy="298.11" r="0.81" fill="#38394c" opacity="0.78"/><circle cx="338.48" cy="310.53" r="0.76" fill="#45465a" opacity="0.65"/><circle cx="325.23" cy="335.87" r="0.58" fill="#38394c" opacity="0.79"/><circle cx="339.03" cy="329.73" r="0.62" fill="#55566a" opacity="0.67"/><circle cx="375.21" cy="331.52" r="0.57" fill="#45465a" opacity="0.54"/><circle cx="376.68" cy="342.57" r="0.69" fill="#606170" opacity="0.83"/><circle cx="357.78" cy="315.73" r="0.67" fill="#45465a" opacity="0.52"/><circle cx="354.23" cy="329.93" r="0.83" fill="#55566a" opacity="0.76"/><circle cx="350.98" cy="333.17" r="0.79" fill="#55566a" opacity="0.55"/><circle cx="332.57" cy="300.62" r="0.72" fill="#45465a" opacity="0.53"/><circle cx="362.79" cy="294.29" r="0.7" fill="#45465a" opacity="0.63"/><circle cx="342.62" cy="335.64" r="0.85" fill="#606170" opacity="0.72"/><circle cx="357.15" cy="299.64" r="0.71" fill="#38394c" opacity="0.64"/><circle cx="397.8" cy="320.26" r="0.57" fill="#55566a" opacity="0.72"/><circle cx="379.57" cy="338.38" r="0.58" fill="#55566a" opacity="0.47"/><circle cx="386.46" cy="302.32" r="0.67" fill="#606170" opacity="0.77"/><circle cx="326.03" cy="318.76" r="0.63" fill="#45465a" opacity="0.5"/><circle cx="401.67" cy="311.69" r="0.62" fill="#606170" opacity="0.5"/><circle cx="395.05" cy="290.64" r="0.68" fill="#606170" opacity="0.49"/><circle cx="390.12" cy="304.68" r="0.78" fill="#45465a" opacity="0.6"/><circle cx="402.04" cy="306.86" r="0.77" fill="#606170" opacity="0.53"/><circle cx="381.03" cy="329.47" r="0.83" fill="#55566a" opacity="0.77"/><circle cx="370.35" cy="288.44" r="0.65" fill="#38394c" opacity="0.58"/><circle cx="377.11" cy="310.58" r="0.62" fill="#45465a" opacity="0.52"/><circle cx="381.33" cy="299.1" r="0.84" fill="#55566a" opacity="0.47"/><circle cx="368.87" cy="321.87" r="0.68" fill="#606170" opacity="0.71"/><circle cx="376.91" cy="291.48" r="0.69" fill="#45465a" opacity="0.57"/><circle cx="385" cy="294.73" r="0.64" fill="#38394c" opacity="0.77"/><circle cx="383.22" cy="320.23" r="0.57" fill="#45465a" opacity="0.62"/><circle cx="379.77" cy="303.75" r="0.6" fill="#55566a" opacity="0.85"/><circle cx="381.02" cy="302.06" r="0.57" fill="#55566a" opacity="0.52"/><circle cx="400.21" cy="310.67" r="0.56" fill="#38394c" opacity="0.79"/><circle cx="381.46" cy="293.26" r="0.74" fill="#55566a" opacity="0.46"/><circle cx="384.81" cy="314.25" r="0.76" fill="#45465a" opacity="0.7"/><circle cx="386.7" cy="302.82" r="0.66" fill="#45465a" opacity="0.47"/><circle cx="357.78" cy="316.17" r="0.61" fill="#55566a" opacity="0.73"/><circle cx="362.89" cy="289.08" r="0.7" fill="#38394c" opacity="0.63"/><circle cx="380.91" cy="304.75" r="0.78" fill="#55566a" opacity="0.56"/><circle cx="387.7" cy="295.25" r="0.77" fill="#45465a" opacity="0.61"/><circle cx="381.92" cy="297.12" r="0.77" fill="#55566a" opacity="0.52"/><circle cx="357.75" cy="301.3" r="0.75" fill="#38394c" opacity="0.61"/><circle cx="375.77" cy="309.33" r="0.63" fill="#38394c" opacity="0.71"/><circle cx="384.63" cy="315.81" r="0.82" fill="#38394c" opacity="0.8"/><circle cx="398.22" cy="315.04" r="0.59" fill="#45465a" opacity="0.52"/><circle cx="406.49" cy="312.59" r="0.69" fill="#606170" opacity="0.77"/><circle cx="384.29" cy="320.44" r="0.59" fill="#606170" opacity="0.61"/><circle cx="371.98" cy="303.92" r="0.74" fill="#45465a" opacity="0.8"/><circle cx="400.86" cy="300.92" r="0.7" fill="#45465a" opacity="0.51"/><circle cx="398.52" cy="294.78" r="0.56" fill="#606170" opacity="0.49"/><circle cx="378.25" cy="310.84" r="0.75" fill="#38394c" opacity="0.84"/><circle cx="398.47" cy="318.59" r="0.75" fill="#45465a" opacity="0.59"/><circle cx="385.84" cy="307.89" r="0.56" fill="#55566a" opacity="0.47"/><circle cx="397.09" cy="309.9" r="0.65" fill="#38394c" opacity="0.8"/><circle cx="365.94" cy="297.56" r="0.71" fill="#55566a" opacity="0.71"/><circle cx="410.28" cy="289.54" r="0.79" fill="#45465a" opacity="0.63"/><circle cx="397.13" cy="299.28" r="0.72" fill="#45465a" opacity="0.65"/><circle cx="403.18" cy="295.08" r="0.55" fill="#606170" opacity="0.63"/><circle cx="386.3" cy="317.13" r="0.79" fill="#45465a" opacity="0.51"/><circle cx="362.74" cy="318.45" r="0.66" fill="#606170" opacity="0.74"/><circle cx="375.43" cy="303.73" r="0.84" fill="#606170" opacity="0.51"/><circle cx="342.16" cy="317.18" r="0.69" fill="#55566a" opacity="0.54"/><circle cx="372.83" cy="297.94" r="0.67" fill="#606170" opacity="0.73"/><circle cx="366.33" cy="292.53" r="0.71" fill="#606170" opacity="0.51"/><circle cx="405.44" cy="298.28" r="0.6" fill="#606170" opacity="0.55"/><circle cx="401.43" cy="302.24" r="0.83" fill="#38394c" opacity="0.47"/><circle cx="392.57" cy="298.31" r="0.58" fill="#45465a" opacity="0.77"/><circle cx="393.87" cy="335.14" r="0.58" fill="#38394c" opacity="0.52"/><circle cx="397.52" cy="310.36" r="0.69" fill="#38394c" opacity="0.48"/><circle cx="379.29" cy="316.37" r="0.83" fill="#38394c" opacity="0.82"/><circle cx="364.68" cy="329.35" r="0.65" fill="#606170" opacity="0.77"/><circle cx="393.85" cy="305.88" r="0.63" fill="#38394c" opacity="0.8"/><circle cx="396.07" cy="317.39" r="0.6" fill="#55566a" opacity="0.53"/><circle cx="399.91" cy="301.69" r="0.69" fill="#55566a" opacity="0.76"/><circle cx="372.85" cy="297.71" r="0.72" fill="#55566a" opacity="0.75"/><circle cx="384.84" cy="299.83" r="0.63" fill="#45465a" opacity="0.76"/><circle cx="383.94" cy="308.09" r="0.67" fill="#606170" opacity="0.83"/><circle cx="333.94" cy="295.07" r="0.85" fill="#45465a" opacity="0.45"/><circle cx="402.32" cy="311.04" r="0.84" fill="#55566a" opacity="0.75"/><circle cx="375.98" cy="296.91" r="0.75" fill="#606170" opacity="0.6"/><circle cx="405.4" cy="301.39" r="0.73" fill="#38394c" opacity="0.85"/><circle cx="378.41" cy="326.42" r="0.6" fill="#55566a" opacity="0.55"/><circle cx="381" cy="312.48" r="0.83" fill="#38394c" opacity="0.67"/><circle cx="386.24" cy="304.94" r="0.58" fill="#38394c" opacity="0.75"/><circle cx="371.68" cy="294.5" r="0.66" fill="#55566a" opacity="0.55"/><circle cx="407.29" cy="290.79" r="0.82" fill="#55566a" opacity="0.74"/><circle cx="391.46" cy="290.13" r="0.73" fill="#45465a" opacity="0.69"/><circle cx="383.09" cy="303.9" r="0.6" fill="#38394c" opacity="0.63"/><circle cx="360.66" cy="317.84" r="0.72" fill="#606170" opacity="0.7"/><circle cx="384.01" cy="318.8" r="0.65" fill="#38394c" opacity="0.5"/><circle cx="371.89" cy="315.19" r="0.62" fill="#45465a" opacity="0.84"/><circle cx="376.53" cy="310.04" r="0.6" fill="#55566a" opacity="0.65"/><circle cx="389.25" cy="301.84" r="0.81" fill="#606170" opacity="0.7"/><circle cx="385.03" cy="297.45" r="0.66" fill="#606170" opacity="0.77"/><circle cx="393.82" cy="299.73" r="0.74" fill="#606170" opacity="0.82"/><circle cx="373.14" cy="314.04" r="0.57" fill="#55566a" opacity="0.67"/><circle cx="384.3" cy="335.82" r="0.78" fill="#606170" opacity="0.66"/><circle cx="382.95" cy="295.8" r="0.63" fill="#55566a" opacity="0.48"/><circle cx="378.1" cy="308.76" r="0.58" fill="#38394c" opacity="0.62"/><circle cx="375.71" cy="289.31" r="0.64" fill="#606170" opacity="0.81"/><circle cx="369.82" cy="324.17" r="0.57" fill="#45465a" opacity="0.63"/><circle cx="383.69" cy="292.35" r="0.63" fill="#55566a" opacity="0.46"/><circle cx="388.03" cy="319.65" r="0.78" fill="#38394c" opacity="0.64"/><circle cx="398.02" cy="314.17" r="0.66" fill="#55566a" opacity="0.56"/><circle cx="393.05" cy="301.65" r="0.81" fill="#55566a" opacity="0.72"/><circle cx="363.48" cy="302.62" r="0.6" fill="#55566a" opacity="0.73"/><circle cx="408.68" cy="307.45" r="0.8" fill="#38394c" opacity="0.54"/><circle cx="372.27" cy="305.12" r="0.7" fill="#606170" opacity="0.7"/><circle cx="399.74" cy="317.81" r="0.81" fill="#45465a" opacity="0.48"/><circle cx="372.49" cy="311.87" r="0.66" fill="#38394c" opacity="0.47"/><circle cx="395.62" cy="298.7" r="0.77" fill="#55566a" opacity="0.74"/><circle cx="398.04" cy="300.04" r="0.78" fill="#55566a" opacity="0.55"/><circle cx="377.65" cy="289.65" r="0.71" fill="#55566a" opacity="0.56"/><circle cx="393.2" cy="299.23" r="0.59" fill="#606170" opacity="0.82"/><circle cx="377.95" cy="290.67" r="0.67" fill="#45465a" opacity="0.57"/><circle cx="364.93" cy="294.95" r="0.7" fill="#606170" opacity="0.64"/><circle cx="398.77" cy="294.65" r="0.74" fill="#606170" opacity="0.56"/><circle cx="410.31" cy="309.2" r="0.6" fill="#38394c" opacity="0.7"/><circle cx="389.53" cy="290.02" r="0.75" fill="#38394c" opacity="0.64"/><circle cx="395.6" cy="324.5" r="0.6" fill="#55566a" opacity="0.65"/><circle cx="383.76" cy="296.21" r="0.82" fill="#606170" opacity="0.46"/><circle cx="386.67" cy="315.24" r="0.78" fill="#38394c" opacity="0.53"/><circle cx="408.92" cy="311.53" r="0.84" fill="#45465a" opacity="0.79"/><circle cx="369.7" cy="296.32" r="0.73" fill="#45465a" opacity="0.58"/><circle cx="390.26" cy="289.15" r="0.64" fill="#55566a" opacity="0.52"/><circle cx="383.09" cy="331.01" r="0.56" fill="#45465a" opacity="0.51"/><circle cx="369.9" cy="318.15" r="0.83" fill="#606170" opacity="0.71"/><circle cx="371.91" cy="300.29" r="0.61" fill="#55566a" opacity="0.69"/><circle cx="385.28" cy="319.77" r="0.63" fill="#606170" opacity="0.83"/><circle cx="398.56" cy="312.64" r="0.68" fill="#38394c" opacity="0.47"/><circle cx="373.98" cy="302.61" r="0.63" fill="#606170" opacity="0.74"/><circle cx="390.24" cy="312.42" r="0.58" fill="#606170" opacity="0.5"/><circle cx="408.66" cy="292.45" r="0.84" fill="#55566a" opacity="0.72"/><circle cx="382.91" cy="289.96" r="0.64" fill="#45465a" opacity="0.46"/><circle cx="385.88" cy="301.62" r="0.73" fill="#55566a" opacity="0.49"/><circle cx="367.04" cy="300.87" r="0.66" fill="#606170" opacity="0.57"/><circle cx="388.94" cy="299.44" r="0.84" fill="#606170" opacity="0.76"/><circle cx="399.56" cy="292.15" r="0.76" fill="#45465a" opacity="0.8"/><circle cx="401.35" cy="302.13" r="0.8" fill="#606170" opacity="0.58"/><circle cx="389.06" cy="303.6" r="0.6" fill="#38394c" opacity="0.54"/><circle cx="402.09" cy="290.3" r="0.83" fill="#55566a" opacity="0.79"/><circle cx="409.01" cy="291.46" r="0.76" fill="#55566a" opacity="0.77"/><circle cx="408.24" cy="311.22" r="0.82" fill="#45465a" opacity="0.73"/><circle cx="374.79" cy="330.16" r="0.58" fill="#606170" opacity="0.84"/><circle cx="367.67" cy="302.29" r="0.79" fill="#55566a" opacity="0.52"/><circle cx="390.32" cy="310.55" r="0.64" fill="#606170" opacity="0.77"/><circle cx="390.63" cy="313.85" r="0.65" fill="#55566a" opacity="0.8"/><circle cx="394.39" cy="304.73" r="0.72" fill="#45465a" opacity="0.8"/><circle cx="371.96" cy="300.23" r="0.72" fill="#38394c" opacity="0.72"/><circle cx="401.55" cy="290.46" r="0.68" fill="#55566a" opacity="0.61"/><circle cx="383.11" cy="313.01" r="0.62" fill="#606170" opacity="0.85"/><circle cx="396.81" cy="313.54" r="0.74" fill="#606170" opacity="0.79"/><circle cx="404.13" cy="309.97" r="0.67" fill="#55566a" opacity="0.57"/><circle cx="400.46" cy="303.7" r="0.6" fill="#38394c" opacity="0.65"/><circle cx="389.7" cy="319.42" r="0.57" fill="#606170" opacity="0.73"/><circle cx="374.9" cy="290.42" r="0.65" fill="#606170" opacity="0.76"/><circle cx="388.45" cy="317.84" r="0.76" fill="#606170" opacity="0.5"/><circle cx="394.24" cy="296.53" r="0.65" fill="#45465a" opacity="0.59"/><circle cx="401.86" cy="299.63" r="0.82" fill="#606170" opacity="0.83"/><circle cx="390.29" cy="302.2" r="0.56" fill="#55566a" opacity="0.78"/><circle cx="370.28" cy="310.59" r="0.8" fill="#45465a" opacity="0.79"/><circle cx="379.2" cy="296.15" r="0.78" fill="#38394c" opacity="0.71"/><circle cx="397.62" cy="303.35" r="0.76" fill="#45465a" opacity="0.8"/><circle cx="375.68" cy="315.52" r="0.62" fill="#55566a" opacity="0.56"/><circle cx="377.44" cy="303.97" r="0.57" fill="#45465a" opacity="0.46"/><circle cx="398.83" cy="315.57" r="0.58" fill="#606170" opacity="0.73"/><circle cx="406.36" cy="324.06" r="0.67" fill="#38394c" opacity="0.66"/><circle cx="387.7" cy="294.84" r="0.58" fill="#38394c" opacity="0.57"/><circle cx="382.14" cy="312.68" r="0.64" fill="#45465a" opacity="0.55"/><circle cx="403.74" cy="308.46" r="0.82" fill="#45465a" opacity="0.71"/><circle cx="388.95" cy="324.45" r="0.66" fill="#45465a" opacity="0.55"/><circle cx="410.12" cy="296.7" r="0.58" fill="#55566a" opacity="0.72"/><circle cx="387.08" cy="299.75" r="0.84" fill="#38394c" opacity="0.47"/><circle cx="392.84" cy="304.49" r="0.69" fill="#45465a" opacity="0.52"/><circle cx="376.38" cy="299.53" r="0.72" fill="#38394c" opacity="0.58"/><circle cx="361.81" cy="318.96" r="0.65" fill="#38394c" opacity="0.7"/><circle cx="378.37" cy="311.63" r="0.65" fill="#606170" opacity="0.63"/><circle cx="376.35" cy="305.18" r="0.78" fill="#55566a" opacity="0.57"/><circle cx="397.15" cy="301.08" r="0.85" fill="#606170" opacity="0.6"/><circle cx="373.81" cy="332.01" r="0.55" fill="#55566a" opacity="0.7"/><circle cx="383.77" cy="311.1" r="0.61" fill="#38394c" opacity="0.62"/><circle cx="385.67" cy="295.14" r="0.71" fill="#55566a" opacity="0.62"/><circle cx="408.2" cy="308.99" r="0.77" fill="#38394c" opacity="0.79"/><circle cx="391.61" cy="314.33" r="0.8" fill="#45465a" opacity="0.84"/><circle cx="391.55" cy="302.57" r="0.6" fill="#38394c" opacity="0.8"/><circle cx="406.24" cy="307.27" r="0.56" fill="#606170" opacity="0.75"/><circle cx="396.35" cy="316.68" r="0.76" fill="#38394c" opacity="0.59"/><circle cx="403.14" cy="288.7" r="0.82" fill="#606170" opacity="0.85"/><circle cx="392.41" cy="295.28" r="0.71" fill="#55566a" opacity="0.79"/><circle cx="354.55" cy="307.74" r="0.81" fill="#38394c" opacity="0.48"/><circle cx="358.91" cy="298.79" r="0.58" fill="#55566a" opacity="0.72"/><circle cx="346.45" cy="292.19" r="0.68" fill="#55566a" opacity="0.74"/><circle cx="379.39" cy="304.25" r="0.68" fill="#45465a" opacity="0.65"/><circle cx="378.26" cy="293.34" r="0.63" fill="#606170" opacity="0.81"/><circle cx="372.42" cy="322.57" r="0.58" fill="#55566a" opacity="0.46"/><circle cx="379.37" cy="303.17" r="0.83" fill="#45465a" opacity="0.64"/><circle cx="353.56" cy="292.18" r="0.6" fill="#606170" opacity="0.59"/><circle cx="380.58" cy="290.68" r="0.55" fill="#45465a" opacity="0.7"/><circle cx="386.28" cy="303.28" r="0.74" fill="#38394c" opacity="0.84"/><circle cx="361.92" cy="306.25" r="0.76" fill="#606170" opacity="0.72"/><circle cx="363.77" cy="312.65" r="0.75" fill="#606170" opacity="0.67"/><circle cx="390.52" cy="330.36" r="0.82" fill="#38394c" opacity="0.82"/><circle cx="400.23" cy="301.83" r="0.65" fill="#55566a" opacity="0.61"/><circle cx="392.43" cy="306" r="0.7" fill="#55566a" opacity="0.52"/><circle cx="404.61" cy="322.33" r="0.78" fill="#55566a" opacity="0.47"/><circle cx="379.37" cy="301.18" r="0.69" fill="#55566a" opacity="0.47"/><circle cx="379.04" cy="316.29" r="0.71" fill="#38394c" opacity="0.74"/><circle cx="406.42" cy="293.89" r="0.76" fill="#45465a" opacity="0.48"/><circle cx="381.38" cy="297.89" r="0.73" fill="#55566a" opacity="0.78"/><circle cx="390.34" cy="313.41" r="0.61" fill="#45465a" opacity="0.58"/><circle cx="404.17" cy="300.99" r="0.74" fill="#45465a" opacity="0.71"/><circle cx="370.99" cy="310.69" r="0.64" fill="#45465a" opacity="0.49"/><circle cx="396.49" cy="300.12" r="0.82" fill="#38394c" opacity="0.73"/><circle cx="389.63" cy="308.56" r="0.74" fill="#606170" opacity="0.51"/><circle cx="401.15" cy="305.16" r="0.67" fill="#45465a" opacity="0.63"/><circle cx="394.8" cy="306.44" r="0.77" fill="#55566a" opacity="0.62"/><circle cx="371.34" cy="312.7" r="0.78" fill="#55566a" opacity="0.56"/><circle cx="388.56" cy="316.87" r="0.59" fill="#606170" opacity="0.71"/><circle cx="367.8" cy="295.98" r="0.61" fill="#55566a" opacity="0.71"/><circle cx="384.81" cy="299.01" r="0.72" fill="#38394c" opacity="0.55"/><circle cx="380.27" cy="301.34" r="0.71" fill="#38394c" opacity="0.81"/><circle cx="350.97" cy="304.83" r="0.62" fill="#45465a" opacity="0.84"/><circle cx="388.17" cy="316.83" r="0.67" fill="#38394c" opacity="0.59"/><circle cx="410.29" cy="308.56" r="0.59" fill="#45465a" opacity="0.73"/><circle cx="395.81" cy="317.49" r="0.74" fill="#55566a" opacity="0.58"/><circle cx="401.03" cy="307.16" r="0.63" fill="#45465a" opacity="0.75"/><circle cx="381.23" cy="300" r="0.83" fill="#45465a" opacity="0.52"/><circle cx="387.35" cy="309.44" r="0.78" fill="#38394c" opacity="0.62"/><circle cx="396.21" cy="303.21" r="0.72" fill="#45465a" opacity="0.8"/><circle cx="366.68" cy="326.04" r="0.61" fill="#55566a" opacity="0.82"/><circle cx="410.01" cy="316.4" r="0.64" fill="#606170" opacity="0.81"/><circle cx="390.02" cy="315.92" r="0.73" fill="#45465a" opacity="0.46"/><circle cx="394.16" cy="294.43" r="0.73" fill="#55566a" opacity="0.85"/><circle cx="388.85" cy="289.63" r="0.75" fill="#45465a" opacity="0.82"/><circle cx="376.48" cy="294.03" r="0.65" fill="#55566a" opacity="0.82"/><circle cx="389.5" cy="316.99" r="0.64" fill="#45465a" opacity="0.81"/><circle cx="376.55" cy="309.82" r="0.78" fill="#45465a" opacity="0.69"/><circle cx="352.54" cy="291.58" r="0.66" fill="#38394c" opacity="0.59"/><circle cx="395.62" cy="315.74" r="0.59" fill="#45465a" opacity="0.76"/><circle cx="402.21" cy="317.07" r="0.61" fill="#606170" opacity="0.61"/><circle cx="360.51" cy="298.14" r="0.79" fill="#55566a" opacity="0.83"/><circle cx="345.31" cy="302.49" r="0.66" fill="#45465a" opacity="0.61"/><circle cx="390.77" cy="300.3" r="0.55" fill="#45465a" opacity="0.67"/><circle cx="372.01" cy="309.45" r="0.67" fill="#38394c" opacity="0.72"/><circle cx="395.56" cy="305.93" r="0.64" fill="#38394c" opacity="0.76"/><circle cx="377.23" cy="304.85" r="0.85" fill="#45465a" opacity="0.46"/><circle cx="388.35" cy="307.52" r="0.57" fill="#606170" opacity="0.76"/><circle cx="397.02" cy="304.02" r="0.59" fill="#38394c" opacity="0.82"/><circle cx="363.63" cy="301.08" r="0.74" fill="#606170" opacity="0.72"/><circle cx="392.97" cy="299.11" r="0.69" fill="#606170" opacity="0.82"/><circle cx="390.5" cy="296.19" r="0.67" fill="#55566a" opacity="0.73"/><circle cx="408.67" cy="309.15" r="0.81" fill="#38394c" opacity="0.78"/><circle cx="389.24" cy="313.35" r="0.57" fill="#606170" opacity="0.6"/><circle cx="399.31" cy="305.41" r="0.73" fill="#55566a" opacity="0.8"/><circle cx="403.14" cy="312.14" r="0.78" fill="#55566a" opacity="0.71"/><circle cx="390.44" cy="304.37" r="0.76" fill="#38394c" opacity="0.52"/><circle cx="369.08" cy="306.64" r="0.75" fill="#55566a" opacity="0.75"/><circle cx="389.84" cy="294.42" r="0.75" fill="#606170" opacity="0.77"/><circle cx="408.96" cy="304.29" r="0.82" fill="#606170" opacity="0.55"/><circle cx="369.66" cy="299.37" r="0.56" fill="#45465a" opacity="0.71"/><circle cx="386.29" cy="303.92" r="0.72" fill="#38394c" opacity="0.81"/><circle cx="374.37" cy="304.76" r="0.76" fill="#55566a" opacity="0.75"/><circle cx="363.44" cy="299.23" r="0.75" fill="#55566a" opacity="0.7"/><circle cx="394" cy="296.33" r="0.79" fill="#38394c" opacity="0.76"/><circle cx="397.42" cy="313.87" r="0.79" fill="#45465a" opacity="0.81"/><circle cx="401.2" cy="320.37" r="0.71" fill="#38394c" opacity="0.66"/><circle cx="361.28" cy="306.84" r="0.57" fill="#45465a" opacity="0.58"/><circle cx="371.4" cy="302.32" r="0.65" fill="#38394c" opacity="0.65"/><circle cx="362.7" cy="331.61" r="0.84" fill="#606170" opacity="0.55"/><circle cx="370.43" cy="319.09" r="0.6" fill="#55566a" opacity="0.48"/><circle cx="379.92" cy="312.94" r="0.6" fill="#55566a" opacity="0.78"/><circle cx="350.08" cy="332.76" r="0.69" fill="#55566a" opacity="0.74"/><circle cx="360.41" cy="318.97" r="0.63" fill="#45465a" opacity="0.63"/><circle cx="380.08" cy="321.92" r="0.6" fill="#45465a" opacity="0.47"/><circle cx="370.08" cy="312.91" r="0.81" fill="#55566a" opacity="0.64"/><circle cx="374.28" cy="341.56" r="0.76" fill="#606170" opacity="0.54"/><circle cx="362.64" cy="307.79" r="0.59" fill="#606170" opacity="0.5"/><circle cx="371.55" cy="311.74" r="0.58" fill="#55566a" opacity="0.6"/><circle cx="369.78" cy="319.45" r="0.58" fill="#38394c" opacity="0.61"/><circle cx="373.53" cy="321.26" r="0.67" fill="#45465a" opacity="0.78"/><circle cx="371.72" cy="332.23" r="0.7" fill="#55566a" opacity="0.8"/><circle cx="358.79" cy="319.76" r="0.67" fill="#55566a" opacity="0.74"/><circle cx="371.83" cy="306.87" r="0.67" fill="#55566a" opacity="0.82"/><circle cx="359.04" cy="315.9" r="0.8" fill="#38394c" opacity="0.76"/><circle cx="363.19" cy="330.71" r="0.82" fill="#45465a" opacity="0.77"/><circle cx="364.82" cy="316.13" r="0.72" fill="#606170" opacity="0.48"/><circle cx="391.39" cy="313.61" r="0.72" fill="#606170" opacity="0.47"/><circle cx="390.79" cy="287.56" r="0.79" fill="#606170" opacity="0.58"/><circle cx="361.95" cy="333.63" r="0.6" fill="#38394c" opacity="0.81"/><circle cx="384.74" cy="324.03" r="0.7" fill="#38394c" opacity="0.48"/><circle cx="362.11" cy="317.95" r="0.72" fill="#606170" opacity="0.72"/><circle cx="376.55" cy="322.62" r="0.6" fill="#38394c" opacity="0.66"/><circle cx="378.32" cy="312.05" r="0.77" fill="#38394c" opacity="0.68"/><circle cx="377.15" cy="332.54" r="0.77" fill="#45465a" opacity="0.62"/><circle cx="399.95" cy="326.86" r="0.62" fill="#38394c" opacity="0.62"/><circle cx="375.9" cy="310.88" r="0.63" fill="#606170" opacity="0.83"/><circle cx="355.25" cy="296.13" r="0.81" fill="#606170" opacity="0.76"/><circle cx="373.47" cy="340.16" r="0.59" fill="#45465a" opacity="0.79"/><circle cx="367.8" cy="294.12" r="0.77" fill="#38394c" opacity="0.79"/><circle cx="370.75" cy="317.39" r="0.8" fill="#38394c" opacity="0.73"/><circle cx="365.03" cy="337.47" r="0.69" fill="#55566a" opacity="0.81"/><circle cx="381.34" cy="334.8" r="0.62" fill="#45465a" opacity="0.61"/><circle cx="360.86" cy="323.27" r="0.75" fill="#606170" opacity="0.55"/><circle cx="357.77" cy="331.26" r="0.7" fill="#606170" opacity="0.79"/><circle cx="357.58" cy="332.46" r="0.6" fill="#55566a" opacity="0.67"/><circle cx="371.43" cy="321.95" r="0.83" fill="#55566a" opacity="0.59"/><circle cx="354.35" cy="326.82" r="0.57" fill="#38394c" opacity="0.66"/><circle cx="350.46" cy="306.85" r="0.82" fill="#38394c" opacity="0.49"/><circle cx="359.4" cy="340.69" r="0.72" fill="#45465a" opacity="0.75"/><circle cx="369.94" cy="312.58" r="0.78" fill="#55566a" opacity="0.46"/><circle cx="374.14" cy="343.82" r="0.6" fill="#45465a" opacity="0.73"/><circle cx="367.24" cy="308.72" r="0.63" fill="#55566a" opacity="0.69"/><circle cx="357.56" cy="318.94" r="0.64" fill="#38394c" opacity="0.64"/><circle cx="385.77" cy="318.05" r="0.66" fill="#55566a" opacity="0.69"/><circle cx="366.37" cy="309.35" r="0.63" fill="#606170" opacity="0.81"/><circle cx="357.23" cy="330.13" r="0.76" fill="#38394c" opacity="0.84"/><circle cx="372.27" cy="323.69" r="0.79" fill="#38394c" opacity="0.52"/><circle cx="354.83" cy="325.16" r="0.7" fill="#55566a" opacity="0.62"/><circle cx="372" cy="334.94" r="0.61" fill="#45465a" opacity="0.66"/><circle cx="379.46" cy="316.98" r="0.7" fill="#45465a" opacity="0.68"/><circle cx="372.05" cy="322.65" r="0.57" fill="#606170" opacity="0.64"/><circle cx="367.68" cy="310.43" r="0.62" fill="#55566a" opacity="0.65"/><circle cx="377.76" cy="342.45" r="0.58" fill="#55566a" opacity="0.77"/><circle cx="367.69" cy="336.14" r="0.74" fill="#45465a" opacity="0.57"/><circle cx="365.36" cy="315.83" r="0.8" fill="#55566a" opacity="0.6"/><circle cx="368.36" cy="316.27" r="0.62" fill="#55566a" opacity="0.53"/><circle cx="378.47" cy="331.2" r="0.83" fill="#606170" opacity="0.6"/><circle cx="342.64" cy="327.66" r="0.59" fill="#45465a" opacity="0.52"/><circle cx="372.63" cy="337.2" r="0.85" fill="#38394c" opacity="0.72"/><circle cx="359.57" cy="320.66" r="0.69" fill="#606170" opacity="0.54"/><circle cx="380.97" cy="328.5" r="0.57" fill="#38394c" opacity="0.47"/><circle cx="384.16" cy="311.34" r="0.69" fill="#55566a" opacity="0.49"/><circle cx="361.83" cy="325.38" r="0.62" fill="#55566a" opacity="0.8"/><circle cx="354.75" cy="323.9" r="0.55" fill="#606170" opacity="0.48"/><circle cx="378.11" cy="322.85" r="0.65" fill="#38394c" opacity="0.8"/><circle cx="354.97" cy="313.41" r="0.57" fill="#45465a" opacity="0.64"/><circle cx="365.39" cy="323.56" r="0.79" fill="#45465a" opacity="0.72"/><circle cx="371.07" cy="314.81" r="0.72" fill="#55566a" opacity="0.57"/><circle cx="351.48" cy="300.49" r="0.65" fill="#606170" opacity="0.5"/><circle cx="358.21" cy="308.48" r="0.58" fill="#45465a" opacity="0.52"/><circle cx="361.93" cy="307.98" r="0.7" fill="#606170" opacity="0.61"/><circle cx="366.72" cy="312.7" r="0.61" fill="#55566a" opacity="0.62"/><circle cx="370.18" cy="318.82" r="0.61" fill="#606170" opacity="0.65"/><circle cx="374.16" cy="308.99" r="0.63" fill="#606170" opacity="0.46"/><circle cx="359.15" cy="307.45" r="0.62" fill="#606170" opacity="0.56"/><circle cx="369.05" cy="326.28" r="0.69" fill="#606170" opacity="0.62"/><circle cx="379.8" cy="320.53" r="0.75" fill="#45465a" opacity="0.81"/><circle cx="366.73" cy="326.39" r="0.56" fill="#45465a" opacity="0.74"/><circle cx="367.63" cy="308.6" r="0.83" fill="#55566a" opacity="0.52"/><circle cx="375.64" cy="314.53" r="0.75" fill="#55566a" opacity="0.77"/><circle cx="353.18" cy="316.91" r="0.64" fill="#38394c" opacity="0.46"/><circle cx="359.75" cy="318.4" r="0.84" fill="#38394c" opacity="0.5"/><circle cx="360.84" cy="315.48" r="0.62" fill="#38394c" opacity="0.6"/><circle cx="361.97" cy="317.54" r="0.62" fill="#38394c" opacity="0.47"/><circle cx="373.9" cy="321.27" r="0.69" fill="#45465a" opacity="0.53"/><circle cx="368.09" cy="329.22" r="0.64" fill="#38394c" opacity="0.8"/><circle cx="354.35" cy="320.49" r="0.78" fill="#38394c" opacity="0.73"/><circle cx="379.91" cy="324.5" r="0.6" fill="#606170" opacity="0.45"/><circle cx="379.45" cy="309.34" r="0.66" fill="#606170" opacity="0.75"/><circle cx="379.67" cy="311.64" r="0.78" fill="#45465a" opacity="0.82"/><circle cx="379.51" cy="321.38" r="0.73" fill="#606170" opacity="0.61"/><circle cx="376.78" cy="310.83" r="0.75" fill="#45465a" opacity="0.5"/><circle cx="365.93" cy="300.03" r="0.67" fill="#45465a" opacity="0.62"/><circle cx="371.78" cy="326.43" r="0.71" fill="#55566a" opacity="0.77"/><circle cx="371.99" cy="330.52" r="0.65" fill="#38394c" opacity="0.71"/><circle cx="374.52" cy="320.48" r="0.73" fill="#55566a" opacity="0.56"/><circle cx="374.09" cy="313.66" r="0.84" fill="#45465a" opacity="0.56"/><circle cx="377.88" cy="322.07" r="0.8" fill="#38394c" opacity="0.81"/><circle cx="371.96" cy="317.91" r="0.78" fill="#606170" opacity="0.48"/><circle cx="362.79" cy="309.65" r="0.61" fill="#606170" opacity="0.6"/><circle cx="365.86" cy="326.65" r="0.76" fill="#45465a" opacity="0.81"/><circle cx="350.87" cy="320.63" r="0.76" fill="#38394c" opacity="0.79"/><circle cx="404.56" cy="321.8" r="0.74" fill="#606170" opacity="0.81"/><circle cx="367.44" cy="323.72" r="0.57" fill="#606170" opacity="0.51"/><circle cx="367.75" cy="320.97" r="0.8" fill="#38394c" opacity="0.69"/><circle cx="370.85" cy="309.96" r="0.79" fill="#606170" opacity="0.47"/><circle cx="381.42" cy="322.26" r="0.63" fill="#38394c" opacity="0.48"/><circle cx="380.62" cy="321.84" r="0.78" fill="#38394c" opacity="0.55"/><circle cx="380.16" cy="320.75" r="0.75" fill="#45465a" opacity="0.67"/><circle cx="400.11" cy="331.94" r="0.6" fill="#55566a" opacity="0.84"/><circle cx="382.92" cy="319.73" r="0.82" fill="#38394c" opacity="0.46"/><circle cx="354.21" cy="317.18" r="0.68" fill="#38394c" opacity="0.6"/><circle cx="374.87" cy="321.81" r="0.78" fill="#45465a" opacity="0.57"/><circle cx="364.01" cy="312.81" r="0.8" fill="#55566a" opacity="0.66"/><circle cx="357.31" cy="315.7" r="0.85" fill="#606170" opacity="0.47"/><circle cx="343.89" cy="304" r="0.56" fill="#55566a" opacity="0.62"/><circle cx="343.92" cy="298.19" r="0.66" fill="#38394c" opacity="0.48"/><circle cx="340.47" cy="299.32" r="0.59" fill="#606170" opacity="0.78"/><circle cx="342.18" cy="301.29" r="0.73" fill="#55566a" opacity="0.54"/><circle cx="343.52" cy="298.41" r="0.65" fill="#606170" opacity="0.68"/><circle cx="338.25" cy="308.59" r="0.77" fill="#38394c" opacity="0.51"/><circle cx="341.24" cy="301.36" r="0.69" fill="#606170" opacity="0.48"/><circle cx="325.68" cy="295.79" r="0.84" fill="#45465a" opacity="0.7"/><circle cx="338.9" cy="290.9" r="0.72" fill="#38394c" opacity="0.63"/><circle cx="346.43" cy="305.36" r="0.7" fill="#55566a" opacity="0.77"/><circle cx="342.83" cy="304.06" r="0.62" fill="#45465a" opacity="0.53"/><circle cx="329.28" cy="297.43" r="0.77" fill="#606170" opacity="0.82"/><circle cx="346.44" cy="301.05" r="0.74" fill="#38394c" opacity="0.62"/><circle cx="330.39" cy="298.62" r="0.62" fill="#45465a" opacity="0.48"/><circle cx="345.05" cy="290.13" r="0.76" fill="#38394c" opacity="0.77"/><circle cx="339.57" cy="303.21" r="0.81" fill="#45465a" opacity="0.73"/><circle cx="332.21" cy="294.67" r="0.63" fill="#55566a" opacity="0.66"/><circle cx="346.81" cy="303.56" r="0.81" fill="#606170" opacity="0.55"/><circle cx="348.59" cy="300.31" r="0.76" fill="#45465a" opacity="0.63"/><circle cx="330.81" cy="298.2" r="0.63" fill="#606170" opacity="0.58"/><circle cx="333.41" cy="296.85" r="0.7" fill="#45465a" opacity="0.72"/><circle cx="341.7" cy="308.7" r="0.75" fill="#45465a" opacity="0.57"/><circle cx="339.34" cy="311.18" r="0.83" fill="#606170" opacity="0.59"/><circle cx="328.42" cy="297.44" r="0.56" fill="#45465a" opacity="0.64"/><circle cx="326.19" cy="296.51" r="0.58" fill="#606170" opacity="0.57"/><circle cx="339.13" cy="301.66" r="0.73" fill="#38394c" opacity="0.5"/><circle cx="338.9" cy="296.75" r="0.81" fill="#55566a" opacity="0.57"/><circle cx="328.12" cy="299.08" r="0.62" fill="#606170" opacity="0.77"/><circle cx="350.29" cy="301.76" r="0.84" fill="#606170" opacity="0.81"/><circle cx="333.17" cy="299.71" r="0.8" fill="#38394c" opacity="0.56"/><circle cx="341.53" cy="307.21" r="0.64" fill="#606170" opacity="0.75"/><circle cx="334.28" cy="302.17" r="0.56" fill="#38394c" opacity="0.74"/><circle cx="342.54" cy="296.8" r="0.75" fill="#55566a" opacity="0.69"/><circle cx="337.64" cy="296.02" r="0.8" fill="#38394c" opacity="0.48"/><circle cx="338.86" cy="300.61" r="0.63" fill="#606170" opacity="0.69"/><circle cx="329.33" cy="297.87" r="0.7" fill="#55566a" opacity="0.69"/><circle cx="349.74" cy="298.78" r="0.56" fill="#45465a" opacity="0.64"/><circle cx="336.67" cy="299.99" r="0.74" fill="#606170" opacity="0.71"/><circle cx="342.37" cy="296.19" r="0.6" fill="#606170" opacity="0.74"/><circle cx="330.81" cy="293.97" r="0.82" fill="#55566a" opacity="0.56"/><circle cx="354.05" cy="336.36" r="0.62" fill="#55566a" opacity="0.59"/><circle cx="353.9" cy="342.91" r="0.6" fill="#606170" opacity="0.81"/><circle cx="372.52" cy="337.4" r="0.67" fill="#45465a" opacity="0.73"/><circle cx="347.51" cy="334.79" r="0.57" fill="#45465a" opacity="0.6"/><circle cx="362.17" cy="335.17" r="0.62" fill="#45465a" opacity="0.66"/><circle cx="345.93" cy="341.61" r="0.76" fill="#606170" opacity="0.83"/><circle cx="369.65" cy="332.67" r="0.7" fill="#45465a" opacity="0.58"/><circle cx="367.53" cy="338.79" r="0.8" fill="#38394c" opacity="0.8"/><circle cx="351.85" cy="335" r="0.69" fill="#38394c" opacity="0.61"/><circle cx="345.04" cy="333.56" r="0.67" fill="#606170" opacity="0.45"/><circle cx="364.08" cy="327.26" r="0.81" fill="#45465a" opacity="0.45"/><circle cx="347.42" cy="336.37" r="0.68" fill="#606170" opacity="0.73"/><circle cx="340.33" cy="333.39" r="0.76" fill="#38394c" opacity="0.59"/><circle cx="337.59" cy="340.8" r="0.66" fill="#55566a" opacity="0.68"/><circle cx="358.03" cy="327.33" r="0.59" fill="#606170" opacity="0.56"/><circle cx="365.58" cy="329.77" r="0.76" fill="#38394c" opacity="0.81"/><circle cx="332.51" cy="324.57" r="0.66" fill="#45465a" opacity="0.67"/><circle cx="355.9" cy="320.61" r="0.75" fill="#606170" opacity="0.78"/><circle cx="350.25" cy="337.9" r="0.69" fill="#55566a" opacity="0.63"/><circle cx="360.99" cy="334.04" r="0.74" fill="#38394c" opacity="0.52"/><circle cx="362.75" cy="333.52" r="0.84" fill="#38394c" opacity="0.79"/><circle cx="360.25" cy="329.69" r="0.83" fill="#55566a" opacity="0.66"/><circle cx="354.12" cy="334.13" r="0.68" fill="#45465a" opacity="0.55"/><circle cx="351.12" cy="336.59" r="0.79" fill="#606170" opacity="0.63"/><circle cx="352.46" cy="338.51" r="0.8" fill="#606170" opacity="0.67"/><circle cx="329.17" cy="341.26" r="0.63" fill="#606170" opacity="0.64"/><circle cx="337.61" cy="322.72" r="0.56" fill="#38394c" opacity="0.53"/><circle cx="352.16" cy="327.92" r="0.68" fill="#38394c" opacity="0.85"/><circle cx="353.43" cy="343.67" r="0.57" fill="#45465a" opacity="0.57"/><circle cx="351.28" cy="329.45" r="0.65" fill="#38394c" opacity="0.5"/><circle cx="365.74" cy="328.19" r="0.59" fill="#45465a" opacity="0.68"/><circle cx="360.07" cy="327.29" r="0.83" fill="#606170" opacity="0.59"/><circle cx="356.71" cy="340.03" r="0.61" fill="#606170" opacity="0.72"/><circle cx="349.24" cy="325.55" r="0.56" fill="#38394c" opacity="0.7"/><circle cx="347.39" cy="333.96" r="0.59" fill="#55566a" opacity="0.7"/><circle cx="355.81" cy="335.73" r="0.7" fill="#38394c" opacity="0.77"/><circle cx="356.16" cy="334.04" r="0.73" fill="#606170" opacity="0.55"/><circle cx="334.8" cy="335.92" r="0.56" fill="#45465a" opacity="0.52"/><circle cx="365.03" cy="330.33" r="0.66" fill="#45465a" opacity="0.58"/><circle cx="340.63" cy="323.06" r="0.75" fill="#38394c" opacity="0.61"/><circle cx="369.62" cy="328.95" r="0.73" fill="#45465a" opacity="0.57"/><circle cx="361.63" cy="337.22" r="0.75" fill="#606170" opacity="0.85"/><circle cx="349.66" cy="336.65" r="0.74" fill="#55566a" opacity="0.58"/><circle cx="356.14" cy="333.26" r="0.82" fill="#45465a" opacity="0.73"/><circle cx="404.31" cy="340.87" r="0.79" fill="#606170" opacity="0.61"/><circle cx="390.77" cy="339.68" r="0.81" fill="#606170" opacity="0.53"/><circle cx="382" cy="341.19" r="0.82" fill="#45465a" opacity="0.76"/><circle cx="386.93" cy="334.63" r="0.63" fill="#55566a" opacity="0.57"/><circle cx="378.01" cy="336.88" r="0.66" fill="#55566a" opacity="0.46"/><circle cx="393.91" cy="326.21" r="0.68" fill="#38394c" opacity="0.5"/><circle cx="392.83" cy="339.2" r="0.59" fill="#38394c" opacity="0.7"/><circle cx="402.77" cy="343.9" r="0.69" fill="#55566a" opacity="0.61"/><circle cx="383.73" cy="344.51" r="0.62" fill="#45465a" opacity="0.72"/><circle cx="394.82" cy="334.77" r="0.74" fill="#606170" opacity="0.64"/><circle cx="381.93" cy="342.3" r="0.59" fill="#45465a" opacity="0.78"/><circle cx="397.99" cy="333.1" r="0.6" fill="#38394c" opacity="0.63"/><circle cx="392.93" cy="333.45" r="0.82" fill="#55566a" opacity="0.53"/><circle cx="381.91" cy="330.01" r="0.59" fill="#606170" opacity="0.73"/><circle cx="395.95" cy="338.32" r="0.78" fill="#45465a" opacity="0.55"/><circle cx="393.44" cy="337.79" r="0.58" fill="#38394c" opacity="0.61"/><circle cx="390.29" cy="342.45" r="0.63" fill="#38394c" opacity="0.59"/><circle cx="373.28" cy="341.67" r="0.66" fill="#38394c" opacity="0.69"/><circle cx="378.23" cy="334.83" r="0.63" fill="#45465a" opacity="0.66"/><circle cx="390.8" cy="336.33" r="0.65" fill="#606170" opacity="0.73"/><circle cx="394.14" cy="330.21" r="0.66" fill="#38394c" opacity="0.75"/><circle cx="406.38" cy="343.5" r="0.6" fill="#55566a" opacity="0.68"/><circle cx="394.83" cy="341" r="0.67" fill="#55566a" opacity="0.46"/><circle cx="385.67" cy="324.38" r="0.83" fill="#606170" opacity="0.79"/><circle cx="374.22" cy="339.36" r="0.83" fill="#38394c" opacity="0.54"/><circle cx="393.86" cy="329.79" r="0.8" fill="#606170" opacity="0.74"/><circle cx="384.09" cy="325.37" r="0.59" fill="#38394c" opacity="0.58"/><circle cx="388.37" cy="338.69" r="0.64" fill="#606170" opacity="0.65"/><circle cx="401.59" cy="327.5" r="0.8" fill="#45465a" opacity="0.6"/><circle cx="400.21" cy="337.62" r="0.57" fill="#38394c" opacity="0.82"/><circle cx="388.68" cy="336.33" r="0.57" fill="#606170" opacity="0.65"/><circle cx="404.4" cy="341.68" r="0.56" fill="#55566a" opacity="0.46"/><circle cx="382.13" cy="334.61" r="0.75" fill="#45465a" opacity="0.68"/><circle cx="398.51" cy="338.64" r="0.66" fill="#38394c" opacity="0.47"/><circle cx="386.08" cy="336.22" r="0.84" fill="#38394c" opacity="0.78"/><circle cx="379.48" cy="328.22" r="0.68" fill="#38394c" opacity="0.53"/><circle cx="393.01" cy="334.61" r="0.75" fill="#55566a" opacity="0.79"/><circle cx="394.46" cy="336.29" r="0.81" fill="#55566a" opacity="0.54"/><circle cx="391.48" cy="339.32" r="0.62" fill="#45465a" opacity="0.69"/><circle cx="404.59" cy="337.65" r="0.61" fill="#55566a" opacity="0.65"/><circle cx="398.58" cy="329.49" r="0.78" fill="#55566a" opacity="0.68"/><circle cx="380.64" cy="335.21" r="0.74" fill="#38394c" opacity="0.64"/><circle cx="399.36" cy="330.35" r="0.74" fill="#45465a" opacity="0.71"/><circle cx="403.09" cy="330.34" r="0.84" fill="#38394c" opacity="0.62"/><circle cx="392.07" cy="336.34" r="0.61" fill="#55566a" opacity="0.73"/>
</g>
<rect x="325.7" y="287.5" width="84.8" height="56.8" fill="none" stroke="#3a3a3a" stroke-width="1"/>
<g clip-path="url(#clip_b)">
<rect x="325.2" y="346.8" width="85.8" height="57.4" fill="#c9c2c1"/>
<ellipse cx="392.12" cy="357.13" rx="17.16" ry="14.35" fill="url(#yg)"/>
<ellipse cx="406.71" cy="386.98" rx="6.86" ry="11.48" fill="url(#yg)"/>
<ellipse cx="363.81" cy="364.02" rx="8.58" ry="11.48" fill="url(#yg)"/>
<ellipse cx="342.36" cy="398.46" rx="8.58" ry="5.74" fill="url(#yg)"/>
<rect x="325.2" y="346.8" width="85.8" height="57.4" filter="url(#fl_b)"/>
<rect x="325.2" y="346.8" width="85.8" height="57.4" filter="url(#fd_b)"/>
<circle cx="401.81" cy="365.86" r="0.71" fill="#606170" opacity="0.47"/><circle cx="395.66" cy="349.19" r="0.59" fill="#38394c" opacity="0.73"/><circle cx="334.44" cy="380.96" r="0.72" fill="#38394c" opacity="0.66"/><circle cx="370.66" cy="370.84" r="0.61" fill="#55566a" opacity="0.63"/><circle cx="353.98" cy="382.53" r="0.81" fill="#38394c" opacity="0.49"/><circle cx="362.79" cy="389.04" r="0.82" fill="#45465a" opacity="0.66"/><circle cx="369.65" cy="380.03" r="0.74" fill="#606170" opacity="0.79"/><circle cx="380.57" cy="403.64" r="0.61" fill="#45465a" opacity="0.63"/><circle cx="395.54" cy="370.52" r="0.77" fill="#606170" opacity="0.52"/><circle cx="400.38" cy="394.08" r="0.8" fill="#606170" opacity="0.46"/><circle cx="329.87" cy="388.05" r="0.63" fill="#606170" opacity="0.48"/><circle cx="394.03" cy="389.07" r="0.7" fill="#45465a" opacity="0.62"/><circle cx="386.04" cy="377.85" r="0.6" fill="#45465a" opacity="0.63"/><circle cx="335.91" cy="401.77" r="0.83" fill="#45465a" opacity="0.65"/><circle cx="359.8" cy="359.25" r="0.76" fill="#38394c" opacity="0.52"/><circle cx="386.74" cy="403.87" r="0.58" fill="#606170" opacity="0.59"/><circle cx="347.13" cy="385.33" r="0.82" fill="#55566a" opacity="0.6"/><circle cx="376.59" cy="387.97" r="0.77" fill="#606170" opacity="0.6"/><circle cx="405.62" cy="366.99" r="0.77" fill="#45465a" opacity="0.78"/><circle cx="346.96" cy="369.9" r="0.85" fill="#606170" opacity="0.53"/><circle cx="389.25" cy="388.36" r="0.76" fill="#38394c" opacity="0.65"/><circle cx="360.04" cy="403.59" r="0.64" fill="#606170" opacity="0.82"/><circle cx="363.85" cy="368.26" r="0.61" fill="#606170" opacity="0.8"/><circle cx="386.09" cy="351.53" r="0.76" fill="#606170" opacity="0.72"/><circle cx="359.38" cy="391.05" r="0.85" fill="#55566a" opacity="0.53"/><circle cx="390.82" cy="363.09" r="0.7" fill="#606170" opacity="0.79"/><circle cx="341.46" cy="373.85" r="0.73" fill="#45465a" opacity="0.83"/><circle cx="353.93" cy="388.97" r="0.67" fill="#38394c" opacity="0.75"/><circle cx="341.43" cy="365.81" r="0.69" fill="#38394c" opacity="0.74"/><circle cx="397.63" cy="382.1" r="0.76" fill="#38394c" opacity="0.69"/><circle cx="401.16" cy="402.85" r="0.66" fill="#606170" opacity="0.57"/><circle cx="397.01" cy="357.18" r="0.67" fill="#38394c" opacity="0.56"/><circle cx="378.26" cy="374.13" r="0.78" fill="#38394c" opacity="0.63"/><circle cx="359.88" cy="389.38" r="0.63" fill="#606170" opacity="0.69"/><circle cx="396.07" cy="386.02" r="0.67" fill="#606170" opacity="0.62"/><circle cx="337.15" cy="387.14" r="0.83" fill="#38394c" opacity="0.61"/><circle cx="330.25" cy="357.86" r="0.85" fill="#606170" opacity="0.56"/><circle cx="404.55" cy="370.05" r="0.63" fill="#45465a" opacity="0.56"/><circle cx="337.92" cy="385.96" r="0.64" fill="#45465a" opacity="0.71"/><circle cx="339.23" cy="384.01" r="0.74" fill="#55566a" opacity="0.84"/><circle cx="346.79" cy="349.17" r="0.84" fill="#38394c" opacity="0.49"/><circle cx="407.46" cy="350.6" r="0.74" fill="#45465a" opacity="0.61"/><circle cx="369.21" cy="366.39" r="0.59" fill="#55566a" opacity="0.47"/><circle cx="381.83" cy="395.27" r="0.74" fill="#606170" opacity="0.48"/><circle cx="377.01" cy="380.51" r="0.62" fill="#38394c" opacity="0.67"/><circle cx="335.24" cy="387.58" r="0.82" fill="#38394c" opacity="0.81"/><circle cx="342.75" cy="374.95" r="0.8" fill="#45465a" opacity="0.68"/><circle cx="328.34" cy="364.9" r="0.64" fill="#45465a" opacity="0.49"/><circle cx="399.25" cy="378.86" r="0.81" fill="#55566a" opacity="0.74"/><circle cx="372.11" cy="367.91" r="0.68" fill="#45465a" opacity="0.81"/><circle cx="396.26" cy="362.66" r="0.67" fill="#606170" opacity="0.52"/><circle cx="335.98" cy="379.1" r="0.79" fill="#45465a" opacity="0.69"/><circle cx="348.14" cy="391.29" r="0.75" fill="#606170" opacity="0.7"/><circle cx="340.59" cy="391.76" r="0.78" fill="#45465a" opacity="0.46"/><circle cx="377.37" cy="349.2" r="0.69" fill="#55566a" opacity="0.83"/><circle cx="373.36" cy="385.15" r="0.79" fill="#45465a" opacity="0.7"/><circle cx="405.71" cy="391.92" r="0.84" fill="#606170" opacity="0.66"/><circle cx="389.59" cy="375.33" r="0.65" fill="#55566a" opacity="0.72"/><circle cx="328.87" cy="393.69" r="0.71" fill="#45465a" opacity="0.79"/><circle cx="326.37" cy="378.37" r="0.79" fill="#606170" opacity="0.45"/><circle cx="373.83" cy="353.28" r="0.58" fill="#45465a" opacity="0.62"/><circle cx="330.59" cy="379.79" r="0.83" fill="#45465a" opacity="0.67"/><circle cx="366.85" cy="364.1" r="0.61" fill="#606170" opacity="0.62"/><circle cx="328.61" cy="383.19" r="0.73" fill="#606170" opacity="0.74"/><circle cx="335.87" cy="347.47" r="0.59" fill="#45465a" opacity="0.5"/><circle cx="348.94" cy="364.11" r="0.63" fill="#38394c" opacity="0.64"/><circle cx="340.67" cy="350.64" r="0.73" fill="#38394c" opacity="0.56"/><circle cx="392.06" cy="369.8" r="0.74" fill="#606170" opacity="0.59"/><circle cx="346.29" cy="376.86" r="0.82" fill="#45465a" opacity="0.82"/><circle cx="347.08" cy="395.7" r="0.61" fill="#55566a" opacity="0.7"/><circle cx="366.68" cy="382.57" r="0.71" fill="#606170" opacity="0.73"/><circle cx="408.69" cy="367.16" r="0.59" fill="#55566a" opacity="0.48"/><circle cx="344.47" cy="402.98" r="0.84" fill="#55566a" opacity="0.64"/><circle cx="375.57" cy="403.15" r="0.62" fill="#55566a" opacity="0.71"/><circle cx="408.31" cy="387.27" r="0.6" fill="#55566a" opacity="0.58"/><circle cx="326.86" cy="381.98" r="0.71" fill="#38394c" opacity="0.73"/><circle cx="346.61" cy="354.23" r="0.57" fill="#55566a" opacity="0.49"/><circle cx="356.63" cy="358.29" r="0.67" fill="#606170" opacity="0.7"/><circle cx="390.96" cy="400.42" r="0.85" fill="#55566a" opacity="0.78"/><circle cx="327.47" cy="361.5" r="0.68" fill="#38394c" opacity="0.47"/><circle cx="348.04" cy="354.97" r="0.65" fill="#55566a" opacity="0.49"/><circle cx="406.84" cy="361.01" r="0.84" fill="#55566a" opacity="0.75"/><circle cx="355.76" cy="349.61" r="0.56" fill="#606170" opacity="0.59"/><circle cx="345.63" cy="397.47" r="0.65" fill="#45465a" opacity="0.8"/><circle cx="407.95" cy="384.46" r="0.81" fill="#606170" opacity="0.7"/><circle cx="350.67" cy="350.21" r="0.68" fill="#45465a" opacity="0.5"/><circle cx="399.37" cy="355.71" r="0.82" fill="#38394c" opacity="0.58"/><circle cx="348.33" cy="378.27" r="0.57" fill="#55566a" opacity="0.51"/><circle cx="346.85" cy="395.28" r="0.65" fill="#55566a" opacity="0.82"/><circle cx="368.29" cy="374.62" r="0.82" fill="#45465a" opacity="0.7"/><circle cx="402.87" cy="399.34" r="0.57" fill="#45465a" opacity="0.75"/><circle cx="345.93" cy="347.88" r="0.83" fill="#38394c" opacity="0.68"/><circle cx="382.71" cy="362.33" r="0.82" fill="#606170" opacity="0.48"/><circle cx="326.43" cy="352.38" r="0.7" fill="#606170" opacity="0.55"/><circle cx="361.14" cy="353.72" r="0.59" fill="#38394c" opacity="0.47"/><circle cx="342.97" cy="389.57" r="0.67" fill="#38394c" opacity="0.82"/><circle cx="364.3" cy="353.32" r="0.59" fill="#55566a" opacity="0.74"/><circle cx="343.67" cy="400.2" r="0.77" fill="#45465a" opacity="0.77"/><circle cx="325.88" cy="383.64" r="0.75" fill="#606170" opacity="0.58"/><circle cx="380.51" cy="385.85" r="0.67" fill="#55566a" opacity="0.65"/><circle cx="374.81" cy="391.83" r="0.61" fill="#38394c" opacity="0.82"/><circle cx="395.71" cy="383.93" r="0.72" fill="#45465a" opacity="0.77"/><circle cx="340.61" cy="388.49" r="0.66" fill="#45465a" opacity="0.69"/><circle cx="349.63" cy="395.1" r="0.62" fill="#45465a" opacity="0.84"/><circle cx="374.12" cy="351.69" r="0.65" fill="#38394c" opacity="0.54"/><circle cx="403.36" cy="373.34" r="0.56" fill="#606170" opacity="0.68"/><circle cx="406.1" cy="349.12" r="0.82" fill="#55566a" opacity="0.45"/><circle cx="334.42" cy="390.18" r="0.81" fill="#45465a" opacity="0.54"/><circle cx="328.78" cy="372.72" r="0.81" fill="#45465a" opacity="0.73"/><circle cx="395.22" cy="370.86" r="0.66" fill="#606170" opacity="0.71"/><circle cx="341.5" cy="395.21" r="0.69" fill="#606170" opacity="0.52"/><circle cx="334.4" cy="363.33" r="0.7" fill="#606170" opacity="0.8"/><circle cx="343.82" cy="373.45" r="0.63" fill="#45465a" opacity="0.81"/><circle cx="352.62" cy="398.98" r="0.67" fill="#45465a" opacity="0.52"/><circle cx="392.61" cy="387.31" r="0.67" fill="#606170" opacity="0.83"/><circle cx="337.2" cy="381.92" r="0.56" fill="#45465a" opacity="0.85"/><circle cx="398.26" cy="399.82" r="0.57" fill="#45465a" opacity="0.52"/><circle cx="382.02" cy="361.67" r="0.85" fill="#45465a" opacity="0.55"/><circle cx="348.95" cy="383.28" r="0.82" fill="#45465a" opacity="0.84"/><circle cx="387.35" cy="364.34" r="0.58" fill="#38394c" opacity="0.63"/><circle cx="383.37" cy="375.87" r="0.8" fill="#55566a" opacity="0.55"/><circle cx="396.36" cy="386.02" r="0.81" fill="#55566a" opacity="0.48"/><circle cx="403.29" cy="353.68" r="0.69" fill="#55566a" opacity="0.62"/><circle cx="397.25" cy="401.23" r="0.81" fill="#38394c" opacity="0.8"/><circle cx="374.42" cy="347.04" r="0.72" fill="#38394c" opacity="0.54"/><circle cx="328.08" cy="370.48" r="0.7" fill="#45465a" opacity="0.62"/><circle cx="364.52" cy="374.22" r="0.61" fill="#38394c" opacity="0.63"/><circle cx="383.67" cy="390.13" r="0.81" fill="#606170" opacity="0.77"/><circle cx="395.62" cy="366.68" r="0.75" fill="#38394c" opacity="0.59"/><circle cx="377.96" cy="369.35" r="0.75" fill="#55566a" opacity="0.78"/><circle cx="387.43" cy="379.14" r="0.75" fill="#55566a" opacity="0.66"/><circle cx="376.23" cy="369.06" r="0.73" fill="#45465a" opacity="0.8"/><circle cx="379.64" cy="396.61" r="0.72" fill="#38394c" opacity="0.52"/><circle cx="381.12" cy="354.18" r="0.64" fill="#55566a" opacity="0.74"/><circle cx="332.81" cy="385.69" r="0.67" fill="#606170" opacity="0.51"/><circle cx="355.71" cy="364.87" r="0.73" fill="#606170" opacity="0.84"/><circle cx="401.57" cy="396.39" r="0.82" fill="#38394c" opacity="0.6"/><circle cx="394.33" cy="367.31" r="0.77" fill="#38394c" opacity="0.48"/><circle cx="380.18" cy="381.17" r="0.66" fill="#45465a" opacity="0.5"/><circle cx="345.41" cy="380.65" r="0.57" fill="#606170" opacity="0.46"/><circle cx="410.74" cy="349.81" r="0.72" fill="#45465a" opacity="0.81"/><circle cx="345.58" cy="365.8" r="0.78" fill="#606170" opacity="0.58"/><circle cx="393.92" cy="372.27" r="0.65" fill="#38394c" opacity="0.69"/><circle cx="330.58" cy="365.07" r="0.81" fill="#45465a" opacity="0.62"/><circle cx="396.46" cy="389.19" r="0.79" fill="#606170" opacity="0.78"/><circle cx="349.12" cy="388.62" r="0.8" fill="#606170" opacity="0.7"/><circle cx="352.63" cy="355.56" r="0.79" fill="#38394c" opacity="0.84"/><circle cx="409.7" cy="361.82" r="0.67" fill="#38394c" opacity="0.49"/><circle cx="377.42" cy="399.47" r="0.64" fill="#38394c" opacity="0.7"/><circle cx="380.37" cy="371.3" r="0.59" fill="#45465a" opacity="0.83"/><circle cx="374.01" cy="384.37" r="0.79" fill="#606170" opacity="0.7"/><circle cx="377.62" cy="376.14" r="0.65" fill="#606170" opacity="0.57"/><circle cx="378.11" cy="386.5" r="0.57" fill="#38394c" opacity="0.8"/><circle cx="380.51" cy="389.56" r="0.74" fill="#55566a" opacity="0.55"/><circle cx="374.09" cy="374.9" r="0.67" fill="#606170" opacity="0.71"/><circle cx="387.23" cy="383.26" r="0.84" fill="#606170" opacity="0.55"/><circle cx="387.26" cy="391.19" r="0.64" fill="#55566a" opacity="0.77"/><circle cx="400.06" cy="384.7" r="0.71" fill="#38394c" opacity="0.75"/><circle cx="365.04" cy="382.1" r="0.6" fill="#38394c" opacity="0.58"/><circle cx="392.53" cy="393.74" r="0.82" fill="#45465a" opacity="0.53"/><circle cx="391.35" cy="374.25" r="0.7" fill="#55566a" opacity="0.65"/><circle cx="373.94" cy="375.07" r="0.57" fill="#38394c" opacity="0.84"/><circle cx="383.41" cy="401.58" r="0.75" fill="#606170" opacity="0.81"/><circle cx="378.96" cy="391.17" r="0.78" fill="#38394c" opacity="0.5"/><circle cx="374.99" cy="381.93" r="0.84" fill="#55566a" opacity="0.52"/><circle cx="382.57" cy="392.43" r="0.81" fill="#55566a" opacity="0.74"/><circle cx="387.43" cy="393.96" r="0.66" fill="#606170" opacity="0.68"/><circle cx="377.66" cy="386.55" r="0.73" fill="#606170" opacity="0.46"/><circle cx="378.13" cy="393.47" r="0.55" fill="#38394c" opacity="0.6"/><circle cx="376.99" cy="390.69" r="0.66" fill="#38394c" opacity="0.65"/><circle cx="392.56" cy="377" r="0.7" fill="#606170" opacity="0.81"/><circle cx="363.7" cy="401.39" r="0.55" fill="#38394c" opacity="0.56"/><circle cx="380.84" cy="394.26" r="0.83" fill="#38394c" opacity="0.61"/><circle cx="384.35" cy="381.86" r="0.62" fill="#606170" opacity="0.72"/><circle cx="380.09" cy="365.81" r="0.74" fill="#606170" opacity="0.81"/><circle cx="377.88" cy="387.03" r="0.65" fill="#45465a" opacity="0.6"/><circle cx="369.06" cy="377.79" r="0.66" fill="#45465a" opacity="0.67"/><circle cx="377.47" cy="389.69" r="0.66" fill="#55566a" opacity="0.84"/><circle cx="377.04" cy="402.3" r="0.62" fill="#606170" opacity="0.47"/><circle cx="384.4" cy="395.45" r="0.57" fill="#38394c" opacity="0.75"/><circle cx="364.21" cy="381.11" r="0.61" fill="#55566a" opacity="0.64"/><circle cx="380.03" cy="381.37" r="0.71" fill="#38394c" opacity="0.79"/><circle cx="380.24" cy="379.12" r="0.82" fill="#55566a" opacity="0.74"/><circle cx="371.65" cy="385.25" r="0.84" fill="#606170" opacity="0.81"/><circle cx="379.1" cy="382.37" r="0.77" fill="#55566a" opacity="0.62"/><circle cx="378.06" cy="397.26" r="0.76" fill="#606170" opacity="0.55"/><circle cx="382.48" cy="395.48" r="0.62" fill="#606170" opacity="0.63"/><circle cx="383.28" cy="387.24" r="0.58" fill="#55566a" opacity="0.74"/><circle cx="379.64" cy="395.35" r="0.85" fill="#55566a" opacity="0.55"/><circle cx="373.65" cy="369.43" r="0.67" fill="#55566a" opacity="0.5"/><circle cx="368.81" cy="382.58" r="0.6" fill="#606170" opacity="0.79"/><circle cx="369.17" cy="395.62" r="0.8" fill="#55566a" opacity="0.84"/><circle cx="375.38" cy="380.75" r="0.67" fill="#38394c" opacity="0.81"/><circle cx="391.79" cy="382.11" r="0.8" fill="#606170" opacity="0.79"/><circle cx="382.15" cy="387.6" r="0.6" fill="#606170" opacity="0.56"/><circle cx="375.28" cy="401.21" r="0.75" fill="#55566a" opacity="0.78"/><circle cx="388.38" cy="358.09" r="0.84" fill="#38394c" opacity="0.79"/><circle cx="378.59" cy="389.67" r="0.65" fill="#55566a" opacity="0.5"/><circle cx="383.41" cy="371.41" r="0.79" fill="#45465a" opacity="0.6"/><circle cx="388.12" cy="374.87" r="0.71" fill="#38394c" opacity="0.76"/><circle cx="381.59" cy="377.98" r="0.59" fill="#55566a" opacity="0.58"/><circle cx="385.65" cy="352.33" r="0.74" fill="#55566a" opacity="0.74"/><circle cx="386.33" cy="389.92" r="0.84" fill="#55566a" opacity="0.53"/><circle cx="387.64" cy="373.09" r="0.58" fill="#45465a" opacity="0.47"/><circle cx="377.11" cy="374.1" r="0.79" fill="#55566a" opacity="0.78"/><circle cx="383.15" cy="389.71" r="0.75" fill="#45465a" opacity="0.77"/><circle cx="394.91" cy="396.19" r="0.67" fill="#55566a" opacity="0.64"/><circle cx="361.41" cy="391.03" r="0.64" fill="#55566a" opacity="0.46"/><circle cx="380.39" cy="399.43" r="0.68" fill="#38394c" opacity="0.52"/><circle cx="384.95" cy="378.12" r="0.63" fill="#606170" opacity="0.48"/><circle cx="376.99" cy="400.49" r="0.74" fill="#38394c" opacity="0.78"/><circle cx="373.33" cy="389.1" r="0.66" fill="#45465a" opacity="0.7"/><circle cx="371.03" cy="400.51" r="0.55" fill="#606170" opacity="0.84"/><circle cx="388.63" cy="388.03" r="0.69" fill="#55566a" opacity="0.56"/><circle cx="371.56" cy="381.25" r="0.64" fill="#606170" opacity="0.69"/><circle cx="377.62" cy="382.94" r="0.83" fill="#38394c" opacity="0.52"/><circle cx="381.27" cy="369.44" r="0.84" fill="#38394c" opacity="0.46"/><circle cx="368.76" cy="375.53" r="0.66" fill="#45465a" opacity="0.68"/><circle cx="385.8" cy="372.57" r="0.82" fill="#55566a" opacity="0.72"/><circle cx="379.98" cy="396.62" r="0.73" fill="#45465a" opacity="0.46"/><circle cx="366.98" cy="363.48" r="0.78" fill="#606170" opacity="0.74"/><circle cx="363.55" cy="391.75" r="0.73" fill="#55566a" opacity="0.57"/><circle cx="381.47" cy="383.17" r="0.65" fill="#38394c" opacity="0.74"/><circle cx="369.96" cy="386.21" r="0.83" fill="#38394c" opacity="0.49"/><circle cx="365.82" cy="391.03" r="0.57" fill="#38394c" opacity="0.55"/><circle cx="378.44" cy="385.4" r="0.61" fill="#606170" opacity="0.5"/><circle cx="389.6" cy="373.15" r="0.78" fill="#38394c" opacity="0.56"/><circle cx="369.13" cy="390.57" r="0.75" fill="#45465a" opacity="0.45"/><circle cx="387.07" cy="374.15" r="0.74" fill="#606170" opacity="0.49"/><circle cx="369.76" cy="383.43" r="0.84" fill="#38394c" opacity="0.62"/><circle cx="382.82" cy="376.47" r="0.7" fill="#606170" opacity="0.73"/><circle cx="377.23" cy="379.04" r="0.75" fill="#606170" opacity="0.69"/><circle cx="395.61" cy="369.62" r="0.74" fill="#38394c" opacity="0.67"/><circle cx="387.17" cy="397.39" r="0.66" fill="#38394c" opacity="0.77"/><circle cx="365.81" cy="393.22" r="0.64" fill="#45465a" opacity="0.58"/><circle cx="376.57" cy="363.75" r="0.77" fill="#45465a" opacity="0.52"/><circle cx="353.73" cy="361.15" r="0.75" fill="#606170" opacity="0.46"/><circle cx="379.33" cy="359.44" r="0.57" fill="#38394c" opacity="0.56"/><circle cx="373.82" cy="357.85" r="0.75" fill="#55566a" opacity="0.64"/><circle cx="364.69" cy="361.32" r="0.6" fill="#45465a" opacity="0.79"/><circle cx="367" cy="369.77" r="0.61" fill="#38394c" opacity="0.47"/><circle cx="368.09" cy="360.65" r="0.63" fill="#606170" opacity="0.58"/><circle cx="367.31" cy="365.38" r="0.74" fill="#38394c" opacity="0.58"/><circle cx="365.42" cy="362.75" r="0.79" fill="#45465a" opacity="0.49"/><circle cx="363.7" cy="368.37" r="0.73" fill="#45465a" opacity="0.47"/><circle cx="380.77" cy="367" r="0.7" fill="#606170" opacity="0.47"/><circle cx="369.26" cy="360.71" r="0.72" fill="#38394c" opacity="0.74"/><circle cx="364.33" cy="376.28" r="0.8" fill="#55566a" opacity="0.85"/><circle cx="365.73" cy="369.49" r="0.8" fill="#38394c" opacity="0.54"/><circle cx="372.98" cy="362.68" r="0.63" fill="#38394c" opacity="0.46"/><circle cx="374.47" cy="371.53" r="0.67" fill="#38394c" opacity="0.74"/><circle cx="371.43" cy="360.8" r="0.83" fill="#606170" opacity="0.53"/><circle cx="398.7" cy="355.69" r="0.8" fill="#45465a" opacity="0.55"/><circle cx="398.44" cy="376.27" r="0.72" fill="#38394c" opacity="0.66"/><circle cx="395.26" cy="378.57" r="0.56" fill="#55566a" opacity="0.46"/><circle cx="389.28" cy="367.79" r="0.78" fill="#55566a" opacity="0.67"/><circle cx="388.87" cy="375.79" r="0.7" fill="#45465a" opacity="0.56"/><circle cx="394.86" cy="384.88" r="0.58" fill="#38394c" opacity="0.47"/><circle cx="392.89" cy="379.71" r="0.84" fill="#55566a" opacity="0.71"/><circle cx="397.44" cy="377.41" r="0.73" fill="#45465a" opacity="0.55"/><circle cx="401.99" cy="389.94" r="0.81" fill="#45465a" opacity="0.61"/><circle cx="405.55" cy="360.82" r="0.65" fill="#55566a" opacity="0.57"/><circle cx="400.51" cy="363.91" r="0.65" fill="#45465a" opacity="0.67"/><circle cx="399.23" cy="365.51" r="0.8" fill="#38394c" opacity="0.84"/><circle cx="403.17" cy="382.14" r="0.75" fill="#55566a" opacity="0.5"/><circle cx="397.7" cy="364.13" r="0.81" fill="#55566a" opacity="0.69"/><circle cx="387.72" cy="360.15" r="0.83" fill="#45465a" opacity="0.78"/><circle cx="395.57" cy="380.03" r="0.84" fill="#38394c" opacity="0.61"/>
</g>
<rect x="325.7" y="347.3" width="84.8" height="56.4" fill="none" stroke="#3a3a3a" stroke-width="1"/>
<text x="327.3" y="293.3" font-size="5.8" fill="#2a2a2a" textLength="16.83" lengthAdjust="spacingAndGlyphs">Vehicle</text>
<text x="327.3" y="353.2" font-size="5.8" font-weight="bold" fill="#3a3a3a">Hemin + NO<tspan font-size="4" dy="1">2</tspan><tspan dy="-1">-OA</tspan></text>
<text x="422.5" y="271.3" font-size="11" font-weight="bold" fill="#000">J</text>
<line x1="454.1" y1="288" x2="454.1" y2="375" stroke="#1a1a1a" stroke-width="1.1"/>
<line x1="451.5" y1="289" x2="454.1" y2="289" stroke="#1a1a1a" stroke-width="1.1"/>
<text x="448.2" y="291.2" font-size="6.4" text-anchor="end" textLength="6.69" lengthAdjust="spacingAndGlyphs">20</text>
<line x1="451.5" y1="310.5" x2="454.1" y2="310.5" stroke="#1a1a1a" stroke-width="1.1"/>
<text x="448.2" y="312.7" font-size="6.4" text-anchor="end" textLength="6.69" lengthAdjust="spacingAndGlyphs">15</text>
<line x1="451.5" y1="332" x2="454.1" y2="332" stroke="#1a1a1a" stroke-width="1.1"/>
<text x="448.2" y="334.2" font-size="6.4" text-anchor="end" textLength="6.69" lengthAdjust="spacingAndGlyphs">10</text>
<line x1="451.5" y1="353.5" x2="454.1" y2="353.5" stroke="#1a1a1a" stroke-width="1.1"/>
<text x="448.2" y="355.7" font-size="6.4" text-anchor="end" textLength="3.35" lengthAdjust="spacingAndGlyphs">5</text>
<line x1="451.5" y1="375" x2="454.1" y2="375" stroke="#1a1a1a" stroke-width="1.1"/>
<text x="448.2" y="377.2" font-size="6.4" text-anchor="end" textLength="3.35" lengthAdjust="spacingAndGlyphs">0</text>
<line x1="454.1" y1="375" x2="511.6" y2="375" stroke="#1a1a1a" stroke-width="0.9"/>
<line x1="471.8" y1="375" x2="471.8" y2="377.5" stroke="#1a1a1a" stroke-width="0.9"/>
<line x1="494.8" y1="375" x2="494.8" y2="377.5" stroke="#1a1a1a" stroke-width="0.9"/>
<polyline points="471.8,302.7 471.8,297 494.7,297 494.7,326.5" fill="none" stroke="#333" stroke-width="0.85"/>
<text x="483.25" y="297.6" font-size="6" text-anchor="middle">**</text>
<circle cx="468.4" cy="308" r="2.05" fill="#8887ad" stroke="#25264f" stroke-width="0.9"/>
<circle cx="472.1" cy="311.2" r="2.05" fill="#8887ad" stroke="#25264f" stroke-width="0.9"/>
<circle cx="464.5" cy="314.1" r="2.05" fill="#8887ad" stroke="#25264f" stroke-width="0.9"/>
<circle cx="468.4" cy="312.4" r="2.05" fill="#8887ad" stroke="#25264f" stroke-width="0.9"/>
<circle cx="476.6" cy="315.9" r="2.05" fill="#8887ad" stroke="#25264f" stroke-width="0.9"/>
<circle cx="468.4" cy="317.9" r="2.05" fill="#8887ad" stroke="#25264f" stroke-width="0.9"/>
<circle cx="464.5" cy="327.6" r="2.05" fill="#8887ad" stroke="#25264f" stroke-width="0.9"/>
<circle cx="468.4" cy="330" r="2.05" fill="#8887ad" stroke="#25264f" stroke-width="0.9"/>
<circle cx="476.2" cy="330" r="2.05" fill="#8887ad" stroke="#25264f" stroke-width="0.9"/>
<circle cx="472.4" cy="334.1" r="2.05" fill="#8887ad" stroke="#25264f" stroke-width="0.9"/>
<circle cx="470.4" cy="342.4" r="2.05" fill="#8887ad" stroke="#25264f" stroke-width="0.9"/>
<circle cx="488.8" cy="332.4" r="2.05" fill="#dcdfba" stroke="#35371a" stroke-width="0.95"/>
<circle cx="494.7" cy="331.2" r="2.05" fill="#dcdfba" stroke="#35371a" stroke-width="0.95"/>
<circle cx="500.9" cy="332.7" r="2.05" fill="#dcdfba" stroke="#35371a" stroke-width="0.95"/>
<circle cx="488.8" cy="337.6" r="2.05" fill="#dcdfba" stroke="#35371a" stroke-width="0.95"/>
<circle cx="500.9" cy="337.6" r="2.05" fill="#dcdfba" stroke="#35371a" stroke-width="0.95"/>
<circle cx="488.8" cy="342.4" r="2.05" fill="#dcdfba" stroke="#35371a" stroke-width="0.95"/>
<circle cx="494.7" cy="340.9" r="2.05" fill="#dcdfba" stroke="#35371a" stroke-width="0.95"/>
<circle cx="500.9" cy="342.9" r="2.05" fill="#dcdfba" stroke="#35371a" stroke-width="0.95"/>
<circle cx="494.7" cy="346.1" r="2.05" fill="#dcdfba" stroke="#35371a" stroke-width="0.95"/>
<circle cx="491.9" cy="361.2" r="2.05" fill="#dcdfba" stroke="#35371a" stroke-width="0.95"/>
<circle cx="498" cy="360.2" r="2.05" fill="#dcdfba" stroke="#35371a" stroke-width="0.95"/>
<line x1="462" y1="317.9" x2="478.6" y2="317.9" stroke="#222" stroke-width="0.7"/>
<line x1="486" y1="340.6" x2="503.5" y2="340.6" stroke="#222" stroke-width="0.7"/>
<text x="463.9" y="386.7" font-size="6.3" text-anchor="end" textLength="16.38" lengthAdjust="spacingAndGlyphs">Hemin</text>
<text x="463.9" y="396" font-size="6.3" text-anchor="end" textLength="8.19" lengthAdjust="spacingAndGlyphs">SO</text>
<text x="463.9" y="405.3" font-size="6.3" text-anchor="end">NO<tspan font-size="4.3" dy="1.2">2</tspan><tspan dy="-1.2">-OA</tspan></text>
<text x="471.8" y="386.7" font-size="6.3" text-anchor="middle" textLength="3.31" lengthAdjust="spacingAndGlyphs">+</text>
<text x="471.8" y="396" font-size="6.3" text-anchor="middle" textLength="3.31" lengthAdjust="spacingAndGlyphs">+</text>
<text x="471.8" y="405.3" font-size="6.3" text-anchor="middle" textLength="3.15" lengthAdjust="spacingAndGlyphs">–</text>
<text x="494.8" y="386.7" font-size="6.3" text-anchor="middle" textLength="3.31" lengthAdjust="spacingAndGlyphs">+</text>
<text x="494.8" y="396" font-size="6.3" text-anchor="middle" textLength="3.15" lengthAdjust="spacingAndGlyphs">–</text>
<text x="494.8" y="405.3" font-size="6.3" text-anchor="middle" textLength="3.31" lengthAdjust="spacingAndGlyphs">+</text>
<text x="434.6" y="331.3" font-size="7.2" text-anchor="middle" textLength="44" lengthAdjust="spacingAndGlyphs" transform="rotate(-90 434.6 331.3)">% Apoptotic cells</text>
<text x="140.3" y="422.5" font-size="11" font-weight="bold" fill="#000">K</text>
<line x1="162" y1="428" x2="162" y2="514.4" stroke="#1a1a1a" stroke-width="1.1"/>
<line x1="159.4" y1="428.96" x2="162" y2="428.96" stroke="#1a1a1a" stroke-width="1.1"/>
<text x="156.1" y="431.16" font-size="6.4" text-anchor="end" textLength="3.35" lengthAdjust="spacingAndGlyphs">8</text>
<line x1="159.4" y1="450.32" x2="162" y2="450.32" stroke="#1a1a1a" stroke-width="1.1"/>
<text x="156.1" y="452.52" font-size="6.4" text-anchor="end" textLength="3.35" lengthAdjust="spacingAndGlyphs">6</text>
<line x1="159.4" y1="471.68" x2="162" y2="471.68" stroke="#1a1a1a" stroke-width="1.1"/>
<text x="156.1" y="473.88" font-size="6.4" text-anchor="end" textLength="3.35" lengthAdjust="spacingAndGlyphs">4</text>
<line x1="159.4" y1="493.04" x2="162" y2="493.04" stroke="#1a1a1a" stroke-width="1.1"/>
<text x="156.1" y="495.24" font-size="6.4" text-anchor="end" textLength="3.35" lengthAdjust="spacingAndGlyphs">2</text>
<line x1="159.4" y1="514.4" x2="162" y2="514.4" stroke="#1a1a1a" stroke-width="1.1"/>
<text x="156.1" y="516.6" font-size="6.4" text-anchor="end" textLength="3.35" lengthAdjust="spacingAndGlyphs">0</text>
<line x1="162" y1="514.4" x2="213.8" y2="514.4" stroke="#1a1a1a" stroke-width="1.1"/>
<line x1="170.1" y1="514.4" x2="170.1" y2="516.9" stroke="#1a1a1a" stroke-width="0.9"/>
<line x1="183.3" y1="514.4" x2="183.3" y2="516.9" stroke="#1a1a1a" stroke-width="0.9"/>
<line x1="196.1" y1="514.4" x2="196.1" y2="516.9" stroke="#1a1a1a" stroke-width="0.9"/>
<line x1="209.6" y1="514.4" x2="209.6" y2="516.9" stroke="#1a1a1a" stroke-width="0.9"/>
<polyline points="170.1,489.4 170.1,435.7 183.3,435.7 183.3,439.8" fill="none" stroke="#333" stroke-width="0.85"/>
<text x="176.7" y="436.3" font-size="6" text-anchor="middle">***</text>
<polyline points="196.1,491.8 196.1,435.7 209.6,435.7 209.6,491.8" fill="none" stroke="#333" stroke-width="0.85"/>
<text x="202.85" y="434.4" font-size="5.8" text-anchor="middle" textLength="5.82" lengthAdjust="spacingAndGlyphs">ns</text>
<line x1="170.1" y1="503.2" x2="183.3" y2="445.5" stroke="#111" stroke-width="0.75"/>
<line x1="170.1" y1="505.2" x2="183.3" y2="459.6" stroke="#111" stroke-width="0.75"/>
<line x1="170.1" y1="506.5" x2="183.3" y2="471.5" stroke="#111" stroke-width="0.75"/>
<line x1="170.1" y1="492.3" x2="183.3" y2="474.3" stroke="#111" stroke-width="0.75"/>
<line x1="170.1" y1="508.1" x2="183.3" y2="477.2" stroke="#111" stroke-width="0.75"/>
<line x1="170.1" y1="506.5" x2="183.3" y2="479.6" stroke="#111" stroke-width="0.75"/>
<line x1="170.1" y1="509.7" x2="183.3" y2="491" stroke="#111" stroke-width="0.75"/>
<line x1="170.1" y1="512.2" x2="183.3" y2="505.2" stroke="#111" stroke-width="0.75"/>
<line x1="196.1" y1="500.3" x2="209.6" y2="505.7" stroke="#111" stroke-width="0.75"/>
<line x1="196.1" y1="504" x2="209.6" y2="503.6" stroke="#111" stroke-width="0.75"/>
<line x1="196.1" y1="506.5" x2="209.6" y2="507.3" stroke="#111" stroke-width="0.75"/>
<line x1="196.1" y1="509.4" x2="209.6" y2="505.7" stroke="#111" stroke-width="0.75"/>
<circle cx="170.1" cy="492.3" r="1.75" fill="#a4a3d0" stroke="#2b2d5c" stroke-width="0.85"/>
<circle cx="170.1" cy="503.2" r="1.75" fill="#a4a3d0" stroke="#2b2d5c" stroke-width="0.85"/>
<circle cx="170.1" cy="505.2" r="1.75" fill="#a4a3d0" stroke="#2b2d5c" stroke-width="0.85"/>
<circle cx="170.1" cy="506.5" r="1.75" fill="#a4a3d0" stroke="#2b2d5c" stroke-width="0.85"/>
<circle cx="170.1" cy="508.1" r="1.75" fill="#a4a3d0" stroke="#2b2d5c" stroke-width="0.85"/>
<circle cx="170.1" cy="509.7" r="1.75" fill="#a4a3d0" stroke="#2b2d5c" stroke-width="0.85"/>
<circle cx="170.1" cy="512.2" r="1.75" fill="#a4a3d0" stroke="#2b2d5c" stroke-width="0.85"/>
<circle cx="183.3" cy="445.5" r="1.75" fill="#dde0b8" stroke="#3c3f1e" stroke-width="0.85"/>
<circle cx="183.3" cy="459.6" r="1.75" fill="#dde0b8" stroke="#3c3f1e" stroke-width="0.85"/>
<circle cx="183.3" cy="471.5" r="1.75" fill="#dde0b8" stroke="#3c3f1e" stroke-width="0.85"/>
<circle cx="183.3" cy="474.3" r="1.75" fill="#dde0b8" stroke="#3c3f1e" stroke-width="0.85"/>
<circle cx="183.3" cy="477.2" r="1.75" fill="#dde0b8" stroke="#3c3f1e" stroke-width="0.85"/>
<circle cx="183.3" cy="479.6" r="1.75" fill="#dde0b8" stroke="#3c3f1e" stroke-width="0.85"/>
<circle cx="183.3" cy="491" r="1.75" fill="#dde0b8" stroke="#3c3f1e" stroke-width="0.85"/>
<circle cx="183.3" cy="505.2" r="1.75" fill="#dde0b8" stroke="#3c3f1e" stroke-width="0.85"/>
<circle cx="196.1" cy="500.3" r="1.75" fill="#a4a3d0" stroke="#2b2d5c" stroke-width="0.85"/>
<circle cx="196.1" cy="504" r="1.75" fill="#a4a3d0" stroke="#2b2d5c" stroke-width="0.85"/>
<circle cx="196.1" cy="506.5" r="1.75" fill="#a4a3d0" stroke="#2b2d5c" stroke-width="0.85"/>
<circle cx="196.1" cy="509.4" r="1.75" fill="#a4a3d0" stroke="#2b2d5c" stroke-width="0.85"/>
<circle cx="209.6" cy="503.6" r="1.75" fill="#dde0b8" stroke="#3c3f1e" stroke-width="0.85"/>
<circle cx="209.6" cy="505.7" r="1.75" fill="#dde0b8" stroke="#3c3f1e" stroke-width="0.85"/>
<circle cx="209.6" cy="507.3" r="1.75" fill="#dde0b8" stroke="#3c3f1e" stroke-width="0.85"/>
<text x="170.1" y="525.9" font-size="6.2" text-anchor="middle" textLength="3.1" lengthAdjust="spacingAndGlyphs">–</text>
<text x="170.1" y="535.4" font-size="6.2" text-anchor="middle" textLength="3.26" lengthAdjust="spacingAndGlyphs">+</text>
<text x="170.1" y="544.9" font-size="6.2" text-anchor="middle" textLength="3.1" lengthAdjust="spacingAndGlyphs">–</text>
<text x="183.3" y="525.9" font-size="6.2" text-anchor="middle" textLength="3.26" lengthAdjust="spacingAndGlyphs">+</text>
<text x="183.3" y="535.4" font-size="6.2" text-anchor="middle" textLength="3.26" lengthAdjust="spacingAndGlyphs">+</text>
<text x="183.3" y="544.9" font-size="6.2" text-anchor="middle" textLength="3.1" lengthAdjust="spacingAndGlyphs">–</text>
<text x="196.1" y="525.9" font-size="6.2" text-anchor="middle" textLength="3.1" lengthAdjust="spacingAndGlyphs">–</text>
<text x="196.1" y="535.4" font-size="6.2" text-anchor="middle" textLength="3.1" lengthAdjust="spacingAndGlyphs">–</text>
<text x="196.1" y="544.9" font-size="6.2" text-anchor="middle" textLength="3.26" lengthAdjust="spacingAndGlyphs">+</text>
<text x="209.6" y="525.9" font-size="6.2" text-anchor="middle" textLength="3.26" lengthAdjust="spacingAndGlyphs">+</text>
<text x="209.6" y="535.4" font-size="6.2" text-anchor="middle" textLength="3.1" lengthAdjust="spacingAndGlyphs">–</text>
<text x="209.6" y="544.9" font-size="6.2" text-anchor="middle" textLength="3.26" lengthAdjust="spacingAndGlyphs">+</text>
<text x="163.7" y="525.9" font-size="6.2" text-anchor="end" textLength="16.48" lengthAdjust="spacingAndGlyphs">Hemin</text>
<text x="163.7" y="535.4" font-size="6.2" text-anchor="end" textLength="8.24" lengthAdjust="spacingAndGlyphs">SO</text>
<text x="163.7" y="544.9" font-size="6.2" text-anchor="end">NO<tspan font-size="4.3" dy="1.2">2</tspan><tspan dy="-1.2">-OA</tspan></text>
<text x="147" y="471" font-size="7" text-anchor="middle" textLength="67.6" lengthAdjust="spacingAndGlyphs" transform="rotate(-90 147 471)">Plasma creatinine (mg/dL)</text>
<text x="235.3" y="422.5" font-size="11" font-weight="bold" fill="#000">L</text>
<line x1="259.2" y1="428" x2="259.2" y2="514.4" stroke="#1a1a1a" stroke-width="1.1"/>
<line x1="256.6" y1="429" x2="259.2" y2="429" stroke="#1a1a1a" stroke-width="1.1"/>
<text x="253.3" y="431.2" font-size="6.4" text-anchor="end" textLength="6.69" lengthAdjust="spacingAndGlyphs">40</text>
<line x1="256.6" y1="450.35" x2="259.2" y2="450.35" stroke="#1a1a1a" stroke-width="1.1"/>
<text x="253.3" y="452.55" font-size="6.4" text-anchor="end" textLength="6.69" lengthAdjust="spacingAndGlyphs">30</text>
<line x1="256.6" y1="471.7" x2="259.2" y2="471.7" stroke="#1a1a1a" stroke-width="1.1"/>
<text x="253.3" y="473.9" font-size="6.4" text-anchor="end" textLength="6.69" lengthAdjust="spacingAndGlyphs">20</text>
<line x1="256.6" y1="493.05" x2="259.2" y2="493.05" stroke="#1a1a1a" stroke-width="1.1"/>
<text x="253.3" y="495.25" font-size="6.4" text-anchor="end" textLength="6.69" lengthAdjust="spacingAndGlyphs">10</text>
<line x1="256.6" y1="514.4" x2="259.2" y2="514.4" stroke="#1a1a1a" stroke-width="1.1"/>
<text x="253.3" y="516.6" font-size="6.4" text-anchor="end" textLength="3.35" lengthAdjust="spacingAndGlyphs">0</text>
<line x1="259.2" y1="514.4" x2="313" y2="514.4" stroke="#1a1a1a" stroke-width="1.1"/>
<line x1="269" y1="514.4" x2="269" y2="516.9" stroke="#1a1a1a" stroke-width="0.9"/>
<line x1="281.7" y1="514.4" x2="281.7" y2="516.9" stroke="#1a1a1a" stroke-width="0.9"/>
<line x1="294.7" y1="514.4" x2="294.7" y2="516.9" stroke="#1a1a1a" stroke-width="0.9"/>
<line x1="307.8" y1="514.4" x2="307.8" y2="516.9" stroke="#1a1a1a" stroke-width="0.9"/>
<polyline points="269,461.7 269,444.3 281.7,444.3 281.7,454.5" fill="none" stroke="#333" stroke-width="0.85"/>
<text x="275.35" y="444.9" font-size="6" text-anchor="middle">*</text>
<polyline points="294.7,457.4 294.7,444.3 307.8,444.3 307.8,449.4" fill="none" stroke="#333" stroke-width="0.85"/>
<text x="301.25" y="443" font-size="5.8" text-anchor="middle" textLength="5.82" lengthAdjust="spacingAndGlyphs">ns</text>
<line x1="269" y1="466.8" x2="281.7" y2="458.8" stroke="#111" stroke-width="0.75"/>
<line x1="269" y1="471.1" x2="281.7" y2="461.7" stroke="#111" stroke-width="0.75"/>
<line x1="269" y1="475.5" x2="281.7" y2="465.3" stroke="#111" stroke-width="0.75"/>
<line x1="269" y1="476.9" x2="281.7" y2="470.4" stroke="#111" stroke-width="0.75"/>
<line x1="269" y1="482" x2="281.7" y2="474" stroke="#111" stroke-width="0.75"/>
<line x1="269" y1="483.4" x2="281.7" y2="475.5" stroke="#111" stroke-width="0.75"/>
<line x1="269" y1="486.3" x2="281.7" y2="487.8" stroke="#111" stroke-width="0.75"/>
<line x1="269" y1="492.8" x2="281.7" y2="484.1" stroke="#111" stroke-width="0.75"/>
<line x1="294.7" y1="473.3" x2="307.8" y2="454.5" stroke="#111" stroke-width="0.75"/>
<line x1="294.7" y1="462.4" x2="307.8" y2="470.4" stroke="#111" stroke-width="0.75"/>
<line x1="294.7" y1="475.5" x2="307.8" y2="466.8" stroke="#111" stroke-width="0.75"/>
<line x1="294.7" y1="479.1" x2="307.8" y2="478.4" stroke="#111" stroke-width="0.75"/>
<line x1="294.7" y1="482.7" x2="307.8" y2="484.9" stroke="#111" stroke-width="0.75"/>
<line x1="294.7" y1="486.3" x2="307.8" y2="489.2" stroke="#111" stroke-width="0.75"/>
<line x1="294.7" y1="482.7" x2="307.8" y2="495.7" stroke="#111" stroke-width="0.75"/>
<line x1="294.7" y1="486.3" x2="307.8" y2="497.2" stroke="#111" stroke-width="0.75"/>
<circle cx="269" cy="466.8" r="1.75" fill="#a4a3d0" stroke="#2b2d5c" stroke-width="0.85"/>
<circle cx="269" cy="471.1" r="1.75" fill="#a4a3d0" stroke="#2b2d5c" stroke-width="0.85"/>
<circle cx="269" cy="475.5" r="1.75" fill="#a4a3d0" stroke="#2b2d5c" stroke-width="0.85"/>
<circle cx="269" cy="476.9" r="1.75" fill="#a4a3d0" stroke="#2b2d5c" stroke-width="0.85"/>
<circle cx="269" cy="482" r="1.75" fill="#a4a3d0" stroke="#2b2d5c" stroke-width="0.85"/>
<circle cx="269" cy="483.4" r="1.75" fill="#a4a3d0" stroke="#2b2d5c" stroke-width="0.85"/>
<circle cx="269" cy="486.3" r="1.75" fill="#a4a3d0" stroke="#2b2d5c" stroke-width="0.85"/>
<circle cx="269" cy="492.8" r="1.75" fill="#a4a3d0" stroke="#2b2d5c" stroke-width="0.85"/>
<circle cx="281.7" cy="458.8" r="1.75" fill="#dde0b8" stroke="#3c3f1e" stroke-width="0.85"/>
<circle cx="281.7" cy="461.7" r="1.75" fill="#dde0b8" stroke="#3c3f1e" stroke-width="0.85"/>
<circle cx="281.7" cy="465.3" r="1.75" fill="#dde0b8" stroke="#3c3f1e" stroke-width="0.85"/>
<circle cx="281.7" cy="470.4" r="1.75" fill="#dde0b8" stroke="#3c3f1e" stroke-width="0.85"/>
<circle cx="281.7" cy="474" r="1.75" fill="#dde0b8" stroke="#3c3f1e" stroke-width="0.85"/>
<circle cx="281.7" cy="475.5" r="1.75" fill="#dde0b8" stroke="#3c3f1e" stroke-width="0.85"/>
<circle cx="281.7" cy="484.1" r="1.75" fill="#dde0b8" stroke="#3c3f1e" stroke-width="0.85"/>
<circle cx="281.7" cy="487.8" r="1.75" fill="#dde0b8" stroke="#3c3f1e" stroke-width="0.85"/>
<circle cx="294.7" cy="462.4" r="1.75" fill="#a4a3d0" stroke="#2b2d5c" stroke-width="0.85"/>
<circle cx="294.7" cy="473.3" r="1.75" fill="#a4a3d0" stroke="#2b2d5c" stroke-width="0.85"/>
<circle cx="294.7" cy="475.5" r="1.75" fill="#a4a3d0" stroke="#2b2d5c" stroke-width="0.85"/>
<circle cx="294.7" cy="479.1" r="1.75" fill="#a4a3d0" stroke="#2b2d5c" stroke-width="0.85"/>
<circle cx="294.7" cy="482.7" r="1.75" fill="#a4a3d0" stroke="#2b2d5c" stroke-width="0.85"/>
<circle cx="294.7" cy="486.3" r="1.75" fill="#a4a3d0" stroke="#2b2d5c" stroke-width="0.85"/>
<circle cx="307.8" cy="454.5" r="1.75" fill="#dde0b8" stroke="#3c3f1e" stroke-width="0.85"/>
<circle cx="307.8" cy="466.8" r="1.75" fill="#dde0b8" stroke="#3c3f1e" stroke-width="0.85"/>
<circle cx="307.8" cy="470.4" r="1.75" fill="#dde0b8" stroke="#3c3f1e" stroke-width="0.85"/>
<circle cx="307.8" cy="478.4" r="1.75" fill="#dde0b8" stroke="#3c3f1e" stroke-width="0.85"/>
<circle cx="307.8" cy="484.9" r="1.75" fill="#dde0b8" stroke="#3c3f1e" stroke-width="0.85"/>
<circle cx="307.8" cy="489.2" r="1.75" fill="#dde0b8" stroke="#3c3f1e" stroke-width="0.85"/>
<circle cx="307.8" cy="495.7" r="1.75" fill="#dde0b8" stroke="#3c3f1e" stroke-width="0.85"/>
<circle cx="307.8" cy="497.2" r="1.75" fill="#dde0b8" stroke="#3c3f1e" stroke-width="0.85"/>
<text x="269" y="525.9" font-size="6.2" text-anchor="middle" textLength="3.1" lengthAdjust="spacingAndGlyphs">–</text>
<text x="269" y="535.4" font-size="6.2" text-anchor="middle" textLength="3.26" lengthAdjust="spacingAndGlyphs">+</text>
<text x="269" y="544.9" font-size="6.2" text-anchor="middle" textLength="3.1" lengthAdjust="spacingAndGlyphs">–</text>
<text x="281.7" y="525.9" font-size="6.2" text-anchor="middle" textLength="3.26" lengthAdjust="spacingAndGlyphs">+</text>
<text x="281.7" y="535.4" font-size="6.2" text-anchor="middle" textLength="3.26" lengthAdjust="spacingAndGlyphs">+</text>
<text x="281.7" y="544.9" font-size="6.2" text-anchor="middle" textLength="3.1" lengthAdjust="spacingAndGlyphs">–</text>
<text x="294.7" y="525.9" font-size="6.2" text-anchor="middle" textLength="3.1" lengthAdjust="spacingAndGlyphs">–</text>
<text x="294.7" y="535.4" font-size="6.2" text-anchor="middle" textLength="3.1" lengthAdjust="spacingAndGlyphs">–</text>
<text x="294.7" y="544.9" font-size="6.2" text-anchor="middle" textLength="3.26" lengthAdjust="spacingAndGlyphs">+</text>
<text x="307.8" y="525.9" font-size="6.2" text-anchor="middle" textLength="3.26" lengthAdjust="spacingAndGlyphs">+</text>
<text x="307.8" y="535.4" font-size="6.2" text-anchor="middle" textLength="3.1" lengthAdjust="spacingAndGlyphs">–</text>
<text x="307.8" y="544.9" font-size="6.2" text-anchor="middle" textLength="3.26" lengthAdjust="spacingAndGlyphs">+</text>
<text x="262.6" y="525.9" font-size="6.2" text-anchor="end" textLength="16.48" lengthAdjust="spacingAndGlyphs">Hemin</text>
<text x="262.6" y="535.4" font-size="6.2" text-anchor="end" textLength="8.24" lengthAdjust="spacingAndGlyphs">SO</text>
<text x="262.6" y="544.9" font-size="6.2" text-anchor="end">NO<tspan font-size="4.3" dy="1.2">2</tspan><tspan dy="-1.2">-OA</tspan></text>
<text x="242.5" y="467.8" font-size="7" text-anchor="middle" textLength="58" lengthAdjust="spacingAndGlyphs" transform="rotate(-90 242.5 467.8)">Plasma BUN (mg/dL)</text>
<text x="334.3" y="422.5" font-size="11" font-weight="bold" fill="#000">M</text>
<line x1="360.8" y1="428" x2="360.8" y2="514.4" stroke="#1a1a1a" stroke-width="1.1"/>
<line x1="358.2" y1="429.44" x2="360.8" y2="429.44" stroke="#1a1a1a" stroke-width="1.1"/>
<text x="354.9" y="431.64" font-size="6.4" text-anchor="end" textLength="6.69" lengthAdjust="spacingAndGlyphs">12</text>
<line x1="358.2" y1="450.68" x2="360.8" y2="450.68" stroke="#1a1a1a" stroke-width="1.1"/>
<text x="354.9" y="452.88" font-size="6.4" text-anchor="end" textLength="3.35" lengthAdjust="spacingAndGlyphs">9</text>
<line x1="358.2" y1="471.92" x2="360.8" y2="471.92" stroke="#1a1a1a" stroke-width="1.1"/>
<text x="354.9" y="474.12" font-size="6.4" text-anchor="end" textLength="3.35" lengthAdjust="spacingAndGlyphs">6</text>
<line x1="358.2" y1="493.16" x2="360.8" y2="493.16" stroke="#1a1a1a" stroke-width="1.1"/>
<text x="354.9" y="495.36" font-size="6.4" text-anchor="end" textLength="3.35" lengthAdjust="spacingAndGlyphs">3</text>
<line x1="358.2" y1="514.4" x2="360.8" y2="514.4" stroke="#1a1a1a" stroke-width="1.1"/>
<text x="354.9" y="516.6" font-size="6.4" text-anchor="end" textLength="3.35" lengthAdjust="spacingAndGlyphs">0</text>
<line x1="360.8" y1="514.4" x2="415.4" y2="514.4" stroke="#1a1a1a" stroke-width="1.1"/>
<line x1="366.5" y1="514.4" x2="366.5" y2="516.9" stroke="#1a1a1a" stroke-width="0.9"/>
<line x1="378.9" y1="514.4" x2="378.9" y2="516.9" stroke="#1a1a1a" stroke-width="0.9"/>
<line x1="395.2" y1="514.4" x2="395.2" y2="516.9" stroke="#1a1a1a" stroke-width="0.9"/>
<line x1="407.3" y1="514.4" x2="407.3" y2="516.9" stroke="#1a1a1a" stroke-width="0.9"/>
<polyline points="366.5,491.2 366.5,450.4 378.9,450.4 378.9,454.2" fill="none" stroke="#333" stroke-width="0.85"/>
<text x="372.7" y="451" font-size="6" text-anchor="middle">***</text>
<polyline points="395.2,500.6 395.2,450.4 407.3,450.4 407.3,467.1" fill="none" stroke="#333" stroke-width="0.85"/>
<text x="401.25" y="451" font-size="6" text-anchor="middle">*</text>
<polyline points="378.9,437.9 378.9,431.9 407.3,431.9 407.3,437.9" fill="none" stroke="#333" stroke-width="0.85"/>
<text x="393.1" y="432.5" font-size="6" text-anchor="middle">*</text>
<line x1="366.5" y1="501.5" x2="378.9" y2="460.2" stroke="#111" stroke-width="0.75"/>
<line x1="366.5" y1="504.1" x2="378.9" y2="467.6" stroke="#111" stroke-width="0.75"/>
<line x1="366.5" y1="492.9" x2="378.9" y2="472.8" stroke="#111" stroke-width="0.75"/>
<line x1="366.5" y1="506.6" x2="378.9" y2="480" stroke="#111" stroke-width="0.75"/>
<line x1="366.5" y1="506.6" x2="378.9" y2="481.7" stroke="#111" stroke-width="0.75"/>
<line x1="366.5" y1="509.2" x2="378.9" y2="497.2" stroke="#111" stroke-width="0.75"/>
<line x1="366.5" y1="510.9" x2="378.9" y2="504.1" stroke="#111" stroke-width="0.75"/>
<line x1="395.2" y1="503.2" x2="407.3" y2="470.5" stroke="#111" stroke-width="0.75"/>
<line x1="395.2" y1="505.8" x2="407.3" y2="485.2" stroke="#111" stroke-width="0.75"/>
<line x1="395.2" y1="508.4" x2="407.3" y2="488.6" stroke="#111" stroke-width="0.75"/>
<line x1="395.2" y1="508.4" x2="407.3" y2="493.8" stroke="#111" stroke-width="0.75"/>
<line x1="395.2" y1="510.9" x2="407.3" y2="499.8" stroke="#111" stroke-width="0.75"/>
<line x1="395.2" y1="510.9" x2="407.3" y2="503.2" stroke="#111" stroke-width="0.75"/>
<circle cx="366.5" cy="492.9" r="1.75" fill="#a4a3d0" stroke="#2b2d5c" stroke-width="0.85"/>
<circle cx="366.5" cy="501.5" r="1.75" fill="#a4a3d0" stroke="#2b2d5c" stroke-width="0.85"/>
<circle cx="366.5" cy="504.1" r="1.75" fill="#a4a3d0" stroke="#2b2d5c" stroke-width="0.85"/>
<circle cx="366.5" cy="506.6" r="1.75" fill="#a4a3d0" stroke="#2b2d5c" stroke-width="0.85"/>
<circle cx="366.5" cy="509.2" r="1.75" fill="#a4a3d0" stroke="#2b2d5c" stroke-width="0.85"/>
<circle cx="366.5" cy="510.9" r="1.75" fill="#a4a3d0" stroke="#2b2d5c" stroke-width="0.85"/>
<circle cx="378.9" cy="460.2" r="1.75" fill="#dde0b8" stroke="#3c3f1e" stroke-width="0.85"/>
<circle cx="378.9" cy="467.6" r="1.75" fill="#dde0b8" stroke="#3c3f1e" stroke-width="0.85"/>
<circle cx="378.9" cy="472.8" r="1.75" fill="#dde0b8" stroke="#3c3f1e" stroke-width="0.85"/>
<circle cx="378.9" cy="480" r="1.75" fill="#dde0b8" stroke="#3c3f1e" stroke-width="0.85"/>
<circle cx="378.9" cy="481.7" r="1.75" fill="#dde0b8" stroke="#3c3f1e" stroke-width="0.85"/>
<circle cx="378.9" cy="497.2" r="1.75" fill="#dde0b8" stroke="#3c3f1e" stroke-width="0.85"/>
<circle cx="378.9" cy="504.1" r="1.75" fill="#dde0b8" stroke="#3c3f1e" stroke-width="0.85"/>
<circle cx="395.2" cy="500.6" r="1.75" fill="#a4a3d0" stroke="#2b2d5c" stroke-width="0.85"/>
<circle cx="395.2" cy="503.2" r="1.75" fill="#a4a3d0" stroke="#2b2d5c" stroke-width="0.85"/>
<circle cx="395.2" cy="505.8" r="1.75" fill="#a4a3d0" stroke="#2b2d5c" stroke-width="0.85"/>
<circle cx="395.2" cy="508.4" r="1.75" fill="#a4a3d0" stroke="#2b2d5c" stroke-width="0.85"/>
<circle cx="395.2" cy="510.9" r="1.75" fill="#a4a3d0" stroke="#2b2d5c" stroke-width="0.85"/>
<circle cx="407.3" cy="470.5" r="1.75" fill="#dde0b8" stroke="#3c3f1e" stroke-width="0.85"/>
<circle cx="407.3" cy="485.2" r="1.75" fill="#dde0b8" stroke="#3c3f1e" stroke-width="0.85"/>
<circle cx="407.3" cy="488.6" r="1.75" fill="#dde0b8" stroke="#3c3f1e" stroke-width="0.85"/>
<circle cx="407.3" cy="493.8" r="1.75" fill="#dde0b8" stroke="#3c3f1e" stroke-width="0.85"/>
<circle cx="407.3" cy="499.8" r="1.75" fill="#dde0b8" stroke="#3c3f1e" stroke-width="0.85"/>
<circle cx="407.3" cy="503.2" r="1.75" fill="#dde0b8" stroke="#3c3f1e" stroke-width="0.85"/>
<text x="366.5" y="525.9" font-size="6.2" text-anchor="middle" textLength="3.1" lengthAdjust="spacingAndGlyphs">–</text>
<text x="366.5" y="535.4" font-size="6.2" text-anchor="middle" textLength="3.26" lengthAdjust="spacingAndGlyphs">+</text>
<text x="366.5" y="544.9" font-size="6.2" text-anchor="middle" textLength="3.1" lengthAdjust="spacingAndGlyphs">–</text>
<text x="378.9" y="525.9" font-size="6.2" text-anchor="middle" textLength="3.26" lengthAdjust="spacingAndGlyphs">+</text>
<text x="378.9" y="535.4" font-size="6.2" text-anchor="middle" textLength="3.26" lengthAdjust="spacingAndGlyphs">+</text>
<text x="378.9" y="544.9" font-size="6.2" text-anchor="middle" textLength="3.1" lengthAdjust="spacingAndGlyphs">–</text>
<text x="395.2" y="525.9" font-size="6.2" text-anchor="middle" textLength="3.1" lengthAdjust="spacingAndGlyphs">–</text>
<text x="395.2" y="535.4" font-size="6.2" text-anchor="middle" textLength="3.1" lengthAdjust="spacingAndGlyphs">–</text>
<text x="395.2" y="544.9" font-size="6.2" text-anchor="middle" textLength="3.26" lengthAdjust="spacingAndGlyphs">+</text>
<text x="407.3" y="525.9" font-size="6.2" text-anchor="middle" textLength="3.26" lengthAdjust="spacingAndGlyphs">+</text>
<text x="407.3" y="535.4" font-size="6.2" text-anchor="middle" textLength="3.1" lengthAdjust="spacingAndGlyphs">–</text>
<text x="407.3" y="544.9" font-size="6.2" text-anchor="middle" textLength="3.26" lengthAdjust="spacingAndGlyphs">+</text>
<text x="360.1" y="525.9" font-size="6.2" text-anchor="end" textLength="16.48" lengthAdjust="spacingAndGlyphs">Hemin</text>
<text x="360.1" y="535.4" font-size="6.2" text-anchor="end" textLength="8.24" lengthAdjust="spacingAndGlyphs">SO</text>
<text x="360.1" y="544.9" font-size="6.2" text-anchor="end">NO<tspan font-size="4.3" dy="1.2">2</tspan><tspan dy="-1.2">-OA</tspan></text>
<text x="341.5" y="470.6" font-size="7" text-anchor="middle" textLength="54" lengthAdjust="spacingAndGlyphs" transform="rotate(-90 341.5 470.6)">Urine KIM-1 (ng/mL)</text>
</svg>
</body></html>
